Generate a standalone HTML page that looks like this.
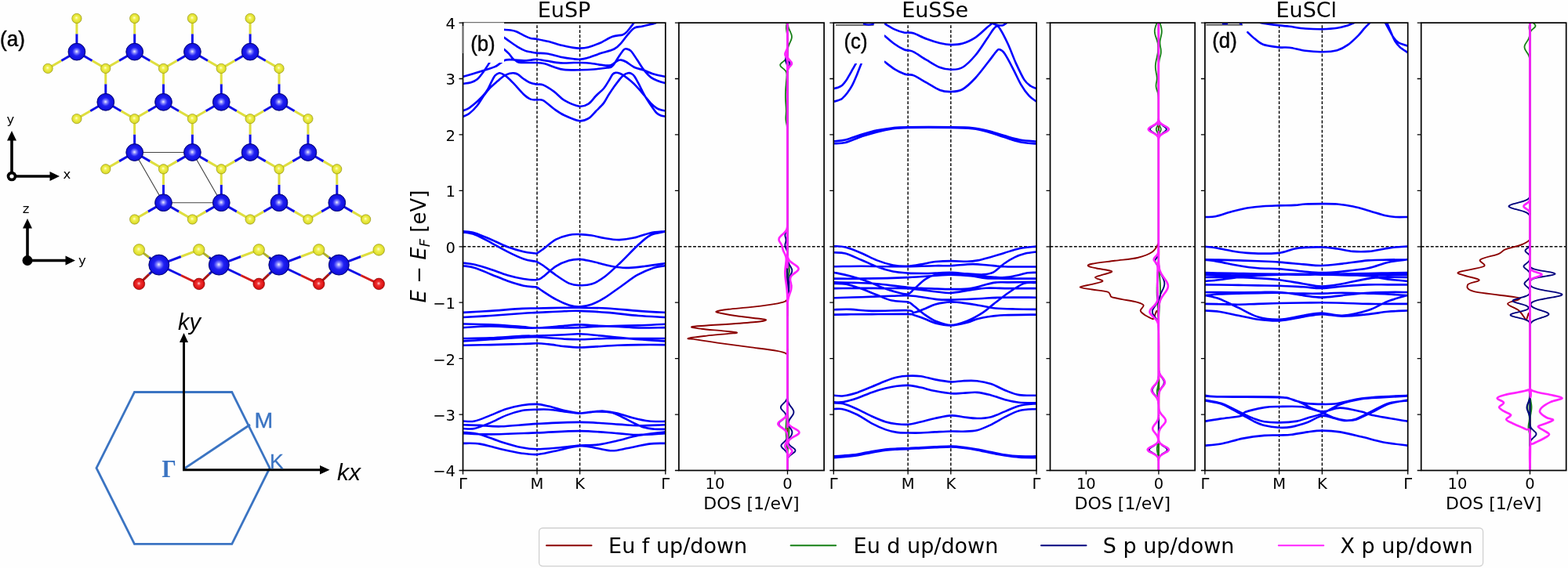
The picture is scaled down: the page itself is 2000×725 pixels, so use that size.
<!DOCTYPE html><html><head><meta charset="utf-8"><title>EuSX band structures</title>
<style>html,body{margin:0;padding:0;background:#fff;}svg{display:block;}text{font-family:'DejaVu Sans', 'Liberation Sans', sans-serif;}</style></head><body>
<svg width="2000" height="725" viewBox="0 0 2000 725">
<rect width="2000" height="725" fill="#fefefe"/>
<defs>
<radialGradient id="gEu" cx="0.5" cy="0.5" r="0.55" fx="0.49" fy="0.48"><stop offset="0" stop-color="#f0f0ff"/><stop offset="0.2" stop-color="#8080ff"/><stop offset="0.45" stop-color="#2020f2"/><stop offset="0.82" stop-color="#1010de"/><stop offset="1" stop-color="#000088"/></radialGradient>
<radialGradient id="gS" cx="0.5" cy="0.5" r="0.55" fx="0.46" fy="0.42"><stop offset="0" stop-color="#ffffe0"/><stop offset="0.3" stop-color="#f2f255"/><stop offset="0.8" stop-color="#dcdc2a"/><stop offset="1" stop-color="#8e8e08"/></radialGradient>
<radialGradient id="gO" cx="0.5" cy="0.5" r="0.55" fx="0.48" fy="0.45"><stop offset="0" stop-color="#ffd0d0"/><stop offset="0.3" stop-color="#f03030"/><stop offset="0.8" stop-color="#d81010"/><stop offset="1" stop-color="#8a0000"/></radialGradient>
<clipPath id="cb0"><rect x="590.5" y="29.1" width="258.3" height="571.4"/></clipPath>
<clipPath id="cd0"><rect x="865.9" y="29.1" width="185.2" height="571.4"/></clipPath>
<clipPath id="cb1"><rect x="1063.3" y="29.1" width="258.7" height="571.4"/></clipPath>
<clipPath id="cd1"><rect x="1339.5" y="29.1" width="184.7" height="571.4"/></clipPath>
<clipPath id="cb2"><rect x="1536.9" y="29.1" width="258.8" height="571.4"/></clipPath>
<clipPath id="cd2"><rect x="1812.7" y="29.1" width="185" height="571.4"/></clipPath>
</defs>
<text transform="translate(0 59.3) scale(0.93 1)" style="font-family:'Liberation Sans',sans-serif" font-size="28" fill="#000" stroke="#000" stroke-width="0.45">(a)</text>
<path d="M97.9 66.1L97.9 43.3M97.9 66.1L78.2 77.5M97.9 66.1L117.6 77.5M171.7 66.1L171.7 43.3M171.7 66.1L151.9 77.5M171.7 66.1L191.4 77.5M245.4 66.1L245.4 43.3M245.4 66.1L225.7 77.5M245.4 66.1L265.1 77.5M319.1 66.1L319.1 43.3M319.1 66.1L299.4 77.5M319.1 66.1L338.9 77.5M134.8 130.3L134.8 107.3M134.8 130.3L115.1 141.7M134.8 130.3L154.5 141.7M208.5 130.3L208.5 107.3M208.5 130.3L188.8 141.7M208.5 130.3L228.2 141.7M282.3 130.3L282.3 107.3M282.3 130.3L262.5 141.7M282.3 130.3L302 141.7M356 130.3L356 107.3M356 130.3L336.3 141.7M356 130.3L375.7 141.7M171.7 194.5L171.6 171.5M171.7 194.5L151.9 205.9M171.7 194.5L191.4 205.9M245.4 194.5L245.4 171.5M245.4 194.5L225.7 205.9M245.4 194.5L265.1 205.9M319.1 194.5L319.1 171.5M319.1 194.5L299.4 205.9M319.1 194.5L338.9 205.9M392.9 194.5L392.9 171.5M392.9 194.5L373.2 205.9M392.9 194.5L412.6 205.9M208.5 258.7L208.5 235.7M208.5 258.7L188.8 270.1M208.5 258.7L228.2 270.1M282.3 258.7L282.3 235.7M282.3 258.7L262.5 270.1M282.3 258.7L302 270.1M356 258.7L356 235.7M356 258.7L336.3 270.1M356 258.7L375.7 270.1M429.8 258.7L429.8 235.7M429.8 258.7L410 270.1M429.8 258.7L449.5 270.1" stroke="#1010e6" stroke-width="3" fill="none"/>
<path d="M97.9 43.3L97.9 23.5M78.2 77.5L61.1 87.4M117.6 77.5L134.7 87.4M171.7 43.3L171.7 23.5M151.9 77.5L134.7 87.4M191.4 77.5L208.5 87.4M245.4 43.3L245.4 23.5M225.7 77.5L208.5 87.4M265.1 77.5L282.2 87.4M319.1 43.3L319.1 23.5M299.4 77.5L282.2 87.4M338.9 77.5L356 87.4M134.8 107.3L134.7 87.4M115.1 141.7L97.9 151.6M154.5 141.7L171.6 151.6M208.5 107.3L208.5 87.4M188.8 141.7L171.6 151.6M228.2 141.7L245.4 151.6M282.3 107.3L282.2 87.4M262.5 141.7L245.4 151.6M302 141.7L319.1 151.6M356 107.3L356 87.4M336.3 141.7L319.1 151.6M375.7 141.7L392.9 151.6M171.6 171.5L171.6 151.6M151.9 205.9L134.8 215.8M191.4 205.9L208.5 215.8M245.4 171.5L245.4 151.6M225.7 205.9L208.5 215.8M265.1 205.9L282.2 215.8M319.1 171.5L319.1 151.6M299.4 205.9L282.2 215.8M338.9 205.9L356 215.8M392.9 171.5L392.9 151.6M373.2 205.9L356 215.8M412.6 205.9L429.7 215.8M208.5 235.7L208.5 215.8M188.8 270.1L171.7 280M228.2 270.1L245.4 280M282.3 235.7L282.2 215.8M262.5 270.1L245.4 280M302 270.1L319.1 280M356 235.7L356 215.8M336.3 270.1L319.1 280M375.7 270.1L392.9 280M429.8 235.7L429.7 215.8M410 270.1L392.9 280M449.5 270.1L466.6 280" stroke="#dede3e" stroke-width="3" fill="none"/>
<path d="M171.7 194.5L245.5 194.5L282.3 258.7L208.6 258.7Z" stroke="#444" stroke-width="1.1" fill="none"/>
<circle cx="97.9" cy="23.5" r="6.2" fill="url(#gS)" stroke="#9a9a18" stroke-width="0.6"/>
<circle cx="61.1" cy="87.4" r="6.2" fill="url(#gS)" stroke="#9a9a18" stroke-width="0.6"/>
<circle cx="134.7" cy="87.4" r="6.2" fill="url(#gS)" stroke="#9a9a18" stroke-width="0.6"/>
<circle cx="171.7" cy="23.5" r="6.2" fill="url(#gS)" stroke="#9a9a18" stroke-width="0.6"/>
<circle cx="208.5" cy="87.4" r="6.2" fill="url(#gS)" stroke="#9a9a18" stroke-width="0.6"/>
<circle cx="245.4" cy="23.5" r="6.2" fill="url(#gS)" stroke="#9a9a18" stroke-width="0.6"/>
<circle cx="282.2" cy="87.4" r="6.2" fill="url(#gS)" stroke="#9a9a18" stroke-width="0.6"/>
<circle cx="319.1" cy="23.5" r="6.2" fill="url(#gS)" stroke="#9a9a18" stroke-width="0.6"/>
<circle cx="356" cy="87.4" r="6.2" fill="url(#gS)" stroke="#9a9a18" stroke-width="0.6"/>
<circle cx="97.9" cy="151.6" r="6.2" fill="url(#gS)" stroke="#9a9a18" stroke-width="0.6"/>
<circle cx="171.6" cy="151.6" r="6.2" fill="url(#gS)" stroke="#9a9a18" stroke-width="0.6"/>
<circle cx="245.4" cy="151.6" r="6.2" fill="url(#gS)" stroke="#9a9a18" stroke-width="0.6"/>
<circle cx="319.1" cy="151.6" r="6.2" fill="url(#gS)" stroke="#9a9a18" stroke-width="0.6"/>
<circle cx="392.9" cy="151.6" r="6.2" fill="url(#gS)" stroke="#9a9a18" stroke-width="0.6"/>
<circle cx="134.8" cy="215.8" r="6.2" fill="url(#gS)" stroke="#9a9a18" stroke-width="0.6"/>
<circle cx="208.5" cy="215.8" r="6.2" fill="url(#gS)" stroke="#9a9a18" stroke-width="0.6"/>
<circle cx="282.2" cy="215.8" r="6.2" fill="url(#gS)" stroke="#9a9a18" stroke-width="0.6"/>
<circle cx="356" cy="215.8" r="6.2" fill="url(#gS)" stroke="#9a9a18" stroke-width="0.6"/>
<circle cx="429.7" cy="215.8" r="6.2" fill="url(#gS)" stroke="#9a9a18" stroke-width="0.6"/>
<circle cx="171.7" cy="280" r="6.2" fill="url(#gS)" stroke="#9a9a18" stroke-width="0.6"/>
<circle cx="245.4" cy="280" r="6.2" fill="url(#gS)" stroke="#9a9a18" stroke-width="0.6"/>
<circle cx="319.1" cy="280" r="6.2" fill="url(#gS)" stroke="#9a9a18" stroke-width="0.6"/>
<circle cx="392.9" cy="280" r="6.2" fill="url(#gS)" stroke="#9a9a18" stroke-width="0.6"/>
<circle cx="466.6" cy="280" r="6.2" fill="url(#gS)" stroke="#9a9a18" stroke-width="0.6"/>
<circle cx="97.9" cy="66.1" r="10.9" fill="url(#gEu)" stroke="#00006e" stroke-width="0.9"/>
<circle cx="171.7" cy="66.1" r="10.9" fill="url(#gEu)" stroke="#00006e" stroke-width="0.9"/>
<circle cx="245.4" cy="66.1" r="10.9" fill="url(#gEu)" stroke="#00006e" stroke-width="0.9"/>
<circle cx="319.1" cy="66.1" r="10.9" fill="url(#gEu)" stroke="#00006e" stroke-width="0.9"/>
<circle cx="134.8" cy="130.3" r="10.9" fill="url(#gEu)" stroke="#00006e" stroke-width="0.9"/>
<circle cx="208.5" cy="130.3" r="10.9" fill="url(#gEu)" stroke="#00006e" stroke-width="0.9"/>
<circle cx="282.3" cy="130.3" r="10.9" fill="url(#gEu)" stroke="#00006e" stroke-width="0.9"/>
<circle cx="356" cy="130.3" r="10.9" fill="url(#gEu)" stroke="#00006e" stroke-width="0.9"/>
<circle cx="171.7" cy="194.5" r="10.9" fill="url(#gEu)" stroke="#00006e" stroke-width="0.9"/>
<circle cx="245.4" cy="194.5" r="10.9" fill="url(#gEu)" stroke="#00006e" stroke-width="0.9"/>
<circle cx="319.1" cy="194.5" r="10.9" fill="url(#gEu)" stroke="#00006e" stroke-width="0.9"/>
<circle cx="392.9" cy="194.5" r="10.9" fill="url(#gEu)" stroke="#00006e" stroke-width="0.9"/>
<circle cx="208.5" cy="258.7" r="10.9" fill="url(#gEu)" stroke="#00006e" stroke-width="0.9"/>
<circle cx="282.3" cy="258.7" r="10.9" fill="url(#gEu)" stroke="#00006e" stroke-width="0.9"/>
<circle cx="356" cy="258.7" r="10.9" fill="url(#gEu)" stroke="#00006e" stroke-width="0.9"/>
<circle cx="429.8" cy="258.7" r="10.9" fill="url(#gEu)" stroke="#00006e" stroke-width="0.9"/>
<path d="M202.8 338.1L230.9 327.5M202.8 338.1L230.9 351.5M279.3 338.1L307.3 327.5M279.3 338.1L307.3 351.5M355.8 338.1L383.8 327.5M355.8 338.1L383.8 351.5M432.3 338.1L460.3 327.5M432.3 338.1L460.3 351.5" stroke="#1010e6" stroke-width="3" fill="none"/>
<path d="M230.9 327.5L253.8 318.9M307.3 327.5L330.2 318.9M383.8 327.5L406.7 318.9M460.3 327.5L483.2 318.9" stroke="#dede3e" stroke-width="3" fill="none"/>
<path d="M230.9 351.5L253.8 362.4M307.3 351.5L330.2 362.4M383.8 351.5L406.7 362.4M460.3 351.5L483.2 362.4" stroke="#d41c1c" stroke-width="3" fill="none"/>
<path d="M202.8 338.1L190.1 328.5M202.8 338.1L190.1 350.2M279.3 338.1L266.6 328.5M279.3 338.1L266.6 350.2M355.8 338.1L343 328.5M355.8 338.1L343 350.2M432.3 338.1L419.5 328.5M432.3 338.1L419.5 350.2" stroke="#1414b8" stroke-width="3" fill="none"/>
<path d="M190.1 328.5L177.4 318.9M266.6 328.5L253.8 318.9M343 328.5L330.2 318.9M419.5 328.5L406.7 318.9" stroke="#b0b02a" stroke-width="3" fill="none"/>
<path d="M190.1 350.2L177.4 362.4M266.6 350.2L253.8 362.4M343 350.2L330.2 362.4M419.5 350.2L406.7 362.4" stroke="#a81414" stroke-width="3" fill="none"/>
<circle cx="177.4" cy="318.9" r="7.3" fill="url(#gS)" stroke="#9a9a18" stroke-width="0.6"/>
<circle cx="177.4" cy="362.4" r="7.3" fill="url(#gO)" stroke="#800000" stroke-width="0.6"/>
<circle cx="253.8" cy="318.9" r="7.3" fill="url(#gS)" stroke="#9a9a18" stroke-width="0.6"/>
<circle cx="253.8" cy="362.4" r="7.3" fill="url(#gO)" stroke="#800000" stroke-width="0.6"/>
<circle cx="330.2" cy="318.9" r="7.3" fill="url(#gS)" stroke="#9a9a18" stroke-width="0.6"/>
<circle cx="330.2" cy="362.4" r="7.3" fill="url(#gO)" stroke="#800000" stroke-width="0.6"/>
<circle cx="406.7" cy="318.9" r="7.3" fill="url(#gS)" stroke="#9a9a18" stroke-width="0.6"/>
<circle cx="406.7" cy="362.4" r="7.3" fill="url(#gO)" stroke="#800000" stroke-width="0.6"/>
<circle cx="483.2" cy="318.9" r="7.3" fill="url(#gS)" stroke="#9a9a18" stroke-width="0.6"/>
<circle cx="483.2" cy="362.4" r="7.3" fill="url(#gO)" stroke="#800000" stroke-width="0.6"/>
<circle cx="202.8" cy="338.1" r="13" fill="url(#gEu)" stroke="#00006e" stroke-width="0.9"/>
<circle cx="279.3" cy="338.1" r="13" fill="url(#gEu)" stroke="#00006e" stroke-width="0.9"/>
<circle cx="355.8" cy="338.1" r="13" fill="url(#gEu)" stroke="#00006e" stroke-width="0.9"/>
<circle cx="432.3" cy="338.1" r="13" fill="url(#gEu)" stroke="#00006e" stroke-width="0.9"/>
<path d="M15 225L15 177" stroke="#000" stroke-width="3.6"/><path d="M15 225L66 225" stroke="#000" stroke-width="3.6"/><path d="M9 179.5L15 167L21 179.5Z" fill="#000"/><path d="M63.5 219L76 225L63.5 231Z" fill="#000"/><circle cx="15" cy="225" r="6.3" fill="#000"/><circle cx="15" cy="225" r="2.6" fill="#fff"/>
<text x="13.5" y="158" font-size="16.5" text-anchor="middle" fill="#000">y</text>
<text x="85.5" y="228" font-size="16.5" text-anchor="middle" fill="#000">x</text>
<path d="M35 332.5L35 289" stroke="#000" stroke-width="3.6"/><path d="M35 332.5L86 332.5" stroke="#000" stroke-width="3.6"/><path d="M29 291.5L35 279L41 291.5Z" fill="#000"/><path d="M83.5 326.5L96 332.5L83.5 338.5Z" fill="#000"/><circle cx="35" cy="332.5" r="6.5" fill="#000"/>
<text x="33" y="272" font-size="16.5" text-anchor="middle" fill="#000">z</text>
<text x="105" y="338" font-size="16.5" text-anchor="middle" fill="#000">y</text>
<path d="M123 597.4L171.5 500.5L295.8 500.5L344 597.4L295.8 694.3L171.5 694.3Z" stroke="#3b74c2" stroke-width="2.8" fill="none" stroke-linejoin="miter"/>
<path d="M234.5 598.5L319 542" stroke="#3b74c2" stroke-width="2.8"/>
<path d="M234.5 599.8L234.5 436" stroke="#000" stroke-width="3"/>
<path d="M229 437L234.5 425L240 437Z" fill="#000"/>
<path d="M233 599.8L409 599.8" stroke="#000" stroke-width="3"/>
<path d="M408 594L420.5 599.8L408 605.6Z" fill="#000"/>
<text x="324.5" y="546" font-size="28.5" fill="#3b74c2" stroke="#3b74c2" stroke-width="0.35" style="font-family:'Liberation Sans',sans-serif">M</text>
<text x="344" y="598" font-size="26.5" fill="#3b74c2" stroke="#3b74c2" stroke-width="0.35" style="font-family:'Liberation Sans',sans-serif">K</text>
<text transform="translate(206.5 609.4) scale(0.9 1)" font-size="32" font-weight="bold" fill="#3b74c2" style="font-family:'Liberation Serif',serif">&#915;</text>
<text x="227" y="420.5" font-size="29" font-style="italic" fill="#000" style="font-family:'Liberation Sans',sans-serif">ky</text>
<text x="430" y="613" font-size="30" font-style="italic" fill="#000" style="font-family:'Liberation Sans',sans-serif">kx</text>
<text x="719.6" y="21.5" font-size="27" text-anchor="middle" fill="#000">EuSP</text>
<path d="M685 600.5L685 29.1M739.6 600.5L739.6 29.1M590.5 314.8L848.8 314.8" stroke="#000" stroke-width="1.4" stroke-dasharray="3.85 2.22" fill="none"/>
<g clip-path="url(#cb0)"><path d="M643.1 37.9C644.5 38 648.8 38.1 651.3 38.5C653.8 38.9 655.3 38.9 658.4 40.2C661.5 41.5 667 44.6 670.1 46.1C673.2 47.6 674.7 48.4 677.1 49C679.5 49.6 681 49.2 684.8 49.9C688.6 50.6 694.6 51.7 700 53.1C705.4 54.5 712.4 56.9 717.4 58.1C722.4 59.4 726.2 60 729.8 60.6C733.4 61.2 735.6 61.7 739.1 61.6C742.6 61.5 746.2 61.3 750.5 60.2C754.8 59.1 759.9 57.2 765 55C770.1 52.8 776.3 48.5 781.1 46.7C785.9 44.9 791.1 45.3 794 44.4C796.9 43.5 796.9 43.1 798.7 41.4C800.5 39.7 802.7 36.8 804.6 34.4C806.5 32 809.1 28.2 810 27M643.1 47.9C644.5 48.9 648.4 51.7 651.3 53.7C654.2 55.8 657.6 58.3 660.7 60.2C663.8 62.1 667.4 63.9 670.1 64.9C672.8 65.9 674.7 65.8 677.1 66.3C679.5 66.8 681.3 67.2 684.8 67.6C688.3 68 693 67.7 698 68.5C703 69.3 709.3 71.6 715 72.7C720.7 73.8 727.9 74.8 732 75.3C736.1 75.8 736.8 75.9 739.6 75.7C742.4 75.5 744.6 75.3 749 74C753.4 72.7 760.2 70 766 68.1C771.8 66.2 779 64.8 783.5 62.5C788 60.2 789.9 57.4 792.8 54.3C795.7 51.2 798.2 46.9 801 43.8C803.8 40.7 806.4 37.3 809.3 35.6C812.2 33.9 815.9 34.4 818.6 33.8C821.3 33.2 823 32.7 825.7 32C828.4 31.3 832.5 30.5 835 29.7C837.5 28.9 840 27.4 841 27M640 60.5C640.6 61 642.1 62.1 643.6 63.4C645.1 64.7 647.3 66.6 649 68.4C650.7 70.2 652.1 72.7 653.7 74.3C655.3 75.9 657 76.9 658.4 77.8C659.8 78.7 660 79.2 662.3 79.6C664.6 80 668.2 79.9 672 80C675.8 80.1 681 79.8 684.8 80C688.6 80.2 691 80.3 694.6 81.2C698.2 82.1 702.4 84.2 706.5 85.5C710.6 86.8 713.7 88.3 719.2 88.9C724.7 89.5 733.2 89.4 739.6 89.3C746 89.2 751.7 89 757.5 88.5C763.3 88 770.8 86.9 774.5 86.4C778.2 85.9 778.2 86.2 779.6 85.5C781 84.8 781.4 84.2 783 82.1C784.6 80 786.9 75.8 789 72.7C791.1 69.6 794 65.1 795.7 63.4C797.4 61.7 797.8 62.2 799.3 62.5C800.8 62.8 802.4 62.6 804.6 64.9C806.9 67.2 810.1 72.6 812.8 76.6C815.5 80.6 818.1 85.2 821 88.9C823.9 92.6 827.2 96.5 830.4 98.9C833.6 101.3 837.1 102.3 840 103.5C842.9 104.7 846.7 105.5 848 105.9M590.9 97.8C593.1 97.2 599.6 95.4 603.9 94.1C608.2 92.8 612.1 91.5 616.6 90.1C621.1 88.6 627.4 86.9 630.8 85.4C634.2 84 635.1 82.8 637.2 81.4C639.3 80 641.4 77.9 643.6 77C645.8 76.1 648.1 76.2 650.4 76.1C652.7 76 654.2 76.4 657.2 76.6C660.2 76.8 664.8 77.4 668.2 77.4C671.6 77.4 674.8 76.9 677.6 76.6C680.4 76.3 681.4 75.5 684.8 75.7C688.2 75.9 693 77 698 77.8C703 78.6 709.3 80 715 80.4C720.7 80.8 727.9 80.1 732 80C736.1 79.9 736.1 79.9 739.6 80C743.1 80.1 748.1 80.2 753.2 80.8C758.3 81.4 765.8 83 770.2 83.4C774.6 83.8 776.8 83.9 779.6 83C782.4 82.1 785.1 78.9 787.2 77.8C789.3 76.7 790.4 76.4 792.3 76.6C794.2 76.8 795.9 77.4 798.7 79C801.5 80.6 805.6 84.2 809.3 86C813 87.8 817.1 88.1 821 89.5C824.9 90.9 828.2 92.8 832.7 94.2C837.2 95.6 845.5 97.1 848 97.7M590.9 106.8C592.5 106.5 597.8 106.1 600.7 105.2C603.7 104.3 606 103.5 608.6 101.3C611.2 99 614 95.3 616.6 91.7C619.2 88.1 621.9 83.8 624.5 79.8C627.1 75.8 630.8 70 632 68M590.6 141.4C591.9 140.8 595.4 139.8 598.4 137.8C601.4 135.8 605.6 132.3 608.7 129.5C611.8 126.7 614.8 123.8 617 121.2C619.2 118.6 620.5 116.9 622.2 114C623.9 111.1 625.8 106.5 627.3 103.6C628.8 100.7 629.9 98.1 631.5 96.4C633.1 94.7 635 93.6 636.7 93.3C638.4 93 640.1 93.9 641.8 94.8C643.5 95.7 644.8 96.5 647 98.5C649.2 100.5 651.8 103.1 655.3 106.7C658.8 110.3 664.1 116.9 667.7 120.2C671.3 123.5 673.9 125.4 676.8 126.6C679.6 127.8 682.1 127.1 684.8 127.4C687.4 127.7 689 126.2 692.7 128.2C696.4 130.2 702.5 136.1 707 139.3C711.5 142.5 714.6 144.8 720 147.3C725.4 149.8 734 153.7 739.1 154.3C744.2 155 747 153.2 750.5 151.2C754 149.1 756.8 145.3 760 142C763.2 138.7 767.3 135.1 770 131.6C772.7 128.1 774.1 124.5 776.2 121.2C778.3 117.9 780.3 114.8 782.4 111.9C784.5 109 786.5 106.2 788.6 103.6C790.7 101 792.7 98.1 794.8 96.4C796.9 94.7 799.4 93.7 801.1 93.3C802.8 92.9 803.8 93.1 805.2 93.8C806.6 94.5 807.8 95.2 809.3 97.4C810.8 99.6 812.8 103.4 814.5 106.7C816.2 110 818 113.8 819.7 117.1C821.4 120.4 823 123.3 824.9 126.4C826.8 129.5 829 132.8 831.1 135.7C833.2 138.6 835.3 142 837.3 144C839.3 146 841 146.7 843 147.5C845 148.3 848 148.5 849 148.7M590.6 148.7C591.9 148.1 595.4 147.3 598.4 145C601.4 142.7 605.6 138.5 608.7 134.7C611.8 130.9 614.4 125.9 617 122.3C619.6 118.7 621.3 116.1 624.2 113C627.1 109.9 631.5 106.3 634.6 103.6C637.7 100.9 640.3 98.5 642.9 96.9C645.5 95.3 648 94.4 650.1 93.8C652.2 93.2 653.6 93.1 655.3 93.3C657 93.5 658.4 93.6 660.5 94.8C662.6 96 665.1 98.7 667.7 100.5C670.3 102.3 673.1 104.3 676 105.5C678.9 106.7 682 107.1 684.8 107.6C687.6 108.1 689 106.8 692.7 108.4C696.4 110 702.5 113.8 707 117.1C711.5 120.4 714.6 125.1 720 128.2C725.4 131.3 734 135 739.1 135.7C744.2 136.4 747 134.8 750.5 132.6C754 130.4 756.8 125.8 760 122.5C763.2 119.2 767.3 116.2 770 113C772.7 109.8 774.3 106.6 776.2 103.6C778.1 100.6 779.9 96.6 781.4 94.8C782.9 93 784 93 785.5 92.8C787 92.6 788.8 93 790.7 93.8C792.6 94.6 794.6 95.9 796.9 97.4C799.1 99 801.8 101 804.2 103.1C806.6 105.2 809 107.3 811.4 109.8C813.8 112.3 816.6 115.7 818.7 118.1C820.8 120.5 821.9 122 823.8 124.3C825.7 126.5 827.8 129.3 830 131.6C832.2 133.8 835.1 136.4 837.3 137.8C839.5 139.2 841 139.7 843 140.3C845 140.9 848 141.2 849 141.4M590.8 295.3C593.3 295.7 599.8 295.7 605.7 297.4C611.6 299.1 619.5 302.8 626.4 305.7C633.3 308.6 640.2 312.4 647.1 315C654 317.6 661.9 319.8 667.8 321.2C673.6 322.6 679.4 322.9 682.2 323.3C685.1 323.6 683.2 324.1 684.9 323.3C686.7 322.4 688.6 321 692.6 318.1C696.6 315.2 703.6 308.7 709.1 305.7C714.7 302.7 720.7 301 725.7 299.9C730.7 298.8 734.3 299 739.1 299.1C744 299.2 749.3 299.7 754.7 300.5C760 301.3 765.4 303.1 771.2 304C777.1 305 783.6 306.2 789.8 306.1C796 306 801.9 305.1 808.5 303.6C815 302.2 822.6 298.8 829.2 297.4C835.7 296 844.7 295.7 847.8 295.3M590.8 296.4C593.3 296.9 599.8 297.2 605.7 299.5C611.6 301.7 619.5 306.2 626.4 309.8C633.3 313.5 640.2 317.8 647.1 321.2C654 324.7 661.9 328.5 667.8 330.5C673.6 332.6 679.4 333 682.2 333.6C685.1 334.2 683.2 333.4 684.9 334.2C686.7 335.1 688.6 336 692.6 338.8C696.6 341.6 703.6 347.4 709.1 351.2C714.7 355 720.7 359.4 725.7 361.6C730.7 363.7 734.3 364.1 739.1 364.2C744 364.4 749.3 364.4 754.7 362.6C760 360.8 765 357.9 771.2 353.3C777.4 348.6 785 341.2 791.9 334.7C798.8 328.1 806.4 319.7 812.6 314C818.8 308.3 823.3 303.6 829.2 300.5C835 297.5 844.7 296.6 847.8 295.8M590.8 335.7C593.3 336 599.8 336.4 605.7 337.8C611.6 339.1 619.5 341.7 626.4 344C633.3 346.2 640.2 349.2 647.1 351.2C654 353.2 661.5 355 667.8 356C674.1 356.9 680.8 357.5 684.9 357C689.1 356.6 688.6 356.1 692.6 353.3C696.6 350.4 703.6 343.3 709.1 339.8C714.7 336.4 720.7 334.1 725.7 332.6C730.7 331.1 734.3 330.8 739.1 330.9C744 331.1 749.3 332.5 754.7 333.6C760 334.8 766.4 336.6 771.2 337.8C776 338.9 778.5 339.8 783.6 340.5C788.8 341.1 795.7 342 802.3 341.9C808.8 341.8 815.4 340.8 822.9 339.8C830.5 338.9 843.6 336.9 847.8 336.3M590.8 339.2C593.3 339.7 599.8 340.1 605.7 341.9C611.6 343.7 619.5 347.4 626.4 350.2C633.3 352.9 640.2 356 647.1 358.5C654 360.9 661.9 363.4 667.8 364.7C673.6 366 679.4 366 682.2 366.3C685.1 366.7 683.2 365.8 684.9 366.7C686.7 367.7 688.6 369.3 692.6 371.9C696.6 374.5 703.6 379.3 709.1 382.2C714.7 385.2 720.7 387.9 725.7 389.5C730.7 391 734.3 391.7 739.1 391.6C744 391.4 749.3 390.4 754.7 388.5C760 386.6 765 384 771.2 380.2C777.4 376.4 785 370.5 791.9 365.7C798.8 360.9 805.7 355.2 812.6 351.2C819.5 347.2 827.4 343.9 833.3 341.9C839.2 339.9 845.4 339.7 847.8 339.2M590.7 398.9C596.5 398.6 612.9 397.7 625.5 396.9C638.1 396 656.1 394.5 666 393.9C675.9 393.3 675.9 393.7 684.9 393.5C693.9 393.3 710.9 392.9 720 392.8C729.1 392.7 730.6 392.7 739.6 392.8C748.6 392.9 761.5 392.8 774 393.5C786.5 394.2 802.1 396 814.5 396.9C826.9 397.8 842.6 398.6 848.3 398.9M590.7 405C596.5 404.6 612.9 403.8 625.5 403C638.1 402.1 656.1 400.7 666 400C675.9 399.3 675.9 399.4 684.9 398.9C693.9 398.5 710.9 397.6 720 397.3C729.1 396.9 730.6 396.6 739.6 396.9C748.6 397.1 761.5 397.9 774 398.9C786.5 399.9 802.1 401.9 814.5 403C826.9 404 842.6 404.6 848.3 405M590.7 413.5C596.5 413.6 612.9 413.8 625.5 414.4C638.1 415 656.1 416.5 666 417.1C675.9 417.8 675.9 418.7 684.9 418.5C693.9 418.3 710.9 416.5 720 415.8C729.1 415.1 730.6 414.4 739.6 414.4C748.6 414.5 761.5 416 774 416.2C786.5 416.3 802.1 415.8 814.5 415.4C826.9 415 842.6 414 848.3 413.8M590.7 418.1C596.5 417.8 612.9 416.4 625.5 416.5C638.1 416.5 656.1 418.1 666 418.5C675.9 418.8 675.9 418.5 684.9 418.5C693.9 418.5 710.9 418.5 720 418.5C729.1 418.4 730.6 418.4 739.6 418.1C748.6 417.7 761.5 416.4 774 416.5C786.5 416.5 802.1 418.2 814.5 418.5C826.9 418.7 842.6 418.1 848.3 418.1M590.7 432C596.5 431.9 612.9 431.8 625.5 431.3C638.1 430.8 656.1 429.3 666 428.9C675.9 428.4 675.9 428.9 684.9 428.6C693.9 428.3 710.9 427.6 720 427.3C729.1 426.9 730.6 426 739.6 426.3C748.6 426.6 761.5 428.1 774 429.3C786.5 430.4 802.1 432.3 814.5 433.3C826.9 434.3 842.6 435 848.3 435.4M590.7 435.4C596.5 435 612.9 434.1 625.5 433.3C638.1 432.5 656.1 431.1 666 430.6C675.9 430.1 675.9 429.9 684.9 430.2C693.9 430.6 710.9 432.1 720 432.7C729.1 433.2 730.6 433.4 739.6 433.3C748.6 433.2 761.5 432.2 774 432C786.5 431.8 802.1 432 814.5 432C826.9 432 842.6 432 848.3 432M590.7 440.8C596.5 440.6 612.9 440.4 625.5 440.1C638.1 439.8 656.1 439.3 666 439C675.9 438.7 679.3 438.3 684.9 438.3C690.5 438.4 693.9 438.8 699.8 439.4C705.6 440 713.4 441.4 720 442.1C726.6 442.8 732.8 443.4 739.6 443.5C746.3 443.5 752.5 442.8 760.5 442.4C768.5 441.9 778.5 441.1 787.5 440.8C796.5 440.4 804.4 440.2 814.5 440.1C824.6 440 842.6 440.1 848.3 440.1M590.7 537.5C593.1 537.5 599.4 538.8 605.3 537.5C611.1 536.3 618.8 532.7 625.5 530.1C632.3 527.5 639 524.1 645.8 522C652.5 519.9 659.5 518.3 666 517.3C672.5 516.3 679.3 515.7 684.9 515.9C690.5 516.2 693.9 517.3 699.8 518.6C705.6 520 713.4 522.6 720 524C726.6 525.5 734 527.1 739.6 527.4C745.2 527.7 748.7 526.2 753.8 525.8C758.8 525.3 764.3 524.4 770 524.7C775.6 525 781.2 525.9 787.5 527.4C793.8 528.9 801 531.8 807.8 533.5C814.5 535.2 821.3 536.8 828 537.5C834.8 538.3 844.9 537.9 848.3 537.9M590.7 547C593.1 547 599.4 548.2 605.3 547C611.1 545.7 618.8 542.4 625.5 539.6C632.3 536.7 639 532.7 645.8 530.1C652.5 527.5 659.5 525.3 666 524C672.5 522.8 679.3 522.9 684.9 522.7C690.5 522.5 693.9 522.2 699.8 522.7C705.6 523.1 713.4 524.5 720 525.4C726.6 526.2 732.8 527.7 739.6 527.7C746.3 527.7 753.6 525.5 760.5 525.4C767.4 525.2 775.1 525.5 780.8 526.7C786.4 528 789.8 530.7 794.3 532.8C798.8 534.9 803.3 537.4 807.8 539.6C812.3 541.7 816.8 544.3 821.3 545.6C825.8 547 830.3 547.3 834.8 547.7C839.3 548 846 547.9 848.3 547.9M590.7 542.3C594.2 542.4 603.9 542.6 612 542.9C620.1 543.3 626.9 544.6 639 544.3C651.2 543.9 668.1 541.8 684.9 540.9C701.7 540 722.5 538.8 739.6 538.9C756.7 539 775 540.8 787.5 541.6C800 542.3 804.4 543.2 814.5 543.3C824.6 543.4 842.6 542.4 848.3 542.3M590.7 553.1C596.5 553.3 609.8 554.5 625.5 554.4C641.2 554.3 665.9 553.1 684.9 552.4C703.9 551.7 722.5 550 739.6 550.1C756.7 550.2 775 552.2 787.5 553.1C800 553.9 804.4 555.1 814.5 555.1C824.6 555.1 842.6 553.4 848.3 553.1M590.7 551.7C594.2 552.2 603.9 552.4 612 554.4C620.1 556.4 630 561 639 563.9C648 566.7 658.4 569.7 666 571.3C673.7 572.9 678.2 573.2 684.9 573.3C691.7 573.4 697.4 572.7 706.5 572C715.6 571.2 730.6 569.3 739.6 568.6C748.6 567.9 752.5 568.9 760.5 567.9C768.5 566.9 778.5 564.5 787.5 562.5C796.5 560.5 804.4 557.6 814.5 555.8C824.6 553.9 842.6 552.2 848.3 551.4M590.7 565.9C594.2 566 603.9 565.3 612 566.6C620.1 567.8 630 571.3 639 573.3C648 575.3 658.4 577.6 666 578.7C673.7 579.8 678.2 580.5 684.9 580.1C691.7 579.6 697.4 577.8 706.5 576C715.6 574.2 730.6 569.9 739.6 569.3C748.6 568.6 753.6 570.9 760.5 572C767.4 573 774 575.3 780.8 575.3C787.5 575.3 793.1 573.4 801 572C808.9 570.5 820.1 567.6 828 566.6C835.9 565.5 844.9 566 848.3 565.9" stroke="#0000ff" stroke-width="2.6" fill="none" stroke-linecap="round" stroke-linejoin="round"/>
<rect x="590.5" y="28.4" width="52.5" height="51.6" fill="#fefefe"/>
</g>
<text transform="translate(600.2 65) scale(0.94 1)" font-size="27.4" fill="#000" stroke="#000" stroke-width="0.45" style="font-family:'Liberation Sans',sans-serif">(b)</text>
<rect x="590.5" y="29.1" width="258.3" height="571.4" fill="none" stroke="#000" stroke-width="1.7"/>
<rect x="591.6" y="27.9" width="51.4" height="2.3" fill="#fefefe"/>
<path d="M590.5 28.7L643 28.7" stroke="#505050" stroke-width="1"/>
<path d="M590.5 33L590.5 68" stroke="#fefefe" stroke-width="0.7" stroke-opacity="0.6"/>
<path d="M585.5 29.1L590.5 29.1M585.5 100.5L590.5 100.5M585.5 171.9L590.5 171.9M585.5 243.4L590.5 243.4M585.5 314.8L590.5 314.8M585.5 386.2L590.5 386.2M585.5 457.7L590.5 457.7M585.5 529.1L590.5 529.1M585.5 600.5L590.5 600.5M590.5 600.5L590.5 605.5M685 600.5L685 605.5M739.6 600.5L739.6 605.5M848.8 600.5L848.8 605.5" stroke="#000" stroke-width="1.3"/>
<text x="590.5" y="623.5" font-size="19.5" text-anchor="middle" fill="#000">&#915;</text>
<text x="685" y="623.5" font-size="19.5" text-anchor="middle" fill="#000">M</text>
<text x="739.6" y="623.5" font-size="19.5" text-anchor="middle" fill="#000">K</text>
<text x="848.8" y="623.5" font-size="19.5" text-anchor="middle" fill="#000">&#915;</text>
<text x="581" y="37" font-size="19.5" text-anchor="end" fill="#000">4</text>
<text x="581" y="108.4" font-size="19.5" text-anchor="end" fill="#000">3</text>
<text x="581" y="179.8" font-size="19.5" text-anchor="end" fill="#000">2</text>
<text x="581" y="251.3" font-size="19.5" text-anchor="end" fill="#000">1</text>
<text x="581" y="322.7" font-size="19.5" text-anchor="end" fill="#000">0</text>
<text x="581" y="394.1" font-size="19.5" text-anchor="end" fill="#000">&#8722;1</text>
<text x="581" y="465.6" font-size="19.5" text-anchor="end" fill="#000">&#8722;2</text>
<text x="581" y="537" font-size="19.5" text-anchor="end" fill="#000">&#8722;3</text>
<text x="581" y="608.4" font-size="19.5" text-anchor="end" fill="#000">&#8722;4</text>
<path d="M865.9 314.8L1051.1 314.8" stroke="#000" stroke-width="1.4" stroke-dasharray="3.85 2.22" fill="none"/>
<g clip-path="url(#cd0)" fill="none" stroke-linejoin="round"><path d="M1004.4 28.4C1004.4 86.2 1004.6 315.9 1004.4 375C1004.2 434.1 1004.5 381.3 1003.4 383.1C1002.3 384.9 1001.1 385 997.9 385.9C994.7 386.8 991 387.6 984.1 388.6C977.2 389.6 965.8 391.1 956.6 392.1C947.4 393.1 936.1 393.9 929 394.8C921.9 395.7 915.4 396.8 913.8 397.6C912.2 398.4 914.5 398.7 919.3 399.7C924.1 400.7 934.3 402.6 942.8 403.8C951.3 405 964.6 406.2 970.3 407C976 407.8 977.2 407.8 977.2 408.3C977.2 408.9 976 409.6 970.3 410.3C964.6 411.1 954.3 411.9 942.8 412.8C931.3 413.7 911.5 414.8 901.4 415.5C891.3 416.2 883.2 416.5 882.1 417.2C881 417.9 887.8 418.8 894.5 419.7C901.2 420.6 914.5 421.6 922.1 422.4C929.7 423.2 938.9 423.9 940 424.5C941.1 425.1 935.4 425.2 929 425.9C922.6 426.6 909.9 427.6 901.4 428.6C892.9 429.6 880.2 431 877.9 431.8C875.6 432.6 881.4 432.4 887.6 433.4C893.8 434.4 903.7 436 915.2 437.6C926.7 439.2 944 441.4 956.6 443.1C969.2 444.8 983.3 446.5 991 447.9C998.7 449.3 1000.6 449.7 1002.8 451.4C1005 453.1 1004.1 433.2 1004.4 458C1004.7 482.8 1004.4 576.3 1004.4 600" stroke="#8b0000" stroke-width="1.9"/><path d="M1003.6 28.4C1003.6 28.6 1003.5 29.4 1003.4 29.9C1003.3 30.4 1003.2 30.9 1003.2 31.4C1003.1 31.9 1003 32.4 1003 32.9C1003 33.4 1002.9 33.9 1002.9 34.4C1002.9 34.9 1002.9 35.4 1002.9 35.9C1002.9 36.4 1003 36.9 1003 37.4C1003.1 37.9 1003.1 38.4 1003.2 38.9C1003.3 39.4 1003.4 39.9 1003.4 40.4C1003.5 40.9 1003.6 41.4 1003.7 41.9C1003.8 42.4 1003.8 42.9 1003.9 43.4C1004 43.9 1004 44.4 1004.1 44.9C1004.1 45.4 1004.2 45.9 1004.2 46.4C1004.2 46.9 1004.3 47.4 1004.3 47.9C1004.3 48.4 1004.3 48.9 1004.3 49.4C1004.4 49.9 1004.4 47.9 1004.4 50.9C1004.4 53.9 1004.4 64.4 1004.4 67.4C1004.4 70.4 1004.4 68.4 1004.3 68.9C1004.3 69.4 1004.3 69.9 1004.3 70.4C1004.2 70.9 1004.2 71.4 1004.1 71.9C1004 72.4 1003.8 72.9 1003.6 73.4C1003.4 73.9 1003.2 74.4 1002.9 74.9C1002.5 75.4 1002.1 75.9 1001.6 76.4C1001.1 76.9 1000.5 77.4 999.9 77.9C999.3 78.4 998.6 78.9 998 79.4C997.4 79.9 996.7 80.4 996.3 80.9C995.8 81.4 995.4 81.9 995.3 82.4C995.1 82.9 995.2 83.4 995.4 83.9C995.5 84.4 996 84.9 996.4 85.4C996.9 85.9 997.6 86.4 998.2 86.9C998.7 87.4 999.4 87.9 1000 88.4C1000.5 88.9 1001.1 89.4 1001.5 89.9C1002 90.4 1002.3 90.9 1002.6 91.4C1002.8 91.9 1003 92.4 1003.2 92.9C1003.3 93.4 1003.4 93.9 1003.4 94.4C1003.5 94.9 1003.5 95.4 1003.5 95.9C1003.5 96.4 1003.4 96.9 1003.4 97.4C1003.4 97.9 1003.4 98.4 1003.3 98.9C1003.3 99.4 1003.3 99.9 1003.2 100.4C1003.2 100.9 1003.1 101.4 1003.1 101.9C1003 102.4 1003 102.9 1003 103.4C1002.9 103.9 1002.9 104.4 1002.8 104.9C1002.8 105.4 1002.7 105.9 1002.7 106.4C1002.7 106.9 1002.6 107.4 1002.6 107.9C1002.5 108.4 1002.5 108.9 1002.5 109.4C1002.4 109.9 1002.4 110.4 1002.3 110.9C1002.3 111.4 1002.3 111.9 1002.2 112.4C1002.2 112.9 1002.2 113.4 1002.1 113.9C1002.1 114.4 1002.1 114.9 1002.1 115.4C1002 115.9 1002 116.4 1002 116.9C1002 117.4 1002 117.9 1002 118.4C1001.9 118.9 1001.9 119.4 1001.9 119.9C1001.9 120.4 1001.9 120.9 1001.9 121.4C1001.9 121.9 1001.9 122.4 1001.9 122.9C1001.9 123.4 1001.9 123.9 1001.9 124.4C1001.9 124.9 1001.9 125.4 1002 125.9C1002 126.4 1002 126.9 1002 127.4C1002 127.9 1002.1 128.4 1002.1 128.9C1002.1 129.4 1002.1 129.9 1002.2 130.4C1002.2 130.9 1002.2 131.4 1002.3 131.9C1002.3 132.4 1002.3 132.9 1002.4 133.4C1002.4 133.9 1002.4 134.4 1002.5 134.9C1002.5 135.4 1002.5 135.9 1002.6 136.4C1002.6 136.9 1002.6 137.4 1002.7 137.9C1002.7 138.4 1002.7 138.9 1002.7 139.4C1002.8 139.9 1002.8 140.4 1002.8 140.9C1002.8 141.4 1002.8 141.9 1002.8 142.4C1002.7 142.9 1002.7 143.4 1002.7 143.9C1002.7 144.4 1002.6 144.9 1002.6 145.4C1002.6 145.9 1002.5 146.4 1002.5 146.9C1002.4 147.4 1002.4 147.9 1002.4 148.4C1002.3 148.9 1002.3 149.4 1002.3 149.9C1002.3 150.4 1002.3 150.9 1002.3 151.4C1002.3 151.9 1002.3 152.4 1002.4 152.9C1002.4 153.4 1002.5 153.9 1002.6 154.4C1002.6 154.9 1002.7 155.4 1002.8 155.9C1002.9 156.4 1003 156.9 1003.1 157.4C1003.2 157.9 1003.3 158.4 1003.4 158.9C1003.5 159.4 1003.6 159.9 1003.7 160.4C1003.7 160.9 1003.8 161.4 1003.9 161.9C1003.9 162.4 1004 162.9 1004 163.4C1004.1 163.9 1004.1 164.4 1004.2 164.9C1004.2 165.4 1004.2 165.9 1004.2 166.4C1004.3 166.9 1004.3 167.4 1004.3 167.9C1004.3 168.4 1004.3 168.9 1004.3 169.4C1004.3 169.9 1004.3 170.4 1004.3 170.9C1004.3 171.4 1004.3 147.7 1004.4 172.4C1004.4 197.2 1004.4 294.6 1004.4 319.4C1004.4 344.1 1004.4 320.4 1004.3 320.9C1004.3 321.4 1004.3 321.9 1004.3 322.4C1004.3 322.9 1004.3 323.4 1004.3 323.9C1004.2 324.4 1004.2 324.9 1004.2 325.4C1004.1 325.9 1004.1 326.4 1004 326.9C1004 327.4 1003.9 327.9 1003.9 328.4C1003.8 328.9 1003.8 329.4 1003.7 329.9C1003.6 330.4 1003.5 330.9 1003.4 331.4C1003.4 331.9 1003.3 332.4 1003.2 332.9C1003.1 333.4 1003 333.9 1002.9 334.4C1002.9 334.9 1002.8 335.4 1002.7 335.9C1002.6 336.4 1002.6 336.9 1002.5 337.4C1002.5 337.9 1002.4 338.4 1002.4 338.9C1002.4 339.4 1002.4 339.9 1002.4 340.4C1002.4 340.9 1002.4 341.4 1002.5 341.9C1002.5 342.4 1002.6 342.9 1002.6 343.4C1002.7 343.9 1002.8 344.4 1002.8 344.9C1002.9 345.4 1003 345.9 1003.1 346.4C1003.2 346.9 1003.2 347.4 1003.3 347.9C1003.4 348.4 1003.5 348.9 1003.6 349.4C1003.7 349.9 1003.7 350.4 1003.8 350.9C1003.9 351.4 1003.9 351.9 1004 352.4C1004 352.9 1004.1 353.4 1004.1 353.9C1004.2 354.4 1004.2 354.9 1004.2 355.4C1004.2 355.9 1004.3 356.4 1004.3 356.9C1004.3 357.4 1004.3 357.9 1004.3 358.4C1004.3 358.9 1004.4 334.1 1004.4 359.9C1004.4 385.6 1004.4 487.1 1004.4 512.9C1004.4 538.6 1004.3 513.9 1004.3 514.4C1004.3 514.9 1004.3 515.4 1004.3 515.9C1004.3 516.4 1004.3 516.9 1004.3 517.4C1004.3 517.9 1004.3 518.4 1004.3 518.9C1004.2 519.4 1004.2 519.9 1004.2 520.4C1004.2 520.9 1004.2 521.4 1004.2 521.9C1004.1 522.4 1004.1 522.9 1004.1 523.4C1004.1 523.9 1004 524.4 1004 524.9C1004 525.4 1004 525.9 1003.9 526.4C1003.9 526.9 1003.9 527.4 1003.8 527.9C1003.8 528.4 1003.8 528.9 1003.7 529.4C1003.7 529.9 1003.6 530.4 1003.6 530.9C1003.5 531.4 1003.5 531.9 1003.5 532.4C1003.4 532.9 1003.4 533.4 1003.3 533.9C1003.3 534.4 1003.2 534.9 1003.2 535.4C1003.1 535.9 1003.1 536.4 1003 536.9C1003 537.4 1002.9 537.9 1002.9 538.4C1002.9 538.9 1002.8 539.4 1002.8 539.9C1002.7 540.4 1002.7 540.9 1002.7 541.4C1002.6 541.9 1002.6 542.4 1002.6 542.9C1002.5 543.4 1002.5 543.9 1002.5 544.4C1002.5 544.9 1002.4 545.4 1002.4 545.9C1002.4 546.4 1002.4 546.9 1002.4 547.4C1002.4 547.9 1002.4 548.4 1002.4 548.9C1002.4 549.4 1002.4 549.9 1002.4 550.4C1002.4 550.9 1002.5 551.4 1002.5 551.9C1002.5 552.4 1002.5 552.9 1002.6 553.4C1002.6 553.9 1002.6 554.4 1002.7 554.9C1002.7 555.4 1002.7 555.9 1002.8 556.4C1002.8 556.9 1002.9 557.4 1002.9 557.9C1003 558.4 1003 558.9 1003.1 559.4C1003.1 559.9 1003.2 560.4 1003.2 560.9C1003.3 561.4 1003.3 561.9 1003.3 562.4C1003.4 562.9 1003.4 563.4 1003.5 563.9C1003.5 564.4 1003.6 564.9 1003.6 565.4C1003.7 565.9 1003.7 566.4 1003.7 566.9C1003.8 567.4 1003.8 567.9 1003.8 568.4C1003.9 568.9 1003.9 569.4 1003.9 569.9C1004 570.4 1004 570.9 1004 571.4C1004.1 571.9 1004.1 572.4 1004.1 572.9C1004.1 573.4 1004.1 573.9 1004.2 574.4C1004.2 574.9 1004.2 575.4 1004.2 575.9C1004.2 576.4 1004.2 576.9 1004.3 577.4C1004.3 577.9 1004.3 578.4 1004.3 578.9C1004.3 579.4 1004.3 579.9 1004.3 580.4C1004.3 580.9 1004.3 581.4 1004.3 581.9C1004.3 582.4 1004.3 580.4 1004.4 583.4C1004.4 586.4 1004.4 597.1 1004.4 599.9M1004.6 28.4C1004.6 28.6 1004.6 29.4 1004.7 29.9C1004.7 30.4 1004.8 30.9 1004.9 31.4C1005 31.9 1005 32.4 1005.2 32.9C1005.3 33.4 1005.4 33.9 1005.5 34.4C1005.7 34.9 1005.8 35.4 1006 35.9C1006.2 36.4 1006.4 36.9 1006.6 37.4C1006.8 37.9 1007 38.4 1007.3 38.9C1007.5 39.4 1007.7 39.9 1008 40.4C1008.2 40.9 1008.4 41.4 1008.6 41.9C1008.9 42.4 1009.1 42.9 1009.2 43.4C1009.4 43.9 1009.6 44.4 1009.7 44.9C1009.8 45.4 1009.8 45.9 1009.9 46.4C1009.9 46.9 1009.9 47.4 1009.9 47.9C1009.8 48.4 1009.7 48.9 1009.6 49.4C1009.5 49.9 1009.3 50.4 1009.1 50.9C1008.9 51.4 1008.7 51.9 1008.5 52.4C1008.3 52.9 1008 53.4 1007.8 53.9C1007.6 54.4 1007.3 54.9 1007.1 55.4C1006.9 55.9 1006.7 56.4 1006.5 56.9C1006.3 57.4 1006.1 57.9 1005.9 58.4C1005.7 58.9 1005.6 59.4 1005.4 59.9C1005.3 60.4 1005.2 60.9 1005.1 61.4C1005 61.9 1004.9 62.4 1004.8 62.9C1004.8 63.4 1004.7 63.9 1004.7 64.4C1004.6 64.9 1004.6 65.4 1004.6 65.9C1004.5 66.4 1004.5 66.9 1004.5 67.4C1004.5 67.9 1004.5 26.2 1004.4 68.9C1004.4 111.7 1004.4 281.1 1004.4 323.9C1004.4 366.6 1004.4 324.9 1004.5 325.4C1004.5 325.9 1004.5 326.4 1004.5 326.9C1004.5 327.4 1004.5 327.9 1004.6 328.4C1004.6 328.9 1004.6 329.4 1004.7 329.9C1004.7 330.4 1004.7 330.9 1004.8 331.4C1004.8 331.9 1004.9 332.4 1005 332.9C1005 333.4 1005.1 333.9 1005.2 334.4C1005.3 334.9 1005.4 335.4 1005.5 335.9C1005.6 336.4 1005.7 336.9 1005.8 337.4C1005.9 337.9 1006 338.4 1006.1 338.9C1006.2 339.4 1006.3 339.9 1006.4 340.4C1006.5 340.9 1006.6 341.4 1006.7 341.9C1006.7 342.4 1006.8 342.9 1006.8 343.4C1006.9 343.9 1006.9 344.4 1006.9 344.9C1006.9 345.4 1006.9 345.9 1006.9 346.4C1006.8 346.9 1006.8 347.4 1006.7 347.9C1006.6 348.4 1006.5 348.9 1006.5 349.4C1006.4 349.9 1006.3 350.4 1006.2 350.9C1006.1 351.4 1006 351.9 1005.8 352.4C1005.7 352.9 1005.6 353.4 1005.5 353.9C1005.4 354.4 1005.3 354.9 1005.2 355.4C1005.2 355.9 1005.1 356.4 1005 356.9C1004.9 357.4 1004.9 357.9 1004.8 358.4C1004.8 358.9 1004.7 359.4 1004.7 359.9C1004.6 360.4 1004.6 360.9 1004.6 361.4C1004.5 361.9 1004.5 362.4 1004.5 362.9C1004.5 363.4 1004.5 363.9 1004.5 364.4C1004.4 364.9 1004.4 341.1 1004.4 365.9C1004.4 390.6 1004.4 488.1 1004.4 512.9C1004.4 537.6 1004.5 513.9 1004.5 514.4C1004.5 514.9 1004.5 515.4 1004.5 515.9C1004.5 516.4 1004.5 516.9 1004.5 517.4C1004.5 517.9 1004.5 518.4 1004.5 518.9C1004.6 519.4 1004.6 519.9 1004.6 520.4C1004.6 520.9 1004.6 521.4 1004.6 521.9C1004.7 522.4 1004.7 522.9 1004.7 523.4C1004.7 523.9 1004.8 524.4 1004.8 524.9C1004.8 525.4 1004.8 525.9 1004.9 526.4C1004.9 526.9 1004.9 527.4 1005 527.9C1005 528.4 1005 528.9 1005.1 529.4C1005.1 529.9 1005.2 530.4 1005.2 530.9C1005.3 531.4 1005.3 531.9 1005.3 532.4C1005.4 532.9 1005.4 533.4 1005.5 533.9C1005.5 534.4 1005.6 534.9 1005.6 535.4C1005.7 535.9 1005.7 536.4 1005.8 536.9C1005.8 537.4 1005.9 537.9 1005.9 538.4C1005.9 538.9 1006 539.4 1006 539.9C1006.1 540.4 1006.1 540.9 1006.1 541.4C1006.2 541.9 1006.2 542.4 1006.2 542.9C1006.3 543.4 1006.3 543.9 1006.3 544.4C1006.3 544.9 1006.4 545.4 1006.4 545.9C1006.4 546.4 1006.4 546.9 1006.4 547.4C1006.4 547.9 1006.4 548.4 1006.4 548.9C1006.4 549.4 1006.4 549.9 1006.4 550.4C1006.4 550.9 1006.3 551.4 1006.3 551.9C1006.3 552.4 1006.3 552.9 1006.2 553.4C1006.2 553.9 1006.2 554.4 1006.1 554.9C1006.1 555.4 1006.1 555.9 1006 556.4C1006 556.9 1005.9 557.4 1005.9 557.9C1005.8 558.4 1005.8 558.9 1005.7 559.4C1005.7 559.9 1005.6 560.4 1005.6 560.9C1005.5 561.4 1005.5 561.9 1005.5 562.4C1005.4 562.9 1005.4 563.4 1005.3 563.9C1005.3 564.4 1005.2 564.9 1005.2 565.4C1005.1 565.9 1005.1 566.4 1005.1 566.9C1005 567.4 1005 567.9 1005 568.4C1004.9 568.9 1004.9 569.4 1004.9 569.9C1004.8 570.4 1004.8 570.9 1004.8 571.4C1004.7 571.9 1004.7 572.4 1004.7 572.9C1004.7 573.4 1004.7 573.9 1004.6 574.4C1004.6 574.9 1004.6 575.4 1004.6 575.9C1004.6 576.4 1004.6 576.9 1004.5 577.4C1004.5 577.9 1004.5 578.4 1004.5 578.9C1004.5 579.4 1004.5 579.9 1004.5 580.4C1004.5 580.9 1004.5 581.4 1004.5 581.9C1004.5 582.4 1004.5 580.4 1004.4 583.4C1004.4 586.4 1004.4 597.1 1004.4 599.9" stroke="#158015" stroke-width="1.8"/><path d="M1004.4 28.4C1004.4 34.1 1004.4 56.9 1004.4 62.9C1004.4 68.9 1004.4 63.9 1004.3 64.4C1004.3 64.9 1004.3 65.4 1004.3 65.9C1004.2 66.4 1004.2 66.9 1004.1 67.4C1004 67.9 1003.9 68.4 1003.8 68.9C1003.7 69.4 1003.5 69.9 1003.4 70.4C1003.2 70.9 1003 71.4 1002.8 71.9C1002.7 72.4 1002.5 72.9 1002.3 73.4C1002.2 73.9 1002.1 74.4 1002 74.9C1001.9 75.4 1001.9 75.9 1001.9 76.4C1001.9 76.9 1002 77.4 1002.1 77.9C1002.3 78.4 1002.4 78.9 1002.6 79.4C1002.7 79.9 1002.9 80.4 1003.1 80.9C1003.3 81.4 1003.5 81.9 1003.6 82.4C1003.7 82.9 1003.9 83.4 1004 83.9C1004.1 84.4 1004.1 84.9 1004.2 85.4C1004.2 85.9 1004.3 86.4 1004.3 86.9C1004.3 87.4 1004.4 55.2 1004.4 88.4C1004.4 121.7 1004.4 253.1 1004.4 286.4C1004.4 319.6 1004.4 287.4 1004.3 287.9C1004.3 288.4 1004.3 288.9 1004.3 289.4C1004.2 289.9 1004.2 290.4 1004.1 290.9C1004 291.4 1003.9 291.9 1003.8 292.4C1003.7 292.9 1003.5 293.4 1003.3 293.9C1003.2 294.4 1002.9 294.9 1002.7 295.4C1002.5 295.9 1002.3 296.4 1002.1 296.9C1001.9 297.4 1001.7 297.9 1001.6 298.4C1001.5 298.9 1001.4 299.4 1001.4 299.9C1001.4 300.4 1001.4 300.9 1001.5 301.4C1001.6 301.9 1001.7 302.4 1001.8 302.9C1002 303.4 1002.2 303.9 1002.3 304.4C1002.4 304.9 1002.5 305.4 1002.5 305.9C1002.6 306.4 1002.5 306.9 1002.5 307.4C1002.4 307.9 1002.3 308.4 1002.2 308.9C1002.1 309.4 1001.9 309.9 1001.8 310.4C1001.6 310.9 1001.5 311.4 1001.4 311.9C1001.4 312.4 1001.4 312.9 1001.4 313.4C1001.4 313.9 1001.5 314.4 1001.7 314.9C1001.8 315.4 1002 315.9 1002.2 316.4C1002.4 316.9 1002.7 317.4 1002.9 317.9C1003.1 318.4 1003.3 318.9 1003.4 319.4C1003.6 319.9 1003.8 320.4 1003.9 320.9C1004 321.4 1004.1 321.9 1004.1 322.4C1004.2 322.9 1004.3 323.4 1004.3 323.9C1004.3 324.4 1004.3 295.4 1004.4 325.4C1004.4 355.4 1004.4 473.9 1004.4 503.9C1004.3 533.9 1004.3 504.9 1004.3 505.4C1004.3 505.9 1004.2 506.4 1004.1 506.9C1004.1 507.4 1004 507.9 1003.9 508.4C1003.7 508.9 1003.6 509.4 1003.3 509.9C1003.1 510.4 1002.9 510.9 1002.5 511.4C1002.2 511.9 1001.8 512.4 1001.4 512.9C1000.9 513.4 1000.4 513.9 999.9 514.4C999.4 514.9 998.9 515.4 998.4 515.9C997.9 516.4 997.4 516.9 997 517.4C996.6 517.9 996.3 518.4 996.1 518.9C995.9 519.4 995.9 519.9 995.9 520.4C996 520.9 996.2 521.4 996.5 521.9C996.8 522.4 997.2 522.9 997.7 523.4C998.1 523.9 998.7 524.4 999.1 524.9C999.6 525.4 1000.1 525.9 1000.6 526.4C1001 526.9 1001.4 527.4 1001.7 527.9C1002 528.4 1002.2 528.9 1002.3 529.4C1002.4 529.9 1002.4 530.4 1002.3 530.9C1002.2 531.4 1001.9 531.9 1001.6 532.4C1001.3 532.9 1000.8 533.4 1000.3 533.9C999.8 534.4 999.2 534.9 998.5 535.4C997.9 535.9 997.2 536.4 996.6 536.9C995.9 537.4 995.3 537.9 994.8 538.4C994.3 538.9 993.9 539.4 993.7 539.9C993.4 540.4 993.3 540.9 993.4 541.4C993.5 541.9 993.8 542.4 994.2 542.9C994.6 543.4 995.1 543.9 995.7 544.4C996.3 544.9 997 545.4 997.7 545.9C998.3 546.4 999 546.9 999.6 547.4C1000.2 547.9 1000.8 548.4 1001.3 548.9C1001.8 549.4 1002.2 549.9 1002.6 550.4C1002.9 550.9 1003.2 551.4 1003.4 551.9C1003.6 552.4 1003.8 552.9 1003.9 553.4C1004 553.9 1004.1 554.4 1004.2 554.9C1004.2 555.4 1004.2 555.9 1004.2 556.4C1004.2 556.9 1004.2 557.4 1004.1 557.9C1004 558.4 1003.9 558.9 1003.8 559.4C1003.6 559.9 1003.4 560.4 1003.1 560.9C1002.8 561.4 1002.4 561.9 1002 562.4C1001.6 562.9 1001 563.4 1000.5 563.9C1000 564.4 999.4 564.9 998.8 565.4C998.3 565.9 997.7 566.4 997.3 566.9C996.9 567.4 996.6 567.9 996.5 568.4C996.4 568.9 996.4 569.4 996.6 569.9C996.8 570.4 997.2 570.9 997.6 571.4C998 571.9 998.6 572.4 999.2 572.9C999.7 573.4 1000.3 573.9 1000.8 574.4C1001.4 574.9 1001.9 575.4 1002.3 575.9C1002.7 576.4 1003 576.9 1003.3 577.4C1003.5 577.9 1003.7 578.4 1003.9 578.9C1004 579.4 1004.1 579.9 1004.2 580.4C1004.3 580.9 1004.3 581.4 1004.3 581.9C1004.4 582.4 1004.4 580.4 1004.4 583.4C1004.4 586.4 1004.4 597.1 1004.4 599.9M1004.4 28.4C1004.4 35.1 1004.4 61.9 1004.4 68.9C1004.4 75.9 1004.4 69.9 1004.5 70.4C1004.5 70.9 1004.5 71.4 1004.6 71.9C1004.6 72.4 1004.7 72.9 1004.8 73.4C1004.9 73.9 1005 74.4 1005.1 74.9C1005.3 75.4 1005.5 75.9 1005.7 76.4C1005.8 76.9 1006.1 77.4 1006.3 77.9C1006.5 78.4 1006.7 78.9 1006.9 79.4C1007.1 79.9 1007.2 80.4 1007.3 80.9C1007.4 81.4 1007.4 81.9 1007.4 82.4C1007.4 82.9 1007.2 83.4 1007.1 83.9C1007 84.4 1006.8 84.9 1006.6 85.4C1006.4 85.9 1006.1 86.4 1005.9 86.9C1005.7 87.4 1005.5 87.9 1005.4 88.4C1005.2 88.9 1005 89.4 1004.9 89.9C1004.8 90.4 1004.7 90.9 1004.7 91.4C1004.6 91.9 1004.5 92.4 1004.5 92.9C1004.5 93.4 1004.5 55.4 1004.4 94.4C1004.4 133.4 1004.4 287.9 1004.4 326.9C1004.4 365.9 1004.5 327.9 1004.5 328.4C1004.5 328.9 1004.5 329.4 1004.6 329.9C1004.6 330.4 1004.6 330.9 1004.7 331.4C1004.8 331.9 1004.9 332.4 1005 332.9C1005.1 333.4 1005.2 333.9 1005.4 334.4C1005.5 334.9 1005.7 335.4 1006 335.9C1006.2 336.4 1006.4 336.9 1006.7 337.4C1007 337.9 1007.3 338.4 1007.6 338.9C1007.9 339.4 1008.2 339.9 1008.5 340.4C1008.8 340.9 1009.1 341.4 1009.3 341.9C1009.6 342.4 1009.8 342.9 1009.9 343.4C1010.1 343.9 1010.2 344.4 1010.2 344.9C1010.3 345.4 1010.2 345.9 1010.2 346.4C1010.1 346.9 1009.9 347.4 1009.8 347.9C1009.6 348.4 1009.4 348.9 1009.1 349.4C1008.9 349.9 1008.7 350.4 1008.4 350.9C1008.2 351.4 1007.9 351.9 1007.7 352.4C1007.5 352.9 1007.3 353.4 1007.2 353.9C1007 354.4 1006.9 354.9 1006.7 355.4C1006.6 355.9 1006.6 356.4 1006.5 356.9C1006.4 357.4 1006.4 357.9 1006.4 358.4C1006.4 358.9 1006.4 359.4 1006.4 359.9C1006.4 360.4 1006.4 360.9 1006.4 361.4C1006.4 361.9 1006.4 362.4 1006.4 362.9C1006.4 363.4 1006.4 363.9 1006.4 364.4C1006.4 364.9 1006.4 365.4 1006.4 365.9C1006.4 366.4 1006.4 366.9 1006.4 367.4C1006.3 367.9 1006.3 368.4 1006.3 368.9C1006.2 369.4 1006.2 369.9 1006.2 370.4C1006.1 370.9 1006.1 371.4 1006 371.9C1006 372.4 1005.9 372.9 1005.9 373.4C1005.8 373.9 1005.8 374.4 1005.7 374.9C1005.6 375.4 1005.6 375.9 1005.5 376.4C1005.5 376.9 1005.4 377.4 1005.4 377.9C1005.3 378.4 1005.2 378.9 1005.2 379.4C1005.1 379.9 1005.1 380.4 1005.1 380.9C1005 381.4 1005 381.9 1004.9 382.4C1004.9 382.9 1004.8 383.4 1004.8 383.9C1004.8 384.4 1004.7 384.9 1004.7 385.4C1004.7 385.9 1004.7 386.4 1004.6 386.9C1004.6 387.4 1004.6 387.9 1004.6 388.4C1004.6 388.9 1004.5 389.4 1004.5 389.9C1004.5 390.4 1004.5 390.9 1004.5 391.4C1004.5 391.9 1004.5 392.4 1004.5 392.9C1004.5 393.4 1004.4 375.6 1004.4 394.4C1004.4 413.1 1004.4 486.6 1004.4 505.4C1004.5 524.1 1004.5 506.4 1004.5 506.9C1004.5 507.4 1004.5 507.9 1004.6 508.4C1004.6 508.9 1004.7 509.4 1004.7 509.9C1004.8 510.4 1004.9 510.9 1005 511.4C1005.1 511.9 1005.2 512.4 1005.4 512.9C1005.5 513.4 1005.7 513.9 1005.9 514.4C1006.1 514.9 1006.4 515.4 1006.7 515.9C1007 516.4 1007.3 516.9 1007.6 517.4C1007.9 517.9 1008.3 518.4 1008.7 518.9C1009.1 519.4 1009.5 519.9 1009.8 520.4C1010.2 520.9 1010.6 521.4 1010.9 521.9C1011.2 522.4 1011.5 522.9 1011.8 523.4C1012 523.9 1012.2 524.4 1012.3 524.9C1012.4 525.4 1012.4 525.9 1012.4 526.4C1012.3 526.9 1012.2 527.4 1012.1 527.9C1011.9 528.4 1011.6 528.9 1011.3 529.4C1011.1 529.9 1010.7 530.4 1010.4 530.9C1010 531.4 1009.6 531.9 1009.2 532.4C1008.9 532.9 1008.5 533.4 1008.1 533.9C1007.8 534.4 1007.5 534.9 1007.2 535.4C1006.9 535.9 1006.6 536.4 1006.4 536.9C1006.2 537.4 1006 537.9 1005.9 538.4C1005.8 538.9 1005.8 539.4 1005.7 539.9C1005.7 540.4 1005.8 540.9 1005.9 541.4C1006 541.9 1006.1 542.4 1006.3 542.9C1006.5 543.4 1006.7 543.9 1007 544.4C1007.2 544.9 1007.5 545.4 1007.8 545.9C1008.1 546.4 1008.4 546.9 1008.7 547.4C1009 547.9 1009.3 548.4 1009.6 548.9C1009.8 549.4 1010 549.9 1010.2 550.4C1010.3 550.9 1010.4 551.4 1010.4 551.9C1010.4 552.4 1010.3 552.9 1010.2 553.4C1010.1 553.9 1009.9 554.4 1009.7 554.9C1009.4 555.4 1009.1 555.9 1008.8 556.4C1008.5 556.9 1008.2 557.4 1007.9 557.9C1007.6 558.4 1007.2 558.9 1007 559.4C1006.7 559.9 1006.4 560.4 1006.2 560.9C1006 561.4 1005.8 561.9 1005.6 562.4C1005.5 562.9 1005.4 563.4 1005.4 563.9C1005.4 564.4 1005.4 564.9 1005.5 565.4C1005.7 565.9 1005.9 566.4 1006.2 566.9C1006.5 567.4 1007 567.9 1007.5 568.4C1008 568.9 1008.6 569.4 1009.3 569.9C1009.9 570.4 1010.7 570.9 1011.4 571.4C1012.1 571.9 1012.8 572.4 1013.3 572.9C1013.7 573.4 1014.1 573.9 1014.3 574.4C1014.5 574.9 1014.4 575.4 1014.2 575.9C1013.9 576.4 1013.5 576.9 1012.9 577.4C1012.4 577.9 1011.6 578.4 1011 578.9C1010.3 579.4 1009.5 579.9 1008.8 580.4C1008.2 580.9 1007.6 581.4 1007.1 581.9C1006.6 582.4 1006.1 582.9 1005.8 583.4C1005.5 583.9 1005.2 584.4 1005.1 584.9C1004.9 585.4 1004.8 585.9 1004.7 586.4C1004.6 586.9 1004.5 587.4 1004.5 587.9C1004.5 588.4 1004.4 587.4 1004.4 589.4C1004.4 591.4 1004.4 598.1 1004.4 599.9" stroke="#00007e" stroke-width="1.9"/><path d="M1004.4 28.4C1004.4 33.4 1004.4 53.1 1004.4 58.4C1004.3 63.6 1004.3 59.4 1004.3 59.9C1004.2 60.4 1004.2 60.9 1004.1 61.4C1004 61.9 1003.9 62.4 1003.7 62.9C1003.6 63.4 1003.3 63.9 1003.1 64.4C1002.9 64.9 1002.6 65.4 1002.4 65.9C1002.1 66.4 1001.9 66.9 1001.7 67.4C1001.5 67.9 1001.4 68.4 1001.4 68.9C1001.4 69.4 1001.5 69.9 1001.6 70.4C1001.8 70.9 1002 71.4 1002.3 71.9C1002.5 72.4 1002.8 72.9 1003 73.4C1003.2 73.9 1003.5 74.4 1003.7 74.9C1003.8 75.4 1004 75.9 1004.1 76.4C1004.2 76.9 1004.2 77.4 1004.3 77.9C1004.3 78.4 1004.3 44.7 1004.4 79.4C1004.4 114.2 1004.4 251.6 1004.4 286.4C1004.3 321.1 1004.3 287.4 1004.3 287.9C1004.3 288.4 1004.2 288.9 1004.2 289.4C1004.1 289.9 1004 290.4 1003.9 290.9C1003.8 291.4 1003.7 291.9 1003.5 292.4C1003.3 292.9 1003.1 293.4 1002.9 293.9C1002.6 294.4 1002.3 294.9 1001.9 295.4C1001.5 295.9 1001.1 296.4 1000.6 296.9C1000.2 297.4 999.6 297.9 999.1 298.4C998.5 298.9 997.9 299.4 997.4 299.9C996.8 300.4 996.2 300.9 995.8 301.4C995.3 301.9 994.8 302.4 994.5 302.9C994.1 303.4 993.8 303.9 993.7 304.4C993.5 304.9 993.5 305.4 993.5 305.9C993.6 306.4 993.7 306.9 993.9 307.4C994.1 307.9 994.4 308.4 994.7 308.9C995 309.4 995.4 309.9 995.7 310.4C996 310.9 996.3 311.4 996.6 311.9C996.8 312.4 997.1 312.9 997.2 313.4C997.4 313.9 997.6 314.4 997.7 314.9C997.9 315.4 998 315.9 998.1 316.4C998.2 316.9 998.3 317.4 998.4 317.9C998.6 318.4 998.7 318.9 998.9 319.4C999.1 319.9 999.3 320.4 999.5 320.9C999.7 321.4 1000 321.9 1000.2 322.4C1000.5 322.9 1000.7 323.4 1001 323.9C1001.2 324.4 1001.4 324.9 1001.6 325.4C1001.8 325.9 1002 326.4 1002.2 326.9C1002.3 327.4 1002.5 327.9 1002.6 328.4C1002.7 328.9 1002.7 329.4 1002.8 329.9C1002.8 330.4 1002.8 330.9 1002.8 331.4C1002.8 331.9 1002.8 332.4 1002.8 332.9C1002.7 333.4 1002.7 333.9 1002.6 334.4C1002.6 334.9 1002.5 335.4 1002.5 335.9C1002.4 336.4 1002.3 336.9 1002.3 337.4C1002.2 337.9 1002.1 338.4 1002.1 338.9C1002 339.4 1001.9 339.9 1001.9 340.4C1001.8 340.9 1001.8 341.4 1001.7 341.9C1001.7 342.4 1001.6 342.9 1001.6 343.4C1001.5 343.9 1001.5 344.4 1001.5 344.9C1001.5 345.4 1001.4 345.9 1001.4 346.4C1001.4 346.9 1001.4 347.4 1001.4 347.9C1001.4 348.4 1001.4 348.9 1001.4 349.4C1001.4 349.9 1001.5 350.4 1001.5 350.9C1001.5 351.4 1001.5 351.9 1001.6 352.4C1001.6 352.9 1001.7 353.4 1001.7 353.9C1001.8 354.4 1001.8 354.9 1001.9 355.4C1001.9 355.9 1002 356.4 1002.1 356.9C1002.1 357.4 1002.2 357.9 1002.3 358.4C1002.3 358.9 1002.4 359.4 1002.5 359.9C1002.5 360.4 1002.6 360.9 1002.7 361.4C1002.7 361.9 1002.8 362.4 1002.9 362.9C1003 363.4 1003 363.9 1003.1 364.4C1003.2 364.9 1003.2 365.4 1003.3 365.9C1003.3 366.4 1003.4 366.9 1003.5 367.4C1003.5 367.9 1003.6 368.4 1003.6 368.9C1003.7 369.4 1003.7 369.9 1003.8 370.4C1003.8 370.9 1003.8 371.4 1003.9 371.9C1003.9 372.4 1004 372.9 1004 373.4C1004 373.9 1004.1 374.4 1004.1 374.9C1004.1 375.4 1004.1 375.9 1004.2 376.4C1004.2 376.9 1004.2 377.4 1004.2 377.9C1004.2 378.4 1004.2 378.9 1004.3 379.4C1004.3 379.9 1004.3 380.4 1004.3 380.9C1004.3 381.4 1004.3 381.9 1004.3 382.4C1004.3 382.9 1004.3 383.4 1004.3 383.9C1004.4 384.4 1004.4 362.1 1004.4 385.4C1004.4 408.6 1004.4 500.1 1004.4 523.4C1004.4 546.6 1004.4 524.4 1004.3 524.9C1004.3 525.4 1004.3 525.9 1004.2 526.4C1004.2 526.9 1004.1 527.4 1004 527.9C1003.9 528.4 1003.8 528.9 1003.6 529.4C1003.4 529.9 1003.2 530.4 1002.9 530.9C1002.6 531.4 1002.2 531.9 1001.7 532.4C1001.3 532.9 1000.7 533.4 1000.1 533.9C999.5 534.4 998.8 534.9 998.1 535.4C997.4 535.9 996.6 536.4 995.9 536.9C995.2 537.4 994.5 537.9 993.9 538.4C993.4 538.9 992.9 539.4 992.7 539.9C992.4 540.4 992.3 540.9 992.4 541.4C992.5 541.9 992.8 542.4 993.3 542.9C993.7 543.4 994.3 543.9 994.9 544.4C995.6 544.9 996.3 545.4 997 545.9C997.8 546.4 998.5 546.9 999.2 547.4C999.9 547.9 1000.5 548.4 1001 548.9C1001.6 549.4 1002 549.9 1002.4 550.4C1002.8 550.9 1003.1 551.4 1003.3 551.9C1003.6 552.4 1003.7 552.9 1003.9 553.4C1004 553.9 1004.1 554.4 1004.2 554.9C1004.2 555.4 1004.3 555.9 1004.3 556.4C1004.3 556.9 1004.3 557.4 1004.3 557.9C1004.3 558.4 1004.3 558.9 1004.3 559.4C1004.3 559.9 1004.3 560.4 1004.2 560.9C1004.1 561.4 1004 561.9 1003.9 562.4C1003.7 562.9 1003.5 563.4 1003.3 563.9C1003.1 564.4 1002.9 564.9 1002.6 565.4C1002.4 565.9 1002.1 566.4 1001.9 566.9C1001.7 567.4 1001.5 567.9 1001.4 568.4C1001.4 568.9 1001.4 569.4 1001.5 569.9C1001.6 570.4 1001.8 570.9 1002 571.4C1002.2 571.9 1002.5 572.4 1002.8 572.9C1003 573.4 1003.3 573.9 1003.5 574.4C1003.7 574.9 1003.8 575.4 1004 575.9C1004.1 576.4 1004.2 576.9 1004.2 577.4C1004.3 577.9 1004.3 578.4 1004.3 578.9C1004.4 579.4 1004.4 576.9 1004.4 580.4C1004.4 583.9 1004.4 596.6 1004.4 599.9M1004.4 28.4C1004.4 35.1 1004.4 61.9 1004.4 68.9C1004.4 75.9 1004.4 69.9 1004.5 70.4C1004.5 70.9 1004.5 71.4 1004.6 71.9C1004.7 72.4 1004.8 72.9 1004.9 73.4C1005.1 73.9 1005.3 74.4 1005.6 74.9C1005.9 75.4 1006.3 75.9 1006.8 76.4C1007.2 76.9 1007.7 77.4 1008.1 77.9C1008.6 78.4 1009.1 78.9 1009.4 79.4C1009.7 79.9 1009.9 80.4 1009.9 80.9C1009.9 81.4 1009.7 81.9 1009.5 82.4C1009.2 82.9 1008.8 83.4 1008.3 83.9C1007.9 84.4 1007.4 84.9 1006.9 85.4C1006.5 85.9 1006.1 86.4 1005.8 86.9C1005.4 87.4 1005.2 87.9 1005 88.4C1004.8 88.9 1004.7 89.4 1004.6 89.9C1004.5 90.4 1004.5 90.9 1004.5 91.4C1004.4 91.9 1004.4 54.2 1004.4 92.9C1004.4 131.7 1004.4 285.1 1004.4 323.9C1004.5 362.6 1004.5 324.9 1004.5 325.4C1004.5 325.9 1004.6 326.4 1004.6 326.9C1004.7 327.4 1004.8 327.9 1004.9 328.4C1005 328.9 1005.2 329.4 1005.4 329.9C1005.6 330.4 1005.8 330.9 1006.1 331.4C1006.4 331.9 1006.8 332.4 1007.2 332.9C1007.7 333.4 1008.2 333.9 1008.8 334.4C1009.4 334.9 1010.1 335.4 1010.8 335.9C1011.5 336.4 1012.3 336.9 1013 337.4C1013.7 337.9 1014.5 338.4 1015.2 338.9C1015.9 339.4 1016.5 339.9 1017 340.4C1017.6 340.9 1018 341.4 1018.2 341.9C1018.5 342.4 1018.6 342.9 1018.5 343.4C1018.4 343.9 1018.2 344.4 1017.9 344.9C1017.5 345.4 1017 345.9 1016.4 346.4C1015.9 346.9 1015.2 347.4 1014.5 347.9C1013.9 348.4 1013.2 348.9 1012.5 349.4C1011.9 349.9 1011.2 350.4 1010.7 350.9C1010.2 351.4 1009.7 351.9 1009.3 352.4C1008.9 352.9 1008.6 353.4 1008.4 353.9C1008.2 354.4 1008 354.9 1008 355.4C1007.9 355.9 1007.9 356.4 1007.9 356.9C1007.9 357.4 1008 357.9 1008.1 358.4C1008.2 358.9 1008.3 359.4 1008.4 359.9C1008.5 360.4 1008.7 360.9 1008.8 361.4C1008.9 361.9 1009 362.4 1009.1 362.9C1009.2 363.4 1009.3 363.9 1009.3 364.4C1009.4 364.9 1009.4 365.4 1009.4 365.9C1009.4 366.4 1009.4 366.9 1009.3 367.4C1009.3 367.9 1009.2 368.4 1009.1 368.9C1009 369.4 1008.9 369.9 1008.8 370.4C1008.6 370.9 1008.5 371.4 1008.3 371.9C1008.2 372.4 1008 372.9 1007.8 373.4C1007.6 373.9 1007.5 374.4 1007.3 374.9C1007.1 375.4 1006.9 375.9 1006.8 376.4C1006.6 376.9 1006.4 377.4 1006.3 377.9C1006.1 378.4 1006 378.9 1005.8 379.4C1005.7 379.9 1005.6 380.4 1005.5 380.9C1005.4 381.4 1005.3 381.9 1005.2 382.4C1005.1 382.9 1005 383.4 1004.9 383.9C1004.9 384.4 1004.8 384.9 1004.8 385.4C1004.7 385.9 1004.7 386.4 1004.6 386.9C1004.6 387.4 1004.6 387.9 1004.6 388.4C1004.5 388.9 1004.5 389.4 1004.5 389.9C1004.5 390.4 1004.5 390.9 1004.5 391.4C1004.4 391.9 1004.4 369.1 1004.4 392.9C1004.4 416.6 1004.4 510.1 1004.4 533.9C1004.4 557.6 1004.4 534.9 1004.5 535.4C1004.5 535.9 1004.5 536.4 1004.5 536.9C1004.6 537.4 1004.6 537.9 1004.7 538.4C1004.8 538.9 1005 539.4 1005.2 539.9C1005.4 540.4 1005.6 540.9 1005.9 541.4C1006.2 541.9 1006.7 542.4 1007.2 542.9C1007.7 543.4 1008.3 543.9 1009 544.4C1009.7 544.9 1010.6 545.4 1011.4 545.9C1012.3 546.4 1013.3 546.9 1014.1 547.4C1015 547.9 1016 548.4 1016.7 548.9C1017.5 549.4 1018.2 549.9 1018.6 550.4C1019.1 550.9 1019.4 551.4 1019.4 551.9C1019.4 552.4 1019.2 552.9 1018.8 553.4C1018.4 553.9 1017.8 554.4 1017 554.9C1016.3 555.4 1015.4 555.9 1014.5 556.4C1013.6 556.9 1012.6 557.4 1011.8 557.9C1010.9 558.4 1010 558.9 1009.3 559.4C1008.6 559.9 1007.9 560.4 1007.4 560.9C1006.8 561.4 1006.4 561.9 1006.1 562.4C1005.7 562.9 1005.5 563.4 1005.3 563.9C1005.1 564.4 1004.9 564.9 1004.9 565.4C1004.8 565.9 1004.7 566.4 1004.8 566.9C1004.8 567.4 1004.9 567.9 1005.1 568.4C1005.2 568.9 1005.5 569.4 1005.8 569.9C1006.1 570.4 1006.5 570.9 1007 571.4C1007.4 571.9 1008 572.4 1008.5 572.9C1009 573.4 1009.5 573.9 1009.8 574.4C1010.1 574.9 1010.4 575.4 1010.4 575.9C1010.4 576.4 1010.2 576.9 1009.9 577.4C1009.7 577.9 1009.1 578.4 1008.7 578.9C1008.2 579.4 1007.6 579.9 1007.2 580.4C1006.7 580.9 1006.2 581.4 1005.9 581.9C1005.5 582.4 1005.3 582.9 1005.1 583.4C1004.9 583.9 1004.8 584.4 1004.7 584.9C1004.6 585.4 1004.5 585.9 1004.5 586.4C1004.4 586.9 1004.4 585.6 1004.4 587.9C1004.4 590.1 1004.4 597.9 1004.4 599.9" stroke="#ff22ff" stroke-width="2.7"/></g>
<rect x="865.9" y="29.1" width="185.2" height="571.4" fill="none" stroke="#000" stroke-width="1.7"/>
<path d="M860.9 29.1L865.9 29.1M860.9 100.5L865.9 100.5M860.9 171.9L865.9 171.9M860.9 243.4L865.9 243.4M860.9 314.8L865.9 314.8M860.9 386.2L865.9 386.2M860.9 457.7L865.9 457.7M860.9 529.1L865.9 529.1M860.9 600.5L865.9 600.5M911.9 600.5L911.9 605.5M1004.5 600.5L1004.5 605.5" stroke="#000" stroke-width="1.3"/>
<text x="911.9" y="623.5" font-size="19.5" text-anchor="middle" fill="#000">10</text>
<text x="1004.5" y="623.5" font-size="19.5" text-anchor="middle" fill="#000">0</text>
<text x="958.5" y="649.5" font-size="22" text-anchor="middle" fill="#000">DOS [1/eV]</text>
<text x="1192.7" y="21.5" font-size="27" text-anchor="middle" fill="#000">EuSSe</text>
<path d="M1158.1 600.5L1158.1 29.1M1212.8 600.5L1212.8 29.1M1063.3 314.8L1322 314.8" stroke="#000" stroke-width="1.4" stroke-dasharray="3.85 2.22" fill="none"/>
<g clip-path="url(#cb1)"><path d="M1126.3 28.7C1126.6 29 1125.9 28.7 1128.3 30.2C1130.8 31.6 1136.6 35.5 1140.8 37.4C1144.9 39.3 1150.2 40.9 1153.2 41.6C1156.1 42.2 1156.3 41.4 1158.4 41.6C1160.4 41.7 1161.6 41.2 1165.6 42.6C1169.6 44 1176.6 47.8 1182.1 49.8C1187.7 51.9 1193.6 53.8 1198.7 55C1203.8 56.2 1207.9 57 1212.8 57.1C1217.6 57.2 1222.4 57.2 1227.7 55.6C1232.9 54.1 1239 51.1 1244.2 47.8C1249.4 44.4 1255.3 38.3 1258.7 35.3C1262.2 32.4 1263.5 31.4 1264.9 30.2C1266.3 29 1266.6 28.4 1267 28.1M1128.3 45.7C1130.4 47.4 1136.6 53.1 1140.8 56C1144.9 59 1150.2 61.9 1153.2 63.3C1156.1 64.7 1156.3 63.8 1158.4 64.3C1160.4 64.8 1161.6 64.3 1165.6 66.4C1169.6 68.5 1176.6 73.5 1182.1 76.7C1187.7 80 1193.6 84 1198.7 86C1203.8 88 1207.9 88.7 1212.8 88.7C1217.6 88.7 1222.4 89.1 1227.7 86C1232.9 83 1239 76.6 1244.2 70.5C1249.4 64.5 1254.9 55.3 1258.7 49.8C1262.5 44.3 1264.9 40.1 1267 37.4C1269 34.7 1269.7 33.9 1271.1 33.7C1272.5 33.5 1272.8 32.7 1275.3 36.4C1277.7 40.1 1282.2 48.6 1285.6 56C1289.1 63.5 1292.5 73.3 1295.9 80.9C1299.4 88.5 1303.2 96.7 1306.3 101.6C1309.4 106.4 1312 107.9 1314.6 109.8C1317.2 111.7 1320.6 112.4 1321.8 112.9M1128.3 78.8C1130.4 80.3 1136.6 85.5 1140.8 88.1C1144.9 90.7 1150.2 93.1 1153.2 94.3C1156.1 95.5 1156.3 95 1158.4 95.3C1160.4 95.7 1161.6 94.7 1165.6 96.4C1169.6 98.1 1176.6 102.6 1182.1 105.7C1187.7 108.8 1193.6 113.1 1198.7 115C1203.8 116.9 1207.9 117.2 1212.8 117.1C1217.6 116.9 1222.4 116.9 1227.7 114C1232.9 111 1238.7 105.4 1244.2 99.5C1249.7 93.6 1256.3 84.5 1260.8 78.8C1265.3 73.1 1268.7 67.9 1271.1 65.3C1273.5 62.8 1273.5 62.8 1275.3 63.3C1277 63.8 1278.7 64.5 1281.5 68.5C1284.2 72.4 1288.4 80.5 1291.8 87.1C1295.3 93.6 1298.7 101.9 1302.2 107.8C1305.6 113.6 1309.2 118.6 1312.5 122.2C1315.8 125.9 1320.3 128.3 1321.8 129.5M1064.2 112.9C1065.1 112.7 1067.7 112.2 1069.4 111.5C1071.1 110.7 1073 109.7 1074.6 108.4C1076.1 107.1 1077.3 105.6 1078.7 103.6C1080.1 101.7 1081.4 99.3 1082.8 96.8C1084.3 94.3 1085.7 91.7 1087.4 88.7C1089 85.8 1091.9 80.8 1092.8 79.2M1064.2 129.5C1065.1 129.2 1067.7 128.7 1069.4 128C1071.1 127.4 1072.7 126.9 1074.6 125.4C1076.4 123.8 1078.7 121.3 1080.8 118.5C1082.8 115.8 1084.9 112.7 1087 108.8C1089 104.9 1091.1 99.9 1093.2 94.9C1095.2 90 1098.3 81.8 1099.4 79.2M1262.8 27.1C1263.5 27.6 1265.3 29.3 1267 30.2C1268.7 31 1271.1 31.9 1273.2 32.2C1275.3 32.6 1277.7 32.7 1279.4 32.2C1281.1 31.8 1282.5 30.4 1283.5 29.6C1284.6 28.7 1285.3 27.5 1285.6 27.1M1064.1 180.2C1066.4 179.9 1072.5 179.9 1078.3 178.5C1084 177.1 1091.8 173.8 1098.5 171.7C1105.3 169.7 1112 167.7 1118.8 166.3C1125.5 164.9 1132.5 163.9 1139 163.2C1145.5 162.5 1145.6 162.4 1157.9 162.3C1170.2 162.1 1198.9 162.1 1212.6 162.3C1226.3 162.4 1232.3 162.4 1240.3 163.2C1248.2 164 1253.8 165.4 1260.5 167C1267.3 168.6 1274 171.2 1280.8 173.1C1287.5 175 1294.3 177.2 1301 178.5C1307.8 179.7 1317.9 180.2 1321.3 180.5M1064.1 183.2C1066.4 183 1072.5 183.3 1078.3 181.9C1084 180.4 1091.8 176.7 1098.5 174.4C1105.3 172.2 1112 170 1118.8 168.4C1125.5 166.7 1132.5 165.2 1139 164.3C1145.5 163.4 1145.6 163.2 1157.9 163C1170.2 162.7 1198.9 162.7 1212.6 163C1226.3 163.2 1232.3 163.4 1240.3 164.3C1248.2 165.2 1253.8 166.6 1260.5 168.4C1267.3 170.2 1274 173 1280.8 175.1C1287.5 177.2 1294.3 179.8 1301 181.2C1307.8 182.6 1317.9 183.1 1321.3 183.5M1064.1 314.2C1066.4 314.4 1072.5 314.1 1078.3 315.5C1084 317 1091.8 320.1 1098.5 323C1105.3 325.8 1112 329.8 1118.8 332.4C1125.5 335 1132.5 337.2 1139 338.5C1145.5 339.7 1151.2 340.2 1157.9 339.8C1164.7 339.5 1173.7 337.4 1179.5 336.5C1185.4 335.5 1187.5 334.6 1193 334C1198.5 333.5 1205.8 333.1 1212.6 333.1C1219.3 333 1227.8 333.9 1233.5 333.8C1239.2 333.6 1242.5 333.2 1247 332.4C1251.5 331.6 1254.9 330.6 1260.5 329C1266.1 327.5 1274 325 1280.8 323C1287.5 320.9 1294.3 318.3 1301 316.9C1307.8 315.5 1317.9 315 1321.3 314.6M1064.1 322.3C1066.4 322.5 1072.5 322.1 1078.3 323.6C1084 325.2 1091.8 328.9 1098.5 331.7C1105.3 334.5 1112 338 1118.8 340.5C1125.5 343 1132.5 345.2 1139 346.6C1145.5 347.9 1151.2 348.2 1157.9 348.6C1164.7 349 1173.7 349 1179.5 349C1185.4 349 1187.5 348.8 1193 348.6C1198.5 348.4 1205.8 347.8 1212.6 347.9C1219.3 348 1226.6 348.9 1233.5 349.3C1240.4 349.7 1248.1 350.7 1253.8 350.4C1259.4 350 1262.8 349.6 1267.3 347.3C1271.8 344.9 1276.3 339.6 1280.8 336.5C1285.3 333.3 1289.8 330.5 1294.3 328.4C1298.8 326.2 1303.3 324.8 1307.8 323.6C1312.3 322.5 1319 321.9 1321.3 321.6M1064.1 340.2C1069.8 340.2 1086 339.8 1098.5 339.8C1111 339.8 1129.1 340.2 1139 340.2C1148.9 340.3 1148.9 340.4 1157.9 340.2C1166.9 340.1 1183.9 339.3 1193 339.2C1202.1 339 1204.7 339.5 1212.6 339.2C1220.5 338.8 1232.3 337.2 1240.3 337.1C1248.2 337 1253.8 338 1260.5 338.5C1267.3 339 1270.6 339.9 1280.8 340.2C1290.9 340.6 1314.5 340.5 1321.3 340.5M1064.3 347.9C1067.6 348.6 1078.3 350.8 1084 352.2C1089.7 353.6 1093.8 355 1098.6 356.6C1103.4 358.2 1108.2 360 1113 361.9C1117.8 363.8 1122.5 365.9 1127.3 367.7C1132.1 369.5 1136.9 371.2 1142 372.5C1147.1 373.8 1154 376 1158 375.4C1162 374.8 1162.4 371.8 1166.2 368.6C1170 365.4 1175.9 359.2 1180.7 356.1C1185.5 353.1 1189.6 351.5 1195 350.3C1200.4 349.1 1207.1 348.9 1212.9 348.8C1218.7 348.8 1223.8 349.5 1230 350C1236.2 350.5 1243.3 351.4 1250 352C1256.7 352.6 1264.7 353.4 1270 353.8C1275.3 354.2 1277.3 354.5 1281.7 354.1C1286.1 353.8 1291.4 352.7 1296.2 351.7C1301 350.7 1306.5 348.9 1310.7 348.3C1314.9 347.7 1319.5 348 1321.3 347.9M1064.3 355.6C1070 355.6 1083 355.9 1098.6 355.6C1114.2 355.4 1141.9 354.8 1158 354.1C1174.1 353.5 1185.8 352.2 1195 351.7C1204.2 351.1 1205.7 350.7 1212.9 350.8C1220.1 350.9 1230.8 351.5 1238.3 352.2C1245.8 352.9 1250.4 354.5 1257.6 355.1C1264.8 355.7 1271.1 355.5 1281.7 355.6C1292.3 355.7 1314.7 355.6 1321.3 355.6M1064.3 360.4C1068.4 360.5 1080 360.6 1089 360.9C1098 361.2 1106.5 361.3 1118 362.3C1129.5 363.3 1145.2 365.6 1158 366.7C1170.8 367.8 1185.8 368.2 1195 368.6C1204.2 369 1205.7 369.2 1212.9 369.1C1220.1 369 1229.2 369.5 1238.3 368.1C1247.4 366.7 1259.2 362.2 1267.3 360.9C1275.3 359.6 1277.6 360.6 1286.6 360.4C1295.6 360.2 1315.5 360 1321.3 359.9M1064.3 368.1C1070 368 1088 367.7 1098.6 367.7C1109.1 367.7 1117.7 368 1127.6 368.1C1137.5 368.2 1146.8 367.4 1158 368.1C1169.2 368.8 1185.8 371.5 1195 372.5C1204.2 373.5 1205.7 374.3 1212.9 373.9C1220.1 373.5 1230.8 371.1 1238.3 370.1C1245.8 369.1 1249.5 368 1257.6 367.7C1265.6 367.4 1276 368 1286.6 368.1C1297.2 368.2 1315.5 368.1 1321.3 368.1M1064.3 380.2C1070 380 1086.4 379.6 1098.6 379.2C1110.8 378.8 1127.4 378.1 1137.3 377.8C1147.2 377.5 1151.5 377.1 1158 377.3C1164.5 377.5 1169.8 378.4 1176 379.2C1182.2 380 1188.8 381.5 1195 382.1C1201.2 382.7 1204.1 382.8 1212.9 382.6C1221.7 382.5 1237.3 381.7 1248 381.2C1258.7 380.7 1264.7 379.9 1276.9 379.7C1289.1 379.4 1313.9 379.7 1321.3 379.7M1064.3 395.2C1067.8 395.1 1077 394.6 1085 394.9C1093 395.2 1099.8 396.7 1112 396.9C1124.2 397.1 1149 395.9 1158 396.2C1167 396.5 1162.3 399.3 1166 398.9C1169.7 398.5 1175.5 395.7 1180 394C1184.5 392.3 1187.6 389.9 1193 388.5C1198.4 387.1 1205.8 385.6 1212.6 385.4C1219.3 385.2 1227.3 386.6 1233.5 387.4C1239.7 388.2 1243.9 389 1250 390C1256.1 391 1262.5 392.8 1270 393.5C1277.5 394.2 1286.5 394.3 1295 394.5C1303.5 394.7 1316.9 394.8 1321.3 394.9M1064.3 361.9C1066.8 362 1073.6 361.7 1079.3 362.8C1085 363.9 1092.1 366.4 1098.6 368.6C1105 370.9 1111.5 373.8 1118 376.3C1124.5 378.8 1130.6 382.1 1137.3 383.6C1144 385.1 1153.2 384.3 1158 385.5C1162.8 386.7 1162.4 388.1 1166 390.8C1169.6 393.5 1175 398.5 1179.5 401.6C1184 404.8 1187.5 407.4 1193 409.7C1198.5 411.9 1205.8 415.1 1212.6 415.1C1219.3 415.1 1226.6 412.4 1233.5 409.7C1240.4 407 1248.2 402.5 1253.8 398.9C1259.4 395.3 1261.8 392.3 1267.3 388.1C1272.8 383.9 1280.2 377.9 1286.6 373.5C1293 369.1 1300.1 364 1305.9 361.9C1311.7 359.8 1318.7 361.1 1321.3 360.9M1064.1 401.6C1067.6 401.6 1077 401.4 1085 401.3C1093 401.2 1099.9 401.1 1112 401.1C1124.2 401 1148.9 400.7 1157.9 400.9C1166.9 401.1 1162.4 401.3 1166 402.3C1169.6 403.3 1175 405.3 1179.5 407C1184 408.7 1187.5 411 1193 412.4C1198.5 413.8 1205.8 415.5 1212.6 415.4C1219.3 415.3 1227.8 413.1 1233.5 411.7C1239.2 410.3 1242.5 408.2 1247 407C1251.5 405.8 1254.9 405.1 1260.5 404.3C1266.1 403.5 1270.6 402.7 1280.8 402.3C1290.9 401.8 1314.5 401.7 1321.3 401.6M1064.3 504.8C1066.2 504.9 1071 506 1075.9 505.3C1080.9 504.7 1087.9 502.8 1093.9 500.9C1099.8 498.9 1105.8 496.1 1111.8 493.7C1117.8 491.2 1124.3 488.2 1129.7 486.2C1135.1 484.1 1139.3 482.6 1144.1 481.5C1148.8 480.4 1153.3 479.9 1158.4 479.7C1163.5 479.5 1168.9 479.5 1174.5 480.2C1180.2 481 1186 483.2 1192.5 484.4C1198.9 485.6 1207.1 487.1 1213.1 487.4C1219 487.7 1222.8 486.4 1228.3 486.2C1233.8 485.9 1240.3 485.5 1246.2 486.2C1252.2 486.8 1258.2 488.1 1264.2 490.1C1270.1 492.1 1276.1 495.8 1282.1 498.2C1288.1 500.5 1293.4 503 1300 504.1C1306.6 505.2 1317.9 504.7 1321.5 504.8M1064.3 513.4C1066.2 513.3 1071 513.9 1075.9 513C1080.9 512.1 1087.9 510.1 1093.9 508C1099.8 506 1105.8 502.9 1111.8 500.9C1117.8 498.8 1124.3 496.8 1129.7 495.5C1135.1 494.1 1139.3 493.4 1144.1 492.8C1148.8 492.2 1153.3 491.6 1158.4 491.9C1163.5 492.2 1168.9 493.4 1174.5 494.6C1180.2 495.8 1186 497.8 1192.5 499.1C1198.9 500.3 1207.1 501.8 1213.1 502.3C1219 502.7 1222.8 502 1228.3 501.8C1233.8 501.5 1240.3 500.4 1246.2 500.9C1252.2 501.3 1258.2 502.9 1264.2 504.4C1270.1 506 1276.1 508.6 1282.1 510.2C1288.1 511.7 1293.4 513.1 1300 513.8C1306.6 514.5 1317.9 514.2 1321.5 514.3M1064.3 514.3C1066.2 514.5 1071 513.9 1075.9 515.2C1080.9 516.5 1087.9 519.7 1093.9 522.4C1099.8 525.1 1105.8 528.6 1111.8 531.3C1117.8 534 1124.3 536.9 1129.7 538.5C1135.1 540.1 1139.3 540.7 1144.1 541.2C1148.8 541.7 1153.3 542.2 1158.4 541.7C1163.5 541.3 1168.9 539.8 1174.5 538.5C1180.2 537.2 1186 535.4 1192.5 534C1198.9 532.7 1207.1 530.7 1213.1 530.4C1219 530.1 1222.8 531.6 1228.3 532.2C1233.8 532.8 1240.3 534 1246.2 534C1252.2 534 1258.2 533.7 1264.2 532.2C1270.1 530.7 1276.1 527.4 1282.1 525.1C1288.1 522.7 1293.4 519.5 1300 517.9C1306.6 516.2 1317.9 515.6 1321.5 515.2M1064.3 522C1066.2 522.1 1071 521.1 1075.9 522.4C1080.9 523.6 1087.9 526.6 1093.9 529.5C1099.8 532.5 1105.8 537.2 1111.8 540.3C1117.8 543.4 1124.3 546.4 1129.7 548.4C1135.1 550.3 1139.3 551.3 1144.1 551.9C1148.8 552.6 1153.3 552.4 1158.4 552.5C1163.5 552.6 1168.9 552.7 1174.5 552.5C1180.2 552.3 1186 551.7 1192.5 551.4C1198.9 551.1 1207.1 550.6 1213.1 550.5C1219 550.4 1222.8 550.9 1228.3 550.7C1233.8 550.5 1240.3 550.7 1246.2 549.3C1252.2 547.8 1258.2 544.9 1264.2 542.1C1270.1 539.3 1276.1 535.2 1282.1 532.2C1288.1 529.2 1293.4 525.9 1300 524.2C1306.6 522.5 1317.9 522.4 1321.5 522M1064.3 582.4C1066.2 582.3 1071 582 1075.9 581.5C1080.9 581.1 1087.9 580.6 1093.9 579.7C1099.8 578.8 1105.8 577.2 1111.8 576.2C1117.8 575.1 1124.3 574.1 1129.7 573.5C1135.1 572.9 1139.3 572.8 1144.1 572.6C1148.8 572.4 1153.3 572.4 1158.4 572.2C1163.5 572 1168.9 571.6 1174.5 571.3C1180.2 571 1186 570.7 1192.5 570.4C1198.9 570.1 1207.1 569.5 1213.1 569.5C1219 569.6 1222.8 570.1 1228.3 570.8C1233.8 571.4 1240.3 572.4 1246.2 573.5C1252.2 574.5 1258.2 575.9 1264.2 577C1270.1 578.2 1276.1 579.7 1282.1 580.6C1288.1 581.5 1293.4 582.1 1300 582.4C1306.6 582.7 1317.9 582.4 1321.5 582.4M1064.3 584.2C1066.2 584.1 1071 583.8 1075.9 583.3C1080.9 582.8 1087.9 582.1 1093.9 581.2C1099.8 580.2 1105.8 578.7 1111.8 577.6C1117.8 576.5 1124.3 575.4 1129.7 574.7C1135.1 574.1 1139.3 573.9 1144.1 573.6C1148.8 573.4 1153.3 573.3 1158.4 573.1C1163.5 572.9 1168.9 572.5 1174.5 572.2C1180.2 571.9 1186 571.6 1192.5 571.3C1198.9 571 1207.1 570.4 1213.1 570.4C1219 570.5 1222.8 571 1228.3 571.7C1233.8 572.3 1240.3 573.3 1246.2 574.4C1252.2 575.5 1258.2 577.1 1264.2 578.3C1270.1 579.5 1276.1 580.6 1282.1 581.5C1288.1 582.4 1293.4 583.2 1300 583.7C1306.6 584.1 1317.9 584.1 1321.5 584.2" stroke="#0000ff" stroke-width="2.6" fill="none" stroke-linecap="round" stroke-linejoin="round"/>
<rect x="1063.3" y="28.4" width="64.7" height="52.6" fill="#fefefe"/>
<path d="M1066 32L1114.5 32" stroke="#3c3c3c" stroke-width="1.4"/>
<path d="M1101 30.3Q1108 32.8 1115 30.3" stroke="#0000ff" stroke-width="2.2" fill="none"/>
</g>
<text transform="translate(1076.5 62.2) scale(0.94 1)" font-size="27.4" fill="#000" stroke="#000" stroke-width="0.45" style="font-family:'Liberation Sans',sans-serif">(c)</text>
<rect x="1063.3" y="29.1" width="258.7" height="571.4" fill="none" stroke="#000" stroke-width="1.7"/>
<path d="M1058.3 29.1L1063.3 29.1M1058.3 100.5L1063.3 100.5M1058.3 171.9L1063.3 171.9M1058.3 243.4L1063.3 243.4M1058.3 314.8L1063.3 314.8M1058.3 386.2L1063.3 386.2M1058.3 457.7L1063.3 457.7M1058.3 529.1L1063.3 529.1M1058.3 600.5L1063.3 600.5M1063.3 600.5L1063.3 605.5M1158.1 600.5L1158.1 605.5M1212.8 600.5L1212.8 605.5M1322 600.5L1322 605.5" stroke="#000" stroke-width="1.3"/>
<text x="1063.3" y="623.5" font-size="19.5" text-anchor="middle" fill="#000">&#915;</text>
<text x="1158.1" y="623.5" font-size="19.5" text-anchor="middle" fill="#000">M</text>
<text x="1212.8" y="623.5" font-size="19.5" text-anchor="middle" fill="#000">K</text>
<text x="1322" y="623.5" font-size="19.5" text-anchor="middle" fill="#000">&#915;</text>
<path d="M1339.5 314.8L1524.2 314.8" stroke="#000" stroke-width="1.4" stroke-dasharray="3.85 2.22" fill="none"/>
<g clip-path="url(#cd1)" fill="none" stroke-linejoin="round"><path d="M1477.8 28.4C1477.8 74.5 1477.8 258 1477.8 305C1477.8 352 1478.8 307.9 1477.5 310.6C1476.2 313.3 1474.6 318.1 1470.2 321.2C1465.8 324.3 1459 327.1 1450.9 329C1442.9 330.9 1431.6 331.5 1421.9 332.8C1412.2 334.1 1398.5 335.6 1392.9 336.7C1387.3 337.8 1387.1 338.6 1388.1 339.6C1389.1 340.6 1393.7 341.4 1398.7 342.5C1403.7 343.6 1416.4 345 1418 346.3C1419.6 347.6 1411.9 348.9 1408.4 350.2C1404.9 351.5 1397.1 352.7 1396.8 354.1C1396.5 355.6 1407.1 357.4 1406.4 358.9C1405.8 360.3 1397.7 361.5 1392.9 362.8C1388.1 364.1 1377.5 365.5 1377.5 366.6C1377.5 367.7 1387.1 368.5 1392.9 369.5C1398.7 370.5 1408.3 371.3 1412.2 372.4C1416.1 373.5 1415.1 375.2 1416.1 376.3C1417.1 377.4 1415.4 378.2 1418 379.2C1420.6 380.2 1426 381 1431.5 382.1C1437 383.2 1446.4 384.6 1450.9 385.9C1455.4 387.2 1458 388 1458.6 389.8C1459.2 391.6 1454.4 394.4 1454.7 396.5C1455 398.6 1457.9 400.5 1460.5 402.3C1463.1 404.1 1467.3 405.6 1470.2 407.2C1473.1 408.8 1476.5 379.9 1477.8 412C1479.1 444.1 1477.8 568.7 1477.8 600" stroke="#8b0000" stroke-width="1.9"/><path d="M1475.8 28.4C1475.8 28.6 1475.5 29.4 1475.3 29.9C1475.2 30.4 1475 30.9 1474.8 31.4C1474.6 31.9 1474.4 32.4 1474.3 32.9C1474.1 33.4 1473.9 33.9 1473.8 34.4C1473.6 34.9 1473.5 35.4 1473.4 35.9C1473.2 36.4 1473.1 36.9 1473 37.4C1472.9 37.9 1472.9 38.4 1472.8 38.9C1472.8 39.4 1472.8 39.9 1472.8 40.4C1472.8 40.9 1472.9 41.4 1472.9 41.9C1473 42.4 1473.1 42.9 1473.2 43.4C1473.3 43.9 1473.4 44.4 1473.6 44.9C1473.7 45.4 1473.9 45.9 1474 46.4C1474.2 46.9 1474.4 47.4 1474.5 47.9C1474.7 48.4 1474.9 48.9 1475.1 49.4C1475.3 49.9 1475.4 50.4 1475.6 50.9C1475.7 51.4 1475.9 51.9 1476 52.4C1476.2 52.9 1476.3 53.4 1476.4 53.9C1476.6 54.4 1476.7 54.9 1476.8 55.4C1476.8 55.9 1476.9 56.4 1477 56.9C1477.1 57.4 1477.1 57.9 1477.2 58.4C1477.2 58.9 1477.2 59.4 1477.2 59.9C1477.3 60.4 1477.3 60.9 1477.3 61.4C1477.3 61.9 1477.2 62.4 1477.2 62.9C1477.2 63.4 1477.2 63.9 1477.1 64.4C1477.1 64.9 1477 65.4 1477 65.9C1476.9 66.4 1476.8 66.9 1476.8 67.4C1476.7 67.9 1476.6 68.4 1476.5 68.9C1476.4 69.4 1476.3 69.9 1476.2 70.4C1476.1 70.9 1476 71.4 1475.9 71.9C1475.8 72.4 1475.7 72.9 1475.6 73.4C1475.5 73.9 1475.4 74.4 1475.3 74.9C1475.1 75.4 1475 75.9 1474.9 76.4C1474.8 76.9 1474.7 77.4 1474.6 77.9C1474.5 78.4 1474.4 78.9 1474.3 79.4C1474.2 79.9 1474.2 80.4 1474.1 80.9C1474 81.4 1474 81.9 1473.9 82.4C1473.9 82.9 1473.8 83.4 1473.8 83.9C1473.8 84.4 1473.8 84.9 1473.8 85.4C1473.8 85.9 1473.8 86.4 1473.9 86.9C1473.9 87.4 1473.9 87.9 1474 88.4C1474.1 88.9 1474.1 89.4 1474.2 89.9C1474.3 90.4 1474.4 90.9 1474.5 91.4C1474.5 91.9 1474.6 92.4 1474.7 92.9C1474.8 93.4 1474.9 93.9 1475 94.4C1475.1 94.9 1475.2 95.4 1475.3 95.9C1475.4 96.4 1475.5 96.9 1475.5 97.4C1475.6 97.9 1475.6 98.4 1475.7 98.9C1475.7 99.4 1475.7 99.9 1475.7 100.4C1475.7 100.9 1475.7 101.4 1475.6 101.9C1475.5 102.4 1475.5 102.9 1475.4 103.4C1475.3 103.9 1475.2 104.4 1475.1 104.9C1475 105.4 1474.9 105.9 1474.8 106.4C1474.7 106.9 1474.7 107.4 1474.6 107.9C1474.6 108.4 1474.5 108.9 1474.5 109.4C1474.5 109.9 1474.6 110.4 1474.6 110.9C1474.7 111.4 1474.8 111.9 1474.9 112.4C1475 112.9 1475.2 113.4 1475.3 113.9C1475.5 114.4 1475.7 114.9 1475.8 115.4C1476 115.9 1476.2 116.4 1476.3 116.9C1476.5 117.4 1476.6 117.9 1476.8 118.4C1476.9 118.9 1477 119.4 1477.1 119.9C1477.2 120.4 1477.3 120.9 1477.4 121.4C1477.5 121.9 1477.5 122.4 1477.6 122.9C1477.6 123.4 1477.7 123.9 1477.7 124.4C1477.7 124.9 1477.7 125.4 1477.7 125.9C1477.8 126.4 1477.8 122.7 1477.8 127.4C1477.8 132.2 1477.8 149.7 1477.8 154.4C1477.8 159.2 1477.7 155.4 1477.7 155.9C1477.6 156.4 1477.6 156.9 1477.5 157.4C1477.4 157.9 1477.3 158.4 1477.1 158.9C1477 159.4 1476.7 159.9 1476.5 160.4C1476.3 160.9 1476 161.4 1475.8 161.9C1475.5 162.4 1475.3 162.9 1475.1 163.4C1474.9 163.9 1474.8 164.4 1474.8 164.9C1474.8 165.4 1474.9 165.9 1475 166.4C1475.2 166.9 1475.4 167.4 1475.7 167.9C1475.9 168.4 1476.2 168.9 1476.4 169.4C1476.6 169.9 1476.9 170.4 1477.1 170.9C1477.2 171.4 1477.4 171.9 1477.5 172.4C1477.6 172.9 1477.6 173.4 1477.7 173.9C1477.7 174.4 1477.7 150.9 1477.8 175.4C1477.8 199.9 1477.8 296.4 1477.8 320.9C1477.8 345.4 1477.7 321.9 1477.7 322.4C1477.7 322.9 1477.7 323.4 1477.7 323.9C1477.7 324.4 1477.7 324.9 1477.7 325.4C1477.7 325.9 1477.7 326.4 1477.7 326.9C1477.7 327.4 1477.7 327.9 1477.7 328.4C1477.7 328.9 1477.6 329.4 1477.6 329.9C1477.6 330.4 1477.6 330.9 1477.6 331.4C1477.6 331.9 1477.6 332.4 1477.6 332.9C1477.5 333.4 1477.5 333.9 1477.5 334.4C1477.5 334.9 1477.5 335.4 1477.5 335.9C1477.4 336.4 1477.4 336.9 1477.4 337.4C1477.4 337.9 1477.4 338.4 1477.3 338.9C1477.3 339.4 1477.3 339.9 1477.3 340.4C1477.2 340.9 1477.2 341.4 1477.2 341.9C1477.2 342.4 1477.1 342.9 1477.1 343.4C1477.1 343.9 1477 344.4 1477 344.9C1477 345.4 1476.9 345.9 1476.9 346.4C1476.9 346.9 1476.8 347.4 1476.8 347.9C1476.8 348.4 1476.7 348.9 1476.7 349.4C1476.6 349.9 1476.6 350.4 1476.6 350.9C1476.5 351.4 1476.5 351.9 1476.5 352.4C1476.4 352.9 1476.4 353.4 1476.3 353.9C1476.3 354.4 1476.3 354.9 1476.2 355.4C1476.2 355.9 1476.2 356.4 1476.1 356.9C1476.1 357.4 1476.1 357.9 1476 358.4C1476 358.9 1476 359.4 1475.9 359.9C1475.9 360.4 1475.9 360.9 1475.8 361.4C1475.8 361.9 1475.8 362.4 1475.8 362.9C1475.7 363.4 1475.7 363.9 1475.7 364.4C1475.7 364.9 1475.7 365.4 1475.7 365.9C1475.6 366.4 1475.6 366.9 1475.6 367.4C1475.6 367.9 1475.6 368.4 1475.6 368.9C1475.6 369.4 1475.6 369.9 1475.6 370.4C1475.6 370.9 1475.6 371.4 1475.6 371.9C1475.6 372.4 1475.6 372.9 1475.6 373.4C1475.7 373.9 1475.7 374.4 1475.7 374.9C1475.7 375.4 1475.7 375.9 1475.7 376.4C1475.8 376.9 1475.8 377.4 1475.8 377.9C1475.8 378.4 1475.9 378.9 1475.9 379.4C1475.9 379.9 1475.9 380.4 1476 380.9C1476 381.4 1476 381.9 1476.1 382.4C1476.1 382.9 1476.1 383.4 1476.2 383.9C1476.2 384.4 1476.3 384.9 1476.3 385.4C1476.3 385.9 1476.4 386.4 1476.4 386.9C1476.4 387.4 1476.5 387.9 1476.5 388.4C1476.6 388.9 1476.6 389.4 1476.6 389.9C1476.7 390.4 1476.7 390.9 1476.7 391.4C1476.8 391.9 1476.8 392.4 1476.8 392.9C1476.9 393.4 1476.9 393.9 1477 394.4C1477 394.9 1477 395.4 1477 395.9C1477.1 396.4 1477.1 396.9 1477.1 397.4C1477.2 397.9 1477.2 398.4 1477.2 398.9C1477.2 399.4 1477.3 399.9 1477.3 400.4C1477.3 400.9 1477.3 401.4 1477.4 401.9C1477.4 402.4 1477.4 402.9 1477.4 403.4C1477.5 403.9 1477.5 404.4 1477.5 404.9C1477.5 405.4 1477.5 405.9 1477.5 406.4C1477.6 406.9 1477.6 407.4 1477.6 407.9C1477.6 408.4 1477.6 408.9 1477.6 409.4C1477.6 409.9 1477.6 410.4 1477.6 410.9C1477.7 411.4 1477.7 411.9 1477.7 412.4C1477.7 412.9 1477.7 413.4 1477.7 413.9C1477.7 414.4 1477.7 414.9 1477.7 415.4C1477.7 415.9 1477.7 416.4 1477.7 416.9C1477.7 417.4 1477.7 417.9 1477.7 418.4C1477.8 418.9 1477.8 408.9 1477.8 419.9C1477.8 430.9 1477.8 473.4 1477.8 484.4C1477.7 495.4 1477.7 485.4 1477.7 485.9C1477.7 486.4 1477.7 486.9 1477.6 487.4C1477.6 487.9 1477.6 488.4 1477.5 488.9C1477.5 489.4 1477.4 489.9 1477.3 490.4C1477.3 490.9 1477.2 491.4 1477.1 491.9C1477 492.4 1476.9 492.9 1476.8 493.4C1476.7 493.9 1476.6 494.4 1476.5 494.9C1476.4 495.4 1476.3 495.9 1476.2 496.4C1476.1 496.9 1476 497.4 1475.9 497.9C1475.9 498.4 1475.8 498.9 1475.8 499.4C1475.8 499.9 1475.8 500.4 1475.8 500.9C1475.9 501.4 1475.9 501.9 1476 502.4C1476 502.9 1476.1 503.4 1476.2 503.9C1476.3 504.4 1476.4 504.9 1476.5 505.4C1476.6 505.9 1476.7 506.4 1476.8 506.9C1477 507.4 1477 507.9 1477.1 508.4C1477.2 508.9 1477.3 509.4 1477.4 509.9C1477.4 510.4 1477.5 510.9 1477.5 511.4C1477.6 511.9 1477.6 512.4 1477.7 512.9C1477.7 513.4 1477.7 513.9 1477.7 514.4C1477.7 514.9 1477.8 508.9 1477.8 515.9C1477.8 522.9 1477.8 549.4 1477.8 556.4C1477.8 563.4 1477.8 557.4 1477.7 557.9C1477.7 558.4 1477.7 558.9 1477.7 559.4C1477.7 559.9 1477.6 560.4 1477.6 560.9C1477.6 561.4 1477.5 561.9 1477.5 562.4C1477.4 562.9 1477.3 563.4 1477.3 563.9C1477.2 564.4 1477.1 564.9 1477 565.4C1476.9 565.9 1476.8 566.4 1476.7 566.9C1476.6 567.4 1476.5 567.9 1476.4 568.4C1476.3 568.9 1476.2 569.4 1476.1 569.9C1476 570.4 1475.9 570.9 1475.9 571.4C1475.8 571.9 1475.8 572.4 1475.8 572.9C1475.8 573.4 1475.8 573.9 1475.9 574.4C1475.9 574.9 1476 575.4 1476 575.9C1476.1 576.4 1476.2 576.9 1476.3 577.4C1476.4 577.9 1476.5 578.4 1476.6 578.9C1476.7 579.4 1476.9 579.9 1476.9 580.4C1477 580.9 1477.1 581.4 1477.2 581.9C1477.3 582.4 1477.4 582.9 1477.4 583.4C1477.5 583.9 1477.5 584.4 1477.6 584.9C1477.6 585.4 1477.7 585.9 1477.7 586.4C1477.7 586.9 1477.7 587.4 1477.7 587.9C1477.8 588.4 1477.8 587.4 1477.8 589.4C1477.8 591.4 1477.8 598.1 1477.8 599.9M1479.4 28.4C1479.4 28.6 1479.6 29.4 1479.8 29.9C1479.9 30.4 1480.1 30.9 1480.2 31.4C1480.3 31.9 1480.5 32.4 1480.6 32.9C1480.8 33.4 1480.9 33.9 1481 34.4C1481.1 34.9 1481.3 35.4 1481.4 35.9C1481.5 36.4 1481.5 36.9 1481.6 37.4C1481.7 37.9 1481.7 38.4 1481.8 38.9C1481.8 39.4 1481.8 39.9 1481.8 40.4C1481.8 40.9 1481.8 41.4 1481.7 41.9C1481.7 42.4 1481.6 42.9 1481.5 43.4C1481.4 43.9 1481.3 44.4 1481.2 44.9C1481.1 45.4 1481 45.9 1480.9 46.4C1480.8 46.9 1480.6 47.4 1480.5 47.9C1480.4 48.4 1480.3 48.9 1480.2 49.4C1480 49.9 1479.9 50.4 1479.9 50.9C1479.8 51.4 1479.7 51.9 1479.6 52.4C1479.6 52.9 1479.6 53.4 1479.5 53.9C1479.5 54.4 1479.5 54.9 1479.5 55.4C1479.6 55.9 1479.6 56.4 1479.7 56.9C1479.7 57.4 1479.8 57.9 1479.9 58.4C1479.9 58.9 1480 59.4 1480.1 59.9C1480.2 60.4 1480.3 60.9 1480.4 61.4C1480.5 61.9 1480.6 62.4 1480.6 62.9C1480.7 63.4 1480.8 63.9 1480.8 64.4C1480.8 64.9 1480.8 65.4 1480.8 65.9C1480.8 66.4 1480.8 66.9 1480.8 67.4C1480.7 67.9 1480.7 68.4 1480.6 68.9C1480.5 69.4 1480.4 69.9 1480.3 70.4C1480.2 70.9 1480 71.4 1479.9 71.9C1479.8 72.4 1479.7 72.9 1479.5 73.4C1479.4 73.9 1479.3 74.4 1479.2 74.9C1479 75.4 1478.9 75.9 1478.8 76.4C1478.7 76.9 1478.6 77.4 1478.5 77.9C1478.4 78.4 1478.4 78.9 1478.3 79.4C1478.2 79.9 1478.2 80.4 1478.1 80.9C1478.1 81.4 1478 81.9 1478 82.4C1478 82.9 1477.9 83.4 1477.9 83.9C1477.9 84.4 1477.9 84.9 1477.9 85.4C1477.9 85.9 1477.8 75.4 1477.8 86.9C1477.8 98.4 1477.8 142.9 1477.8 154.4C1477.8 165.9 1477.9 155.4 1477.9 155.9C1478 156.4 1478 156.9 1478.1 157.4C1478.2 157.9 1478.3 158.4 1478.5 158.9C1478.6 159.4 1478.9 159.9 1479.1 160.4C1479.3 160.9 1479.6 161.4 1479.8 161.9C1480.1 162.4 1480.3 162.9 1480.5 163.4C1480.7 163.9 1480.8 164.4 1480.8 164.9C1480.8 165.4 1480.7 165.9 1480.6 166.4C1480.4 166.9 1480.2 167.4 1479.9 167.9C1479.7 168.4 1479.4 168.9 1479.2 169.4C1479 169.9 1478.7 170.4 1478.5 170.9C1478.4 171.4 1478.2 171.9 1478.1 172.4C1478 172.9 1478 173.4 1477.9 173.9C1477.9 174.4 1477.9 150.9 1477.8 175.4C1477.8 199.9 1477.8 296.4 1477.8 320.9C1477.8 345.4 1477.9 321.9 1477.9 322.4C1477.9 322.9 1477.9 323.4 1477.9 323.9C1477.9 324.4 1477.9 324.9 1477.9 325.4C1477.9 325.9 1477.9 326.4 1477.9 326.9C1477.9 327.4 1477.9 327.9 1477.9 328.4C1477.9 328.9 1478 329.4 1478 329.9C1478 330.4 1478 330.9 1478 331.4C1478 331.9 1478 332.4 1478 332.9C1478.1 333.4 1478.1 333.9 1478.1 334.4C1478.1 334.9 1478.1 335.4 1478.1 335.9C1478.2 336.4 1478.2 336.9 1478.2 337.4C1478.2 337.9 1478.2 338.4 1478.3 338.9C1478.3 339.4 1478.3 339.9 1478.3 340.4C1478.4 340.9 1478.4 341.4 1478.4 341.9C1478.4 342.4 1478.5 342.9 1478.5 343.4C1478.5 343.9 1478.6 344.4 1478.6 344.9C1478.6 345.4 1478.7 345.9 1478.7 346.4C1478.7 346.9 1478.8 347.4 1478.8 347.9C1478.8 348.4 1478.9 348.9 1478.9 349.4C1479 349.9 1479 350.4 1479 350.9C1479.1 351.4 1479.1 351.9 1479.1 352.4C1479.2 352.9 1479.2 353.4 1479.3 353.9C1479.3 354.4 1479.3 354.9 1479.4 355.4C1479.4 355.9 1479.4 356.4 1479.5 356.9C1479.5 357.4 1479.5 357.9 1479.6 358.4C1479.6 358.9 1479.6 359.4 1479.7 359.9C1479.7 360.4 1479.7 360.9 1479.8 361.4C1479.8 361.9 1479.8 362.4 1479.8 362.9C1479.9 363.4 1479.9 363.9 1479.9 364.4C1479.9 364.9 1479.9 365.4 1479.9 365.9C1480 366.4 1480 366.9 1480 367.4C1480 367.9 1480 368.4 1480 368.9C1480 369.4 1480 369.9 1480 370.4C1480 370.9 1480 371.4 1480 371.9C1480 372.4 1480 372.9 1480 373.4C1479.9 373.9 1479.9 374.4 1479.9 374.9C1479.9 375.4 1479.9 375.9 1479.9 376.4C1479.8 376.9 1479.8 377.4 1479.8 377.9C1479.8 378.4 1479.7 378.9 1479.7 379.4C1479.7 379.9 1479.7 380.4 1479.6 380.9C1479.6 381.4 1479.6 381.9 1479.5 382.4C1479.5 382.9 1479.5 383.4 1479.4 383.9C1479.4 384.4 1479.3 384.9 1479.3 385.4C1479.3 385.9 1479.2 386.4 1479.2 386.9C1479.2 387.4 1479.1 387.9 1479.1 388.4C1479 388.9 1479 389.4 1479 389.9C1478.9 390.4 1478.9 390.9 1478.9 391.4C1478.8 391.9 1478.8 392.4 1478.8 392.9C1478.7 393.4 1478.7 393.9 1478.6 394.4C1478.6 394.9 1478.6 395.4 1478.6 395.9C1478.5 396.4 1478.5 396.9 1478.5 397.4C1478.4 397.9 1478.4 398.4 1478.4 398.9C1478.4 399.4 1478.3 399.9 1478.3 400.4C1478.3 400.9 1478.3 401.4 1478.2 401.9C1478.2 402.4 1478.2 402.9 1478.2 403.4C1478.1 403.9 1478.1 404.4 1478.1 404.9C1478.1 405.4 1478.1 405.9 1478.1 406.4C1478 406.9 1478 407.4 1478 407.9C1478 408.4 1478 408.9 1478 409.4C1478 409.9 1478 410.4 1478 410.9C1477.9 411.4 1477.9 411.9 1477.9 412.4C1477.9 412.9 1477.9 413.4 1477.9 413.9C1477.9 414.4 1477.9 414.9 1477.9 415.4C1477.9 415.9 1477.9 416.4 1477.9 416.9C1477.9 417.4 1477.9 417.9 1477.9 418.4C1477.8 418.9 1477.8 389.6 1477.8 419.9C1477.8 450.1 1477.8 569.9 1477.8 599.9" stroke="#158015" stroke-width="1.8"/><path d="M1477.8 28.4C1477.8 48.6 1477.8 129.4 1477.8 149.9C1477.8 170.4 1477.8 150.9 1477.7 151.4C1477.7 151.9 1477.7 152.4 1477.6 152.9C1477.5 153.4 1477.5 153.9 1477.3 154.4C1477.2 154.9 1477 155.4 1476.7 155.9C1476.4 156.4 1476.1 156.9 1475.6 157.4C1475.1 157.9 1474.5 158.4 1473.9 158.9C1473.2 159.4 1472.4 159.9 1471.7 160.4C1470.9 160.9 1470.1 161.4 1469.4 161.9C1468.7 162.4 1468 162.9 1467.6 163.4C1467.1 163.9 1466.8 164.4 1466.8 164.9C1466.8 165.4 1467 165.9 1467.4 166.4C1467.8 166.9 1468.4 167.4 1469.1 167.9C1469.8 168.4 1470.6 168.9 1471.4 169.4C1472.1 169.9 1472.9 170.4 1473.6 170.9C1474.3 171.4 1474.9 171.9 1475.4 172.4C1475.9 172.9 1476.3 173.4 1476.6 173.9C1476.9 174.4 1477.1 174.9 1477.3 175.4C1477.4 175.9 1477.5 176.4 1477.6 176.9C1477.7 177.4 1477.7 177.9 1477.7 178.4C1477.8 178.9 1477.8 158.2 1477.8 179.9C1477.8 201.7 1477.8 287.1 1477.8 308.9C1477.7 330.6 1477.7 309.9 1477.7 310.4C1477.7 310.9 1477.7 311.4 1477.7 311.9C1477.7 312.4 1477.7 312.9 1477.7 313.4C1477.7 313.9 1477.7 314.4 1477.7 314.9C1477.7 315.4 1477.7 315.9 1477.7 316.4C1477.7 316.9 1477.7 317.4 1477.7 317.9C1477.7 318.4 1477.7 318.9 1477.6 319.4C1477.6 319.9 1477.6 320.4 1477.6 320.9C1477.6 321.4 1477.6 321.9 1477.6 322.4C1477.5 322.9 1477.5 323.4 1477.4 323.9C1477.4 324.4 1477.3 324.9 1477.1 325.4C1477 325.9 1476.8 326.4 1476.6 326.9C1476.4 327.4 1476.1 327.9 1475.7 328.4C1475.4 328.9 1475 329.4 1474.7 329.9C1474.4 330.4 1474 330.9 1473.8 331.4C1473.5 331.9 1473.4 332.4 1473.3 332.9C1473.3 333.4 1473.4 333.9 1473.6 334.4C1473.7 334.9 1474.1 335.4 1474.4 335.9C1474.6 336.4 1475 336.9 1475.3 337.4C1475.6 337.9 1475.9 338.4 1476.1 338.9C1476.3 339.4 1476.5 339.9 1476.6 340.4C1476.7 340.9 1476.8 341.4 1476.8 341.9C1476.8 342.4 1476.8 342.9 1476.9 343.4C1476.9 343.9 1476.8 344.4 1476.8 344.9C1476.8 345.4 1476.8 345.9 1476.8 346.4C1476.8 346.9 1476.7 347.4 1476.7 347.9C1476.7 348.4 1476.7 348.9 1476.7 349.4C1476.6 349.9 1476.6 350.4 1476.6 350.9C1476.6 351.4 1476.6 351.9 1476.5 352.4C1476.5 352.9 1476.5 353.4 1476.5 353.9C1476.5 354.4 1476.5 354.9 1476.4 355.4C1476.4 355.9 1476.4 356.4 1476.4 356.9C1476.4 357.4 1476.4 357.9 1476.4 358.4C1476.4 358.9 1476.4 359.4 1476.3 359.9C1476.3 360.4 1476.3 360.9 1476.3 361.4C1476.3 361.9 1476.3 362.4 1476.3 362.9C1476.3 363.4 1476.3 363.9 1476.3 364.4C1476.3 364.9 1476.3 365.4 1476.3 365.9C1476.3 366.4 1476.3 366.9 1476.3 367.4C1476.3 367.9 1476.3 368.4 1476.3 368.9C1476.3 369.4 1476.3 369.9 1476.3 370.4C1476.4 370.9 1476.4 371.4 1476.4 371.9C1476.4 372.4 1476.4 372.9 1476.4 373.4C1476.4 373.9 1476.4 374.4 1476.4 374.9C1476.5 375.4 1476.5 375.9 1476.5 376.4C1476.5 376.9 1476.5 377.4 1476.5 377.9C1476.5 378.4 1476.5 378.9 1476.5 379.4C1476.5 379.9 1476.5 380.4 1476.5 380.9C1476.4 381.4 1476.4 381.9 1476.4 382.4C1476.3 382.9 1476.2 383.4 1476.1 383.9C1476.1 384.4 1475.9 384.9 1475.8 385.4C1475.7 385.9 1475.5 386.4 1475.3 386.9C1475.1 387.4 1474.8 387.9 1474.6 388.4C1474.3 388.9 1474 389.4 1473.7 389.9C1473.4 390.4 1473.1 390.9 1472.7 391.4C1472.4 391.9 1472 392.4 1471.7 392.9C1471.4 393.4 1471.1 393.9 1470.8 394.4C1470.6 394.9 1470.3 395.4 1470.2 395.9C1470 396.4 1469.9 396.9 1469.9 397.4C1469.8 397.9 1469.9 398.4 1470 398.9C1470.1 399.4 1470.2 399.9 1470.4 400.4C1470.7 400.9 1470.9 401.4 1471.3 401.9C1471.6 402.4 1471.9 402.9 1472.3 403.4C1472.6 403.9 1473 404.4 1473.4 404.9C1473.7 405.4 1474.1 405.9 1474.4 406.4C1474.8 406.9 1475.1 407.4 1475.4 407.9C1475.7 408.4 1475.9 408.9 1476.1 409.4C1476.3 409.9 1476.5 410.4 1476.7 410.9C1476.9 411.4 1477 411.9 1477.1 412.4C1477.2 412.9 1477.3 413.4 1477.4 413.9C1477.4 414.4 1477.5 414.9 1477.5 415.4C1477.6 415.9 1477.6 416.4 1477.6 416.9C1477.7 417.4 1477.7 417.9 1477.7 418.4C1477.7 418.9 1477.7 419.4 1477.7 419.9C1477.7 420.4 1477.7 420.9 1477.7 421.4C1477.8 421.9 1477.8 413.4 1477.8 422.9C1477.8 432.4 1477.8 468.9 1477.8 478.4C1477.8 487.9 1477.7 479.4 1477.7 479.9C1477.7 480.4 1477.7 480.9 1477.6 481.4C1477.6 481.9 1477.5 482.4 1477.5 482.9C1477.4 483.4 1477.3 483.9 1477.2 484.4C1477.1 484.9 1476.9 485.4 1476.7 485.9C1476.6 486.4 1476.4 486.9 1476.1 487.4C1475.9 487.9 1475.6 488.4 1475.3 488.9C1474.9 489.4 1474.6 489.9 1474.2 490.4C1473.8 490.9 1473.4 491.4 1473 491.9C1472.6 492.4 1472.2 492.9 1471.8 493.4C1471.5 493.9 1471.1 494.4 1470.8 494.9C1470.5 495.4 1470.2 495.9 1470.1 496.4C1469.9 496.9 1469.8 497.4 1469.8 497.9C1469.8 498.4 1469.9 498.9 1470 499.4C1470.2 499.9 1470.4 500.4 1470.7 500.9C1471 501.4 1471.3 501.9 1471.7 502.4C1472 502.9 1472.5 503.4 1472.9 503.9C1473.3 504.4 1473.7 504.9 1474.1 505.4C1474.4 505.9 1474.8 506.4 1475.1 506.9C1475.5 507.4 1475.8 507.9 1476 508.4C1476.3 508.9 1476.5 509.4 1476.7 509.9C1476.9 510.4 1477 510.9 1477.1 511.4C1477.3 511.9 1477.4 512.4 1477.4 512.9C1477.5 513.4 1477.6 513.9 1477.6 514.4C1477.7 514.9 1477.7 515.4 1477.7 515.9C1477.7 516.4 1477.7 510.1 1477.8 517.4C1477.8 524.6 1477.8 552.1 1477.8 559.4C1477.8 566.6 1477.7 560.4 1477.7 560.9C1477.7 561.4 1477.6 561.9 1477.5 562.4C1477.4 562.9 1477.3 563.4 1477.1 563.9C1476.9 564.4 1476.6 564.9 1476.3 565.4C1475.9 565.9 1475.4 566.4 1474.8 566.9C1474.3 567.4 1473.5 567.9 1472.8 568.4C1472 568.9 1471.1 569.4 1470.3 569.9C1469.5 570.4 1468.5 570.9 1467.9 571.4C1467.2 571.9 1466.5 572.4 1466.2 572.9C1465.9 573.4 1465.7 573.9 1465.9 574.4C1466 574.9 1466.4 575.4 1466.9 575.9C1467.5 576.4 1468.3 576.9 1469.1 577.4C1469.9 577.9 1470.8 578.4 1471.6 578.9C1472.5 579.4 1473.3 579.9 1474 580.4C1474.6 580.9 1475.2 581.4 1475.7 581.9C1476.1 582.4 1476.5 582.9 1476.8 583.4C1477 583.9 1477.2 584.4 1477.4 584.9C1477.5 585.4 1477.6 585.9 1477.6 586.4C1477.7 586.9 1477.7 587.4 1477.7 587.9C1477.8 588.4 1477.8 587.4 1477.8 589.4C1477.8 591.4 1477.8 598.1 1477.8 599.9M1477.8 28.4C1477.8 48.6 1477.8 129.4 1477.8 149.9C1477.8 170.4 1477.8 150.9 1477.9 151.4C1477.9 151.9 1477.9 152.4 1478 152.9C1478 153.4 1478.1 153.9 1478.2 154.4C1478.4 154.9 1478.5 155.4 1478.8 155.9C1479.1 156.4 1479.4 156.9 1479.8 157.4C1480.2 157.9 1480.8 158.4 1481.4 158.9C1481.9 159.4 1482.7 159.9 1483.4 160.4C1484 160.9 1484.8 161.4 1485.5 161.9C1486.1 162.4 1486.7 162.9 1487.1 163.4C1487.5 163.9 1487.8 164.4 1487.8 164.9C1487.8 165.4 1487.6 165.9 1487.3 166.4C1486.9 166.9 1486.3 167.4 1485.7 167.9C1485.1 168.4 1484.3 168.9 1483.6 169.4C1483 169.9 1482.2 170.4 1481.6 170.9C1481 171.4 1480.4 171.9 1480 172.4C1479.5 172.9 1479.2 173.4 1478.9 173.9C1478.6 174.4 1478.4 174.9 1478.3 175.4C1478.1 175.9 1478.1 176.4 1478 176.9C1477.9 177.4 1477.9 177.9 1477.9 178.4C1477.8 178.9 1477.8 154.2 1477.8 179.9C1477.8 205.7 1477.8 307.1 1477.8 332.9C1477.9 358.6 1477.9 333.9 1477.9 334.4C1477.9 334.9 1477.9 335.4 1477.9 335.9C1478 336.4 1478 336.9 1478 337.4C1478 337.9 1478.1 338.4 1478.1 338.9C1478.2 339.4 1478.2 339.9 1478.3 340.4C1478.3 340.9 1478.4 341.4 1478.5 341.9C1478.6 342.4 1478.7 342.9 1478.8 343.4C1478.9 343.9 1479 344.4 1479.1 344.9C1479.3 345.4 1479.4 345.9 1479.6 346.4C1479.7 346.9 1479.9 347.4 1480.1 347.9C1480.3 348.4 1480.5 348.9 1480.7 349.4C1480.9 349.9 1481.2 350.4 1481.4 350.9C1481.7 351.4 1481.9 351.9 1482.1 352.4C1482.4 352.9 1482.6 353.4 1482.9 353.9C1483.1 354.4 1483.4 354.9 1483.6 355.4C1483.8 355.9 1484 356.4 1484.2 356.9C1484.4 357.4 1484.6 357.9 1484.7 358.4C1484.9 358.9 1485 359.4 1485.1 359.9C1485.2 360.4 1485.3 360.9 1485.3 361.4C1485.3 361.9 1485.3 362.4 1485.3 362.9C1485.2 363.4 1485.2 363.9 1485 364.4C1484.9 364.9 1484.8 365.4 1484.7 365.9C1484.5 366.4 1484.3 366.9 1484.1 367.4C1483.9 367.9 1483.7 368.4 1483.5 368.9C1483.2 369.4 1483 369.9 1482.7 370.4C1482.5 370.9 1482.2 371.4 1482 371.9C1481.8 372.4 1481.5 372.9 1481.3 373.4C1481 373.9 1480.8 374.4 1480.6 374.9C1480.4 375.4 1480.2 375.9 1480 376.4C1479.8 376.9 1479.6 377.4 1479.5 377.9C1479.3 378.4 1479.2 378.9 1479.1 379.4C1478.9 379.9 1478.8 380.4 1478.7 380.9C1478.6 381.4 1478.5 381.9 1478.4 382.4C1478.4 382.9 1478.3 383.4 1478.2 383.9C1478.2 384.4 1478.1 384.9 1478.1 385.4C1478.1 385.9 1478 386.4 1478 386.9C1478 387.4 1477.9 387.9 1477.9 388.4C1477.9 388.9 1477.9 389.4 1477.9 389.9C1477.9 390.4 1477.9 378.4 1477.8 391.4C1477.8 404.4 1477.8 454.9 1477.8 467.9C1477.8 480.9 1477.8 468.9 1477.9 469.4C1477.9 469.9 1477.9 470.4 1477.9 470.9C1478 471.4 1478 471.9 1478 472.4C1478.1 472.9 1478.2 473.4 1478.2 473.9C1478.3 474.4 1478.4 474.9 1478.6 475.4C1478.7 475.9 1478.9 476.4 1479.1 476.9C1479.3 477.4 1479.5 477.9 1479.8 478.4C1480 478.9 1480.3 479.4 1480.6 479.9C1480.9 480.4 1481.3 480.9 1481.6 481.4C1482 481.9 1482.3 482.4 1482.7 482.9C1483 483.4 1483.4 483.9 1483.7 484.4C1483.9 484.9 1484.2 485.4 1484.4 485.9C1484.6 486.4 1484.7 486.9 1484.8 487.4C1484.8 487.9 1484.8 488.4 1484.7 488.9C1484.6 489.4 1484.5 489.9 1484.3 490.4C1484.1 490.9 1483.8 491.4 1483.5 491.9C1483.2 492.4 1482.8 492.9 1482.5 493.4C1482.1 493.9 1481.8 494.4 1481.4 494.9C1481.1 495.4 1480.7 495.9 1480.4 496.4C1480.1 496.9 1479.8 497.4 1479.6 497.9C1479.4 498.4 1479.1 498.9 1479 499.4C1478.8 499.9 1478.6 500.4 1478.5 500.9C1478.4 501.4 1478.3 501.9 1478.2 502.4C1478.1 502.9 1478.1 503.4 1478 503.9C1478 504.4 1477.9 504.9 1477.9 505.4C1477.9 505.9 1477.9 497.9 1477.8 506.9C1477.8 515.9 1477.8 550.4 1477.8 559.4C1477.8 568.4 1477.9 560.4 1477.9 560.9C1477.9 561.4 1478 561.9 1478.1 562.4C1478.2 562.9 1478.3 563.4 1478.4 563.9C1478.6 564.4 1478.9 564.9 1479.2 565.4C1479.6 565.9 1480 566.4 1480.5 566.9C1481 567.4 1481.7 567.9 1482.4 568.4C1483.1 568.9 1483.9 569.4 1484.7 569.9C1485.4 570.4 1486.3 570.9 1486.9 571.4C1487.5 571.9 1488.1 572.4 1488.4 572.9C1488.7 573.4 1488.9 573.9 1488.8 574.4C1488.6 574.9 1488.2 575.4 1487.8 575.9C1487.3 576.4 1486.5 576.9 1485.8 577.4C1485.1 577.9 1484.2 578.4 1483.4 578.9C1482.7 579.4 1481.9 579.9 1481.3 580.4C1480.7 580.9 1480.2 581.4 1479.7 581.9C1479.3 582.4 1479 582.9 1478.7 583.4C1478.5 583.9 1478.3 584.4 1478.2 584.9C1478.1 585.4 1478 585.9 1478 586.4C1477.9 586.9 1477.9 587.4 1477.9 587.9C1477.8 588.4 1477.8 587.4 1477.8 589.4C1477.8 591.4 1477.8 598.1 1477.8 599.9" stroke="#00007e" stroke-width="1.9"/><path d="M1477.8 28.4C1477.8 48.6 1477.8 129.4 1477.8 149.9C1477.8 170.4 1477.8 150.9 1477.7 151.4C1477.7 151.9 1477.7 152.4 1477.6 152.9C1477.5 153.4 1477.4 153.9 1477.2 154.4C1477 154.9 1476.8 155.4 1476.5 155.9C1476.2 156.4 1475.7 156.9 1475.2 157.4C1474.6 157.9 1473.9 158.4 1473.2 158.9C1472.4 159.4 1471.5 159.9 1470.6 160.4C1469.7 160.9 1468.7 161.4 1467.8 161.9C1467 162.4 1466.2 162.9 1465.7 163.4C1465.2 163.9 1464.8 164.4 1464.8 164.9C1464.8 165.4 1465 165.9 1465.5 166.4C1465.9 166.9 1466.7 167.4 1467.5 167.9C1468.3 168.4 1469.3 168.9 1470.2 169.4C1471.1 169.9 1472.1 170.4 1472.9 170.9C1473.6 171.4 1474.4 171.9 1475 172.4C1475.5 172.9 1476 173.4 1476.4 173.9C1476.7 174.4 1477 174.9 1477.2 175.4C1477.4 175.9 1477.5 176.4 1477.5 176.9C1477.6 177.4 1477.7 177.9 1477.7 178.4C1477.7 178.9 1477.8 158.9 1477.8 179.9C1477.8 200.9 1477.8 283.4 1477.8 304.4C1477.7 325.4 1477.7 305.4 1477.7 305.9C1477.7 306.4 1477.7 306.9 1477.7 307.4C1477.7 307.9 1477.7 308.4 1477.7 308.9C1477.7 309.4 1477.7 309.9 1477.7 310.4C1477.7 310.9 1477.7 311.4 1477.7 311.9C1477.7 312.4 1477.7 312.9 1477.7 313.4C1477.7 313.9 1477.7 314.4 1477.6 314.9C1477.6 315.4 1477.6 315.9 1477.6 316.4C1477.6 316.9 1477.6 317.4 1477.6 317.9C1477.6 318.4 1477.6 318.9 1477.5 319.4C1477.5 319.9 1477.5 320.4 1477.4 320.9C1477.4 321.4 1477.3 321.9 1477.2 322.4C1477.1 322.9 1476.9 323.4 1476.7 323.9C1476.5 324.4 1476.2 324.9 1475.8 325.4C1475.5 325.9 1475 326.4 1474.5 326.9C1474.1 327.4 1473.5 327.9 1473.1 328.4C1472.7 328.9 1472.2 329.4 1472 329.9C1471.8 330.4 1471.7 330.9 1471.7 331.4C1471.8 331.9 1472.1 332.4 1472.4 332.9C1472.7 333.4 1473.2 333.9 1473.6 334.4C1474 334.9 1474.5 335.4 1474.9 335.9C1475.3 336.4 1475.6 336.9 1475.9 337.4C1476.1 337.9 1476.3 338.4 1476.4 338.9C1476.6 339.4 1476.6 339.9 1476.7 340.4C1476.7 340.9 1476.7 341.4 1476.7 341.9C1476.7 342.4 1476.7 342.9 1476.7 343.4C1476.7 343.9 1476.7 344.4 1476.6 344.9C1476.6 345.4 1476.6 345.9 1476.6 346.4C1476.6 346.9 1476.5 347.4 1476.5 347.9C1476.5 348.4 1476.5 348.9 1476.5 349.4C1476.5 349.9 1476.4 350.4 1476.4 350.9C1476.4 351.4 1476.4 351.9 1476.4 352.4C1476.4 352.9 1476.4 353.4 1476.4 353.9C1476.4 354.4 1476.3 354.9 1476.3 355.4C1476.3 355.9 1476.3 356.4 1476.3 356.9C1476.3 357.4 1476.3 357.9 1476.3 358.4C1476.3 358.9 1476.3 359.4 1476.3 359.9C1476.3 360.4 1476.3 360.9 1476.3 361.4C1476.3 361.9 1476.3 362.4 1476.3 362.9C1476.3 363.4 1476.3 363.9 1476.3 364.4C1476.3 364.9 1476.3 365.4 1476.4 365.9C1476.4 366.4 1476.4 366.9 1476.4 367.4C1476.4 367.9 1476.4 368.4 1476.4 368.9C1476.4 369.4 1476.5 369.9 1476.5 370.4C1476.5 370.9 1476.5 371.4 1476.5 371.9C1476.5 372.4 1476.5 372.9 1476.6 373.4C1476.6 373.9 1476.6 374.4 1476.6 374.9C1476.6 375.4 1476.6 375.9 1476.7 376.4C1476.7 376.9 1476.7 377.4 1476.7 377.9C1476.7 378.4 1476.7 378.9 1476.7 379.4C1476.6 379.9 1476.6 380.4 1476.6 380.9C1476.5 381.4 1476.5 381.9 1476.4 382.4C1476.3 382.9 1476.2 383.4 1476.1 383.9C1475.9 384.4 1475.7 384.9 1475.5 385.4C1475.3 385.9 1475 386.4 1474.7 386.9C1474.4 387.4 1474.1 387.9 1473.7 388.4C1473.3 388.9 1472.8 389.4 1472.4 389.9C1471.9 390.4 1471.4 390.9 1470.9 391.4C1470.4 391.9 1469.8 392.4 1469.4 392.9C1468.9 393.4 1468.4 393.9 1468 394.4C1467.6 394.9 1467.3 395.4 1467 395.9C1466.8 396.4 1466.6 396.9 1466.5 397.4C1466.5 397.9 1466.5 398.4 1466.6 398.9C1466.8 399.4 1467 399.9 1467.3 400.4C1467.6 400.9 1468 401.4 1468.5 401.9C1468.9 402.4 1469.4 402.9 1469.9 403.4C1470.5 403.9 1471 404.4 1471.5 404.9C1472 405.4 1472.6 405.9 1473.1 406.4C1473.5 406.9 1474 407.4 1474.4 407.9C1474.8 408.4 1475.2 408.9 1475.5 409.4C1475.8 409.9 1476.1 410.4 1476.3 410.9C1476.5 411.4 1476.7 411.9 1476.9 412.4C1477 412.9 1477.2 413.4 1477.3 413.9C1477.4 414.4 1477.4 414.9 1477.5 415.4C1477.6 415.9 1477.6 416.4 1477.6 416.9C1477.7 417.4 1477.7 417.9 1477.7 418.4C1477.7 418.9 1477.7 419.4 1477.7 419.9C1477.8 420.4 1477.8 411.6 1477.8 421.4C1477.8 431.1 1477.8 468.6 1477.8 478.4C1477.7 488.1 1477.7 479.4 1477.7 479.9C1477.7 480.4 1477.6 480.9 1477.6 481.4C1477.6 481.9 1477.5 482.4 1477.4 482.9C1477.3 483.4 1477.2 483.9 1477.1 484.4C1477 484.9 1476.8 485.4 1476.6 485.9C1476.4 486.4 1476.2 486.9 1475.9 487.4C1475.6 487.9 1475.3 488.4 1474.9 488.9C1474.6 489.4 1474.2 489.9 1473.8 490.4C1473.3 490.9 1472.9 491.4 1472.4 491.9C1472 492.4 1471.5 492.9 1471.1 493.4C1470.7 493.9 1470.2 494.4 1469.9 494.9C1469.6 495.4 1469.3 495.9 1469.1 496.4C1468.9 496.9 1468.8 497.4 1468.8 497.9C1468.8 498.4 1468.9 498.9 1469 499.4C1469.2 499.9 1469.5 500.4 1469.8 500.9C1470.1 501.4 1470.5 501.9 1470.9 502.4C1471.3 502.9 1471.8 503.4 1472.2 503.9C1472.7 504.4 1473.2 504.9 1473.6 505.4C1474 505.9 1474.4 506.4 1474.8 506.9C1475.2 507.4 1475.5 507.9 1475.8 508.4C1476.1 508.9 1476.3 509.4 1476.5 509.9C1476.7 510.4 1476.9 510.9 1477.1 511.4C1477.2 511.9 1477.3 512.4 1477.4 512.9C1477.5 513.4 1477.5 513.9 1477.6 514.4C1477.6 514.9 1477.7 515.4 1477.7 515.9C1477.7 516.4 1477.7 515.4 1477.8 517.4C1477.8 519.4 1477.8 525.9 1477.8 527.9C1477.8 529.9 1477.8 528.9 1477.7 529.4C1477.7 529.9 1477.7 530.4 1477.7 530.9C1477.6 531.4 1477.6 531.9 1477.5 532.4C1477.5 532.9 1477.4 533.4 1477.3 533.9C1477.2 534.4 1477.1 534.9 1476.9 535.4C1476.7 535.9 1476.5 536.4 1476.3 536.9C1476 537.4 1475.8 537.9 1475.4 538.4C1475.1 538.9 1474.8 539.4 1474.4 539.9C1474 540.4 1473.6 540.9 1473.2 541.4C1472.8 541.9 1472.4 542.4 1472 542.9C1471.7 543.4 1471.3 543.9 1471.1 544.4C1470.8 544.9 1470.6 545.4 1470.4 545.9C1470.3 546.4 1470.3 546.9 1470.3 547.4C1470.4 547.9 1470.5 548.4 1470.7 548.9C1470.9 549.4 1471.2 549.9 1471.5 550.4C1471.9 550.9 1472.3 551.4 1472.6 551.9C1473 552.4 1473.5 552.9 1473.8 553.4C1474.2 553.9 1474.6 554.4 1475 554.9C1475.3 555.4 1475.6 555.9 1475.9 556.4C1476.2 556.9 1476.4 557.4 1476.6 557.9C1476.8 558.4 1477 558.9 1477.1 559.4C1477.2 559.9 1477.3 560.4 1477.3 560.9C1477.3 561.4 1477.4 561.9 1477.3 562.4C1477.2 562.9 1477.1 563.4 1476.9 563.9C1476.7 564.4 1476.4 564.9 1476 565.4C1475.5 565.9 1475 566.4 1474.3 566.9C1473.7 567.4 1472.8 567.9 1471.9 568.4C1471 568.9 1470 569.4 1469 569.9C1468.1 570.4 1467 570.9 1466.2 571.4C1465.4 571.9 1464.7 572.4 1464.3 572.9C1463.9 573.4 1463.7 573.9 1463.9 574.4C1464 574.9 1464.5 575.4 1465.1 575.9C1465.8 576.4 1466.7 576.9 1467.6 577.4C1468.6 577.9 1469.7 578.4 1470.6 578.9C1471.6 579.4 1472.5 579.9 1473.3 580.4C1474.1 580.9 1474.8 581.4 1475.3 581.9C1475.9 582.4 1476.3 582.9 1476.6 583.4C1476.9 583.9 1477.1 584.4 1477.3 584.9C1477.5 585.4 1477.5 585.9 1477.6 586.4C1477.7 586.9 1477.7 587.4 1477.7 587.9C1477.8 588.4 1477.8 587.4 1477.8 589.4C1477.8 591.4 1477.8 598.1 1477.8 599.9M1477.8 28.4C1477.8 48.6 1477.8 129.4 1477.8 149.9C1477.8 170.4 1477.8 150.9 1477.9 151.4C1477.9 151.9 1477.9 152.4 1478 152.9C1478.1 153.4 1478.2 153.9 1478.4 154.4C1478.6 154.9 1478.8 155.4 1479.1 155.9C1479.4 156.4 1479.9 156.9 1480.4 157.4C1481 157.9 1481.7 158.4 1482.4 158.9C1483.2 159.4 1484.1 159.9 1485 160.4C1485.9 160.9 1486.9 161.4 1487.8 161.9C1488.6 162.4 1489.4 162.9 1489.9 163.4C1490.4 163.9 1490.8 164.4 1490.8 164.9C1490.8 165.4 1490.6 165.9 1490.1 166.4C1489.7 166.9 1488.9 167.4 1488.1 167.9C1487.3 168.4 1486.3 168.9 1485.4 169.4C1484.5 169.9 1483.5 170.4 1482.7 170.9C1482 171.4 1481.2 171.9 1480.6 172.4C1480.1 172.9 1479.6 173.4 1479.2 173.9C1478.9 174.4 1478.6 174.9 1478.4 175.4C1478.2 175.9 1478.1 176.4 1478.1 176.9C1478 177.4 1477.9 177.9 1477.9 178.4C1477.9 178.9 1477.8 154.4 1477.8 179.9C1477.8 205.4 1477.8 305.9 1477.8 331.4C1477.8 356.9 1477.9 332.4 1477.9 332.9C1477.9 333.4 1477.9 333.9 1477.9 334.4C1477.9 334.9 1477.9 335.4 1478 335.9C1478 336.4 1478 336.9 1478 337.4C1478.1 337.9 1478.1 338.4 1478.2 338.9C1478.2 339.4 1478.3 339.9 1478.3 340.4C1478.4 340.9 1478.5 341.4 1478.6 341.9C1478.7 342.4 1478.8 342.9 1478.9 343.4C1479 343.9 1479.2 344.4 1479.3 344.9C1479.5 345.4 1479.7 345.9 1479.9 346.4C1480 346.9 1480.3 347.4 1480.5 347.9C1480.7 348.4 1481 348.9 1481.3 349.4C1481.5 349.9 1481.8 350.4 1482.2 350.9C1482.5 351.4 1482.8 351.9 1483.1 352.4C1483.5 352.9 1483.8 353.4 1484.2 353.9C1484.6 354.4 1484.9 354.9 1485.3 355.4C1485.7 355.9 1486 356.4 1486.4 356.9C1486.7 357.4 1487.1 357.9 1487.4 358.4C1487.7 358.9 1488 359.4 1488.3 359.9C1488.6 360.4 1488.8 360.9 1489 361.4C1489.2 361.9 1489.4 362.4 1489.5 362.9C1489.7 363.4 1489.7 363.9 1489.8 364.4C1489.8 364.9 1489.8 365.4 1489.8 365.9C1489.7 366.4 1489.6 366.9 1489.5 367.4C1489.3 367.9 1489.1 368.4 1488.9 368.9C1488.7 369.4 1488.4 369.9 1488.1 370.4C1487.9 370.9 1487.5 371.4 1487.2 371.9C1486.9 372.4 1486.5 372.9 1486.2 373.4C1485.8 373.9 1485.4 374.4 1485.1 374.9C1484.7 375.4 1484.3 375.9 1484 376.4C1483.6 376.9 1483.3 377.4 1482.9 377.9C1482.6 378.4 1482.3 378.9 1482 379.4C1481.7 379.9 1481.4 380.4 1481.1 380.9C1480.8 381.4 1480.6 381.9 1480.4 382.4C1480.1 382.9 1479.9 383.4 1479.7 383.9C1479.6 384.4 1479.4 384.9 1479.2 385.4C1479.1 385.9 1479 386.4 1478.8 386.9C1478.7 387.4 1478.6 387.9 1478.5 388.4C1478.4 388.9 1478.4 389.4 1478.3 389.9C1478.2 390.4 1478.2 390.9 1478.1 391.4C1478.1 391.9 1478.1 392.4 1478 392.9C1478 393.4 1478 393.9 1477.9 394.4C1477.9 394.9 1477.9 395.4 1477.9 395.9C1477.9 396.4 1477.9 396.9 1477.9 397.4C1477.8 397.9 1477.8 387.1 1477.8 398.9C1477.8 410.6 1477.8 456.1 1477.8 467.9C1477.8 479.6 1477.8 468.9 1477.9 469.4C1477.9 469.9 1477.9 470.4 1477.9 470.9C1478 471.4 1478 471.9 1478.1 472.4C1478.1 472.9 1478.2 473.4 1478.3 473.9C1478.4 474.4 1478.5 474.9 1478.7 475.4C1478.8 475.9 1479 476.4 1479.3 476.9C1479.5 477.4 1479.7 477.9 1480 478.4C1480.3 478.9 1480.7 479.4 1481 479.9C1481.4 480.4 1481.8 480.9 1482.2 481.4C1482.6 481.9 1483 482.4 1483.4 482.9C1483.8 483.4 1484.2 483.9 1484.5 484.4C1484.8 484.9 1485.1 485.4 1485.3 485.9C1485.5 486.4 1485.7 486.9 1485.8 487.4C1485.8 487.9 1485.8 488.4 1485.7 488.9C1485.6 489.4 1485.4 489.9 1485.2 490.4C1484.9 490.9 1484.6 491.4 1484.3 491.9C1483.9 492.4 1483.5 492.9 1483.1 493.4C1482.8 493.9 1482.3 494.4 1481.9 494.9C1481.6 495.4 1481.2 495.9 1480.8 496.4C1480.5 496.9 1480.1 497.4 1479.9 497.9C1479.6 498.4 1479.3 498.9 1479.1 499.4C1478.9 499.9 1478.7 500.4 1478.6 500.9C1478.5 501.4 1478.3 501.9 1478.3 502.4C1478.2 502.9 1478.1 503.4 1478 503.9C1478 504.4 1478 504.9 1477.9 505.4C1477.9 505.9 1477.9 506.4 1477.9 506.9C1477.8 507.4 1477.8 506.6 1477.8 508.4C1477.8 510.1 1477.8 515.6 1477.8 517.4C1477.9 519.1 1477.9 518.4 1477.9 518.9C1477.9 519.4 1478 519.9 1478 520.4C1478 520.9 1478.1 521.4 1478.2 521.9C1478.3 522.4 1478.4 522.9 1478.5 523.4C1478.6 523.9 1478.8 524.4 1479 524.9C1479.2 525.4 1479.4 525.9 1479.7 526.4C1480 526.9 1480.3 527.4 1480.7 527.9C1481 528.4 1481.4 528.9 1481.8 529.4C1482.3 529.9 1482.7 530.4 1483.2 530.9C1483.6 531.4 1484.1 531.9 1484.5 532.4C1484.9 532.9 1485.4 533.4 1485.7 533.9C1486 534.4 1486.3 534.9 1486.5 535.4C1486.7 535.9 1486.8 536.4 1486.8 536.9C1486.8 537.4 1486.7 537.9 1486.6 538.4C1486.4 538.9 1486.1 539.4 1485.8 539.9C1485.5 540.4 1485.1 540.9 1484.7 541.4C1484.3 541.9 1483.8 542.4 1483.4 542.9C1482.9 543.4 1482.4 543.9 1482 544.4C1481.6 544.9 1481.2 545.4 1480.8 545.9C1480.4 546.4 1480.1 546.9 1479.8 547.4C1479.5 547.9 1479.3 548.4 1479.1 548.9C1478.9 549.4 1478.7 549.9 1478.5 550.4C1478.4 550.9 1478.3 551.4 1478.2 551.9C1478.1 552.4 1478.1 552.9 1478 553.4C1478 553.9 1477.9 554.4 1477.9 554.9C1477.9 555.4 1477.9 555.9 1477.9 556.4C1477.8 556.9 1477.8 557.4 1477.8 557.9C1477.8 558.4 1477.8 558.9 1477.8 559.4C1477.9 559.9 1477.9 560.4 1477.9 560.9C1478 561.4 1478 561.9 1478.1 562.4C1478.2 562.9 1478.3 563.4 1478.6 563.9C1478.8 564.4 1479.1 564.9 1479.5 565.4C1479.9 565.9 1480.4 566.4 1481 566.9C1481.6 567.4 1482.4 567.9 1483.2 568.4C1484.1 568.9 1485.1 569.4 1485.9 569.9C1486.8 570.4 1487.8 570.9 1488.6 571.4C1489.3 571.9 1490 572.4 1490.4 572.9C1490.7 573.4 1490.9 573.9 1490.7 574.4C1490.6 574.9 1490.1 575.4 1489.6 575.9C1489 576.4 1488.1 576.9 1487.2 577.4C1486.4 577.9 1485.3 578.4 1484.5 578.9C1483.6 579.4 1482.7 579.9 1482 580.4C1481.2 580.9 1480.6 581.4 1480.1 581.9C1479.6 582.4 1479.2 582.9 1478.9 583.4C1478.6 583.9 1478.4 584.4 1478.3 584.9C1478.1 585.4 1478.1 585.9 1478 586.4C1477.9 586.9 1477.9 587.4 1477.9 587.9C1477.8 588.4 1477.8 587.4 1477.8 589.4C1477.8 591.4 1477.8 598.1 1477.8 599.9" stroke="#ff22ff" stroke-width="2.7"/></g>
<rect x="1339.5" y="29.1" width="184.7" height="571.4" fill="none" stroke="#000" stroke-width="1.7"/>
<path d="M1334.5 29.1L1339.5 29.1M1334.5 100.5L1339.5 100.5M1334.5 171.9L1339.5 171.9M1334.5 243.4L1339.5 243.4M1334.5 314.8L1339.5 314.8M1334.5 386.2L1339.5 386.2M1334.5 457.7L1339.5 457.7M1334.5 529.1L1339.5 529.1M1334.5 600.5L1339.5 600.5M1385.3 600.5L1385.3 605.5M1477.9 600.5L1477.9 605.5" stroke="#000" stroke-width="1.3"/>
<text x="1385.3" y="623.5" font-size="19.5" text-anchor="middle" fill="#000">10</text>
<text x="1477.9" y="623.5" font-size="19.5" text-anchor="middle" fill="#000">0</text>
<text x="1431.8" y="649.5" font-size="22" text-anchor="middle" fill="#000">DOS [1/eV]</text>
<text x="1666.3" y="21.5" font-size="27" text-anchor="middle" fill="#000">EuSCl</text>
<path d="M1631.6 600.5L1631.6 29.1M1686.4 600.5L1686.4 29.1M1536.9 314.8L1795.7 314.8" stroke="#000" stroke-width="1.4" stroke-dasharray="3.85 2.22" fill="none"/>
<g clip-path="url(#cb2)"><path d="M1602.9 27C1604.3 27.5 1606.2 28.8 1611 29.7C1615.8 30.6 1625.9 31.8 1631.5 32.4C1637.2 33.1 1639.2 33.1 1644.8 33.8C1650.3 34.5 1658 35.9 1665 36.5C1672 37 1679.9 37.3 1686.6 37.2C1693.4 37 1700.1 36.6 1705.5 35.8C1710.9 35 1715.6 33.4 1719 32.4C1722.4 31.4 1723.7 30.6 1725.8 29.7C1727.8 28.8 1730.3 27.5 1731.2 27M1591.4 41.2C1592.9 42.6 1596.9 46.7 1600.2 49.3C1603.5 51.9 1605.8 54.9 1611 56.7C1616.2 58.6 1625.9 59.7 1631.5 60.4C1637.2 61 1639.2 60 1644.8 60.8C1650.3 61.5 1658 63.9 1665 64.8C1672 65.7 1679.9 66.3 1686.6 66.2C1693.4 66.1 1700.1 65.6 1705.5 64.2C1710.9 62.7 1714.5 60.6 1719 57.4C1723.5 54.3 1728.9 48.9 1732.5 45.3C1736.1 41.7 1737.9 38.7 1740.6 35.8C1743.3 32.9 1747.1 29.4 1748.7 27.7C1750.3 26 1749.8 26 1750.1 25.7M1765.6 25.7C1765.8 26.2 1765.9 27 1766.9 29.1C1768 31.1 1770 34.8 1771.7 37.8C1773.4 40.9 1775 44.5 1777.1 47.3C1779.1 50 1780.8 52.6 1783.8 54.4C1786.9 56.3 1793.4 57.8 1795.3 58.5M1767.9 25.7C1768.1 26.2 1768.3 26.6 1769.2 29.1C1770.2 31.5 1772 36.3 1773.7 40.1C1775.3 43.9 1777.1 48.6 1779.1 52C1781.1 55.4 1783.1 57.9 1785.8 60.4C1788.5 62.8 1793.7 65.8 1795.3 66.9M1537.4 277C1539.6 276.9 1544.7 277.5 1550.3 276.3C1555.8 275.2 1563.8 272.1 1570.5 270.3C1577.3 268.5 1584 266.7 1590.8 265.5C1597.5 264.4 1604.2 263.7 1611 263.2C1617.8 262.7 1624.8 262.6 1631.5 262.4C1638.3 262.2 1645.9 262.2 1651.5 261.9C1657.1 261.6 1659.2 260.8 1665 260.5C1670.9 260.2 1679.9 260.1 1686.6 260.1C1693.4 260.1 1699 260 1705.5 260.5C1712 261.1 1719 262.1 1725.8 263.5C1732.5 264.9 1739.3 267 1746 268.9C1752.8 270.8 1760.6 273.6 1766.3 275C1771.9 276.3 1774.9 276.7 1779.8 277C1784.6 277.3 1792.7 277 1795.3 277M1537.4 314.8C1539.6 315 1544.7 315.3 1550.3 316.2C1555.8 317.1 1563.8 319.1 1570.5 320.2C1577.3 321.3 1584 322.3 1590.8 322.9C1597.5 323.5 1604.2 323.6 1611 323.6C1617.8 323.6 1624.8 323.9 1631.5 322.9C1638.3 321.9 1645.9 318.7 1651.5 317.5C1657.1 316.3 1659.2 316.2 1665 315.9C1670.9 315.5 1679.9 315.2 1686.6 315.5C1693.4 315.7 1699 316.6 1705.5 317.5C1712 318.4 1719 320.3 1725.8 320.9C1732.5 321.4 1739.3 321.4 1746 320.9C1752.8 320.3 1760.6 318.4 1766.3 317.5C1771.9 316.6 1774.9 316 1779.8 315.5C1784.6 315 1792.7 314.7 1795.3 314.5M1537.4 331.3C1540.3 331.3 1547.8 331.4 1554.8 331.6C1561.9 331.8 1571.4 332.1 1579.7 332.4C1587.9 332.7 1595.8 332.9 1604.5 333.2C1613.2 333.6 1622.1 333.9 1631.8 334.6C1641.5 335.3 1653.5 336.6 1662.4 337.4C1671.4 338.1 1677.3 339.2 1685.6 339C1693.9 338.9 1702.2 337.7 1712.1 336.6C1722 335.4 1735.5 333.2 1745.2 332.4C1754.9 331.6 1761.7 331.8 1770 331.6C1778.3 331.4 1790.7 331.3 1794.9 331.3M1537.4 331.6C1540.3 332 1547.8 332.8 1554.8 334.1C1561.9 335.3 1571.4 337.7 1579.7 339C1587.9 340.4 1595.8 341.7 1604.5 342.3C1613.2 343 1622.1 342.5 1631.8 343.2C1641.5 343.9 1653.5 345.7 1662.4 346.5C1671.4 347.3 1677.3 348.1 1685.6 348.1C1693.9 348.1 1702.2 347.5 1712.1 346.5C1722 345.5 1735.5 344.3 1745.2 342.3C1754.9 340.4 1761.7 336.7 1770 334.9C1778.3 333 1790.7 331.9 1794.9 331.3M1537.4 348.1C1540.3 348.2 1547.8 348.3 1554.8 348.5C1561.9 348.6 1571.4 348.8 1579.7 349C1587.9 349.1 1595.8 349.3 1604.5 349.5C1613.2 349.6 1622.1 349.7 1631.8 349.8C1641.5 349.9 1653.5 349.8 1662.4 349.8C1671.4 349.8 1677.3 349.9 1685.6 349.8C1693.9 349.7 1702.2 349.6 1712.1 349.5C1722 349.3 1735.5 349.1 1745.2 349C1754.9 348.8 1761.7 348.6 1770 348.5C1778.3 348.3 1790.7 348.2 1794.9 348.1M1537.4 350.6C1540.3 350.7 1547.8 351 1554.8 351.1C1561.9 351.3 1571.4 351.5 1579.7 351.5C1587.9 351.5 1595.8 351.3 1604.5 351.1C1613.2 351 1622.1 350.7 1631.8 350.6C1641.5 350.5 1653.5 350.6 1662.4 350.6C1671.4 350.6 1677.3 350.5 1685.6 350.6C1693.9 350.7 1702.2 351 1712.1 351.1C1722 351.3 1735.5 351.5 1745.2 351.5C1754.9 351.5 1761.7 351.3 1770 351.1C1778.3 351 1790.7 350.7 1794.9 350.6M1537.4 353.9C1540.3 353.9 1547.8 353.9 1554.8 353.9C1561.9 353.9 1571.4 353.7 1579.7 353.9C1587.9 354.1 1595.8 354.5 1604.5 355.1C1613.2 355.6 1622.1 356.1 1631.8 357.2C1641.5 358.4 1653.5 360.8 1662.4 362.2C1671.4 363.6 1677.3 365.5 1685.6 365.5C1693.9 365.5 1702.2 363.9 1712.1 362.2C1722 360.6 1735.5 357 1745.2 355.6C1754.9 354.2 1761.7 354.2 1770 353.9C1778.3 353.7 1790.7 353.9 1794.9 353.9M1537.4 358.9C1540.3 358.6 1547.8 358.1 1554.8 357.2C1561.9 356.4 1571.4 354.8 1579.7 353.9C1587.9 353 1595.8 352.3 1604.5 351.8C1613.2 351.2 1622.1 350.9 1631.8 350.6C1641.5 350.3 1653.5 350.3 1662.4 350.1C1671.4 350 1677.3 349.7 1685.6 349.8C1693.9 349.9 1702.2 350.2 1712.1 350.6C1722 351 1735.5 351.3 1745.2 352.3C1754.9 353.2 1761.7 355.3 1770 356.4C1778.3 357.5 1790.7 358.5 1794.9 358.9M1537.4 363.4C1540.3 363.4 1547.8 363.5 1554.8 363.5C1561.9 363.6 1571.4 363.7 1579.7 363.9C1587.9 364 1595.8 364.2 1604.5 364.4C1613.2 364.5 1622.1 364.4 1631.8 364.7C1641.5 365 1653.5 365.8 1662.4 366.3C1671.4 366.9 1677.3 368.1 1685.6 368C1693.9 367.9 1702.2 366.3 1712.1 365.5C1722 364.7 1735.5 363.7 1745.2 363.4C1754.9 363 1761.7 363.4 1770 363.4C1778.3 363.4 1790.7 363.4 1794.9 363.4M1537.4 373C1540.3 373 1547.8 373.1 1554.8 373.1C1561.9 373.2 1571.4 373.3 1579.7 373.3C1587.9 373.3 1595.8 373.2 1604.5 373.1C1613.2 373.1 1622.1 372.3 1631.8 373C1641.5 373.6 1653.5 376 1662.4 377.1C1671.4 378.2 1677.3 379.6 1685.6 379.6C1693.9 379.6 1702.2 378.1 1712.1 377.1C1722 376.1 1735.5 374.5 1745.2 373.8C1754.9 373.1 1761.7 373.1 1770 373C1778.3 372.8 1790.7 373 1794.9 373M1537.4 377.1C1540.3 376.8 1547.8 375.9 1554.8 375.5C1561.9 375 1571.4 374.8 1579.7 374.6C1587.9 374.4 1595.8 374.3 1604.5 374.1C1613.2 374 1622.1 373.7 1631.8 373.8C1641.5 373.9 1653.5 374.5 1662.4 374.6C1671.4 374.8 1677.3 374.8 1685.6 374.6C1693.9 374.5 1702.2 373.8 1712.1 373.8C1722 373.8 1735.5 374.4 1745.2 374.6C1754.9 374.9 1761.7 375 1770 375.5C1778.3 375.9 1790.7 376.8 1794.9 377.1M1537.4 377.1C1540.3 377.8 1547.8 378.6 1554.8 381.2C1561.9 383.9 1571.4 389 1579.7 392.8C1587.9 396.7 1595.8 401.9 1604.5 404.4C1613.2 406.9 1622.1 408 1631.8 407.7C1641.5 407.5 1653.5 404.1 1662.4 402.8C1671.4 401.4 1677.3 399.5 1685.6 399.5C1693.9 399.5 1702.2 403.3 1712.1 402.8C1722 402.2 1735.5 399.2 1745.2 396.1C1754.9 393.1 1761.7 387.7 1770 384.6C1778.3 381.4 1790.7 378.4 1794.9 377.1M1537.4 387.9C1540.3 387.9 1547.8 388.1 1554.8 388.2C1561.9 388.3 1571.4 388.8 1579.7 388.7C1587.9 388.6 1595.8 388.1 1604.5 387.9C1613.2 387.6 1622.1 387.3 1631.8 387C1641.5 386.8 1653.5 386.7 1662.4 386.5C1671.4 386.4 1677.3 386.2 1685.6 386.2C1693.9 386.2 1702.2 386.4 1712.1 386.7C1722 387 1735.5 387.7 1745.2 387.9C1754.9 388.1 1761.7 387.9 1770 387.9C1778.3 387.9 1790.7 387.9 1794.9 387.9M1537.4 396.5C1540.3 396.7 1547.8 396.8 1554.8 397.8C1561.9 398.9 1571.4 401.1 1579.7 402.8C1587.9 404.4 1595.8 406.6 1604.5 407.7C1613.2 408.8 1622.1 409.9 1631.8 409.4C1641.5 408.8 1653.5 405.8 1662.4 404.4C1671.4 403 1677.3 401.3 1685.6 401.1C1693.9 401 1702.2 403.6 1712.1 403.6C1722 403.6 1735.5 402.1 1745.2 401.1C1754.9 400.1 1761.7 398.6 1770 397.8C1778.3 397 1790.7 396.7 1794.9 396.5M1537.6 504.9C1540.9 505.1 1541.9 505.9 1557.6 506.3C1573.3 506.6 1615.7 505.9 1631.8 506.8C1647.9 507.8 1648.1 510.7 1654.1 512.1C1660.1 513.4 1662.5 514.5 1667.9 515.1C1673.3 515.7 1680.8 515.9 1686.5 515.9C1692.3 516 1697.4 516 1702.4 515.5C1707.3 515 1710.4 513.9 1716.2 512.8C1721.9 511.6 1728.8 509.7 1736.8 508.6C1744.9 507.5 1754.8 506.9 1764.4 506.3C1774.1 505.7 1789.7 505.1 1794.8 504.9M1537.6 505.4C1540.9 505.6 1541.9 506.3 1557.6 506.5C1573.3 506.8 1616.8 506.6 1631.8 507.1C1646.7 507.6 1642.3 508.3 1647.2 509.6C1652.1 510.9 1656.4 512.8 1661 514.8C1665.6 516.9 1670.5 520 1674.8 522C1679 523.9 1681.9 524.6 1686.5 526.5C1691.1 528.4 1697.4 531.8 1702.4 533.4C1707.3 535.1 1711.6 536.3 1716.2 536.6C1720.8 537 1724.2 537.3 1729.9 535.5C1735.7 533.7 1743.7 529.2 1750.6 525.9C1757.5 522.5 1764 518 1771.3 515.5C1778.7 513 1790.8 511.5 1794.8 510.7M1537.6 510.7C1540.9 511.4 1551.9 513.1 1557.6 514.8C1563.2 516.5 1566.8 518.8 1571.4 521C1576 523.2 1580.6 525.7 1585.2 527.9C1589.8 530.1 1594.4 532.4 1598.9 534.1C1603.5 535.8 1607.3 537.4 1612.7 538.3C1618.2 539.1 1624.9 539.5 1631.8 539.4C1638.7 539.3 1648.1 538.6 1654.1 537.6C1660.1 536.6 1662.5 535 1667.9 533.4C1673.3 531.8 1679.6 530.8 1686.5 527.9C1693.4 525 1700.9 519.3 1709.3 516.2C1717.6 513.1 1727.6 510.8 1736.8 509.3C1746 507.8 1754.8 507.9 1764.4 507.2C1774.1 506.6 1789.7 505.7 1794.8 505.4M1537.6 511.4C1540.9 512.1 1551.9 513.7 1557.6 515.5C1563.2 517.3 1566.8 520 1571.4 522.4C1576 524.8 1580.6 527.5 1585.2 530C1589.8 532.5 1594.4 535.4 1598.9 537.6C1603.5 539.8 1607.3 541.7 1612.7 543.1C1618.2 544.5 1626 545.5 1631.8 545.8C1637.5 546.1 1641.2 546 1647.2 544.9C1653.2 543.7 1661.3 541.3 1667.9 539C1674.4 536.6 1680.8 531.5 1686.5 530.7C1692.3 529.9 1697.4 533.1 1702.4 534.1C1707.3 535.2 1711.6 536.8 1716.2 536.9C1720.8 537 1724.2 536.9 1729.9 534.8C1735.7 532.7 1743.7 527.8 1750.6 524.5C1757.5 521.1 1764 517 1771.3 514.8C1778.7 512.6 1790.8 511.9 1794.8 511.4M1537.6 537.6C1540.9 537 1550.1 535.5 1557.6 534.4C1565 533.3 1577.3 532.5 1582.4 531.1C1587.5 529.7 1582.9 528 1587.9 526.1C1593 524.3 1605.4 521.3 1612.7 520.1C1620 518.9 1623.7 519.1 1631.8 519C1639.8 518.8 1651.9 518.2 1661 519.2C1670.1 520.3 1678.5 524.9 1686.5 525.2C1694.6 525.4 1700.9 520.5 1709.3 520.6C1717.6 520.7 1729.9 524 1736.8 525.6C1743.7 527.1 1741 528 1750.6 530C1760.3 532 1787.4 536.3 1794.8 537.6M1537.6 568.6C1540.9 568.3 1549.6 568 1557.6 566.5C1565.5 565 1576 561.4 1585.2 559.6C1594.4 557.9 1605 556.6 1612.7 555.9C1620.5 555.2 1626 555.7 1631.8 555.5C1637.5 555.3 1641.2 555.5 1647.2 554.8C1653.2 554.1 1661.3 552.2 1667.9 551.4C1674.4 550.5 1679.6 549.6 1686.5 549.6C1693.4 549.6 1700.9 550 1709.3 551.4C1717.6 552.7 1727.6 555.4 1736.8 557.6C1746 559.8 1754.8 562.6 1764.4 564.5C1774.1 566.3 1789.7 567.9 1794.8 568.6" stroke="#0000ff" stroke-width="2.6" fill="none" stroke-linecap="round" stroke-linejoin="round"/>
<rect x="1536.9" y="28.4" width="53.1" height="39.6" fill="#fefefe"/>
<path d="M1538.4 31.7L1585 31.7" stroke="#3c3c3c" stroke-width="1.4"/>
<path d="M1559 30.3L1566 30.3M1581 30L1584.3 31" stroke="#0000ff" stroke-width="2" fill="none"/>
</g>
<text transform="translate(1546.3 60.5) scale(0.94 1)" font-size="27.4" fill="#000" stroke="#000" stroke-width="0.45" style="font-family:'Liberation Sans',sans-serif">(d)</text>
<rect x="1536.9" y="29.1" width="258.8" height="571.4" fill="none" stroke="#000" stroke-width="1.7"/>
<path d="M1531.9 29.1L1536.9 29.1M1531.9 100.5L1536.9 100.5M1531.9 171.9L1536.9 171.9M1531.9 243.4L1536.9 243.4M1531.9 314.8L1536.9 314.8M1531.9 386.2L1536.9 386.2M1531.9 457.7L1536.9 457.7M1531.9 529.1L1536.9 529.1M1531.9 600.5L1536.9 600.5M1536.9 600.5L1536.9 605.5M1631.6 600.5L1631.6 605.5M1686.4 600.5L1686.4 605.5M1795.7 600.5L1795.7 605.5" stroke="#000" stroke-width="1.3"/>
<text x="1536.9" y="623.5" font-size="19.5" text-anchor="middle" fill="#000">&#915;</text>
<text x="1631.6" y="623.5" font-size="19.5" text-anchor="middle" fill="#000">M</text>
<text x="1686.4" y="623.5" font-size="19.5" text-anchor="middle" fill="#000">K</text>
<text x="1795.7" y="623.5" font-size="19.5" text-anchor="middle" fill="#000">&#915;</text>
<path d="M1812.7 314.8L1997.7 314.8" stroke="#000" stroke-width="1.4" stroke-dasharray="3.85 2.22" fill="none"/>
<g clip-path="url(#cd2)" fill="none" stroke-linejoin="round"><path d="M1951.5 28.4C1951.5 73.7 1951.7 253.6 1951.5 300C1951.3 346.4 1952.4 304.6 1950.5 306.7C1948.6 308.8 1945.4 310.6 1940.3 312.5C1935.2 314.4 1924.8 316.4 1920 318.3C1915.2 320.2 1916.7 321.9 1911.4 324.1C1906.1 326.3 1891.4 328.8 1888.2 331.4C1885 334 1897.1 337.4 1892.5 340C1887.9 342.6 1864.8 345.4 1860.7 347.3C1856.6 349.2 1863.6 349.9 1867.9 351.6C1872.2 353.3 1886 355.5 1886.7 357.4C1887.4 359.3 1873.5 360.8 1872.3 363.2C1871.1 365.6 1869.6 369.2 1879.5 371.9C1889.4 374.5 1921.9 377.4 1931.6 379.1C1941.2 380.8 1938.8 380.6 1937.4 382C1936 383.4 1923 385.4 1923 387.8C1923 390.2 1933.6 393.1 1937.4 396.5C1941.2 399.9 1943.8 405 1946.1 408.1C1948.4 411.2 1950.6 383.3 1951.5 415.3C1952.4 447.3 1951.5 569.2 1951.5 600" stroke="#8b0000" stroke-width="1.9"/><path d="M1951.3 28.4C1951.3 28.6 1951.2 29.4 1951.1 29.9C1951.1 30.4 1951 30.9 1950.9 31.4C1950.8 31.9 1950.7 32.4 1950.7 32.9C1950.6 33.4 1950.5 33.9 1950.5 34.4C1950.5 34.9 1950.5 35.4 1950.5 35.9C1950.6 36.4 1950.6 36.9 1950.7 37.4C1950.8 37.9 1950.9 38.4 1950.9 38.9C1951 39.4 1951.1 39.9 1951.1 40.4C1951.2 40.9 1951.2 41.4 1951.2 41.9C1951.2 42.4 1951.2 42.9 1951.2 43.4C1951.2 43.9 1951.1 44.4 1951.1 44.9C1951 45.4 1950.9 45.9 1950.8 46.4C1950.7 46.9 1950.5 47.4 1950.4 47.9C1950.2 48.4 1950 48.9 1949.8 49.4C1949.5 49.9 1949.3 50.4 1949 50.9C1948.7 51.4 1948.4 51.9 1948.1 52.4C1947.8 52.9 1947.4 53.4 1947.1 53.9C1946.8 54.4 1946.4 54.9 1946.1 55.4C1945.8 55.9 1945.5 56.4 1945.3 56.9C1945.1 57.4 1944.8 57.9 1944.7 58.4C1944.6 58.9 1944.5 59.4 1944.5 59.9C1944.5 60.4 1944.6 60.9 1944.7 61.4C1944.8 61.9 1945 62.4 1945.2 62.9C1945.4 63.4 1945.7 63.9 1946 64.4C1946.3 64.9 1946.6 65.4 1946.9 65.9C1947.3 66.4 1947.6 66.9 1947.9 67.4C1948.3 67.9 1948.6 68.4 1948.9 68.9C1949.2 69.4 1949.4 69.9 1949.7 70.4C1949.9 70.9 1950.1 71.4 1950.3 71.9C1950.5 72.4 1950.6 72.9 1950.7 73.4C1950.9 73.9 1951 74.4 1951 74.9C1951.1 75.4 1951.2 75.9 1951.2 76.4C1951.3 76.9 1951.3 77.4 1951.4 77.9C1951.4 78.4 1951.4 78.9 1951.4 79.4C1951.4 79.9 1951.5 10.9 1951.5 80.9C1951.5 150.9 1951.5 429.4 1951.5 499.4C1951.4 569.4 1951.4 500.4 1951.4 500.9C1951.4 501.4 1951.4 501.9 1951.4 502.4C1951.3 502.9 1951.3 503.4 1951.3 503.9C1951.2 504.4 1951.2 504.9 1951.1 505.4C1951.1 505.9 1951 506.4 1951 506.9C1950.9 507.4 1950.8 507.9 1950.7 508.4C1950.6 508.9 1950.5 509.4 1950.4 509.9C1950.3 510.4 1950.2 510.9 1950.1 511.4C1949.9 511.9 1949.8 512.4 1949.7 512.9C1949.6 513.4 1949.4 513.9 1949.3 514.4C1949.2 514.9 1949.1 515.4 1949 515.9C1948.9 516.4 1948.8 516.9 1948.7 517.4C1948.6 517.9 1948.6 518.4 1948.5 518.9C1948.5 519.4 1948.5 519.9 1948.5 520.4C1948.5 520.9 1948.6 521.4 1948.6 521.9C1948.7 522.4 1948.7 522.9 1948.8 523.4C1948.9 523.9 1949 524.4 1949.1 524.9C1949.2 525.4 1949.4 525.9 1949.5 526.4C1949.6 526.9 1949.8 527.4 1949.9 527.9C1950 528.4 1950.1 528.9 1950.2 529.4C1950.3 529.9 1950.4 530.4 1950.5 530.9C1950.6 531.4 1950.6 531.9 1950.7 532.4C1950.7 532.9 1950.8 533.4 1950.8 533.9C1950.8 534.4 1950.8 534.9 1950.7 535.4C1950.7 535.9 1950.7 536.4 1950.6 536.9C1950.5 537.4 1950.5 537.9 1950.4 538.4C1950.3 538.9 1950.2 539.4 1950.1 539.9C1950 540.4 1949.9 540.9 1949.8 541.4C1949.8 541.9 1949.7 542.4 1949.6 542.9C1949.6 543.4 1949.5 543.9 1949.5 544.4C1949.5 544.9 1949.5 545.4 1949.5 545.9C1949.5 546.4 1949.6 546.9 1949.7 547.4C1949.7 547.9 1949.8 548.4 1949.9 548.9C1950 549.4 1950.1 549.9 1950.2 550.4C1950.3 550.9 1950.4 551.4 1950.5 551.9C1950.7 552.4 1950.7 552.9 1950.8 553.4C1950.9 553.9 1951 554.4 1951.1 554.9C1951.1 555.4 1951.2 555.9 1951.2 556.4C1951.3 556.9 1951.3 557.4 1951.4 557.9C1951.4 558.4 1951.4 558.9 1951.4 559.4C1951.4 559.9 1951.4 554.1 1951.5 560.9C1951.5 567.6 1951.5 593.4 1951.5 599.9M1954.5 28.4C1954.8 28.6 1955.7 29.4 1956.3 29.9C1956.8 30.4 1957.4 30.9 1957.8 31.4C1958.2 31.9 1958.5 32.4 1958.5 32.9C1958.5 33.4 1958.3 33.9 1958 34.4C1957.6 34.9 1957 35.4 1956.5 35.9C1956 36.4 1955.3 36.9 1954.7 37.4C1954.2 37.9 1953.6 38.4 1953.2 38.9C1952.8 39.4 1952.5 39.9 1952.3 40.4C1952 40.9 1951.9 41.4 1951.8 41.9C1951.7 42.4 1951.6 42.9 1951.6 43.4C1951.5 43.9 1951.5 -31.1 1951.5 44.9C1951.5 120.9 1951.5 423.4 1951.5 499.4C1951.5 575.4 1951.5 500.4 1951.6 500.9C1951.6 501.4 1951.6 501.9 1951.6 502.4C1951.6 502.9 1951.6 503.4 1951.6 503.9C1951.7 504.4 1951.7 504.9 1951.7 505.4C1951.8 505.9 1951.8 506.4 1951.9 506.9C1951.9 507.4 1952 507.9 1952 508.4C1952.1 508.9 1952.1 509.4 1952.2 509.9C1952.3 510.4 1952.4 510.9 1952.5 511.4C1952.5 511.9 1952.6 512.4 1952.7 512.9C1952.8 513.4 1952.9 513.9 1953 514.4C1953 514.9 1953.1 515.4 1953.2 515.9C1953.3 516.4 1953.3 516.9 1953.4 517.4C1953.4 517.9 1953.5 518.4 1953.5 518.9C1953.5 519.4 1953.5 519.9 1953.5 520.4C1953.5 520.9 1953.5 521.4 1953.4 521.9C1953.4 522.4 1953.3 522.9 1953.3 523.4C1953.2 523.9 1953.1 524.4 1953.1 524.9C1953 525.4 1952.9 525.9 1952.8 526.4C1952.7 526.9 1952.7 527.4 1952.6 527.9C1952.5 528.4 1952.4 528.9 1952.3 529.4C1952.2 529.9 1952.2 530.4 1952.1 530.9C1952 531.4 1952 531.9 1951.9 532.4C1951.9 532.9 1951.8 533.4 1951.8 533.9C1951.7 534.4 1951.7 534.9 1951.7 535.4C1951.7 535.9 1951.6 536.4 1951.6 536.9C1951.6 537.4 1951.6 537.9 1951.6 538.4C1951.6 538.9 1951.5 529.6 1951.5 539.9C1951.5 550.1 1951.5 589.9 1951.5 599.9" stroke="#158015" stroke-width="1.8"/><path d="M1951.5 28.4C1951.5 64.9 1951.5 210.7 1951.5 247.4C1951.5 284.1 1951.5 248.4 1951.4 248.9C1951.4 249.4 1951.3 249.9 1951.2 250.4C1951.1 250.9 1951 251.4 1950.8 251.9C1950.5 252.4 1950.2 252.9 1949.7 253.4C1949.2 253.9 1948.6 254.4 1947.7 254.9C1946.8 255.4 1945.7 255.9 1944.3 256.4C1942.9 256.9 1941.2 257.4 1939.5 257.9C1937.7 258.4 1935.6 258.9 1933.8 259.4C1932 259.9 1929.9 260.4 1928.5 260.9C1927 261.4 1925.7 261.9 1925.1 262.4C1924.5 262.9 1924.3 263.4 1924.8 263.9C1925.2 264.4 1926.3 264.9 1927.6 265.4C1928.9 265.9 1930.9 266.4 1932.7 266.9C1934.5 267.4 1936.6 267.9 1938.4 268.4C1940.2 268.9 1942 269.4 1943.4 269.9C1944.9 270.4 1946.1 270.9 1947.1 271.4C1948.1 271.9 1948.8 272.4 1949.4 272.9C1950 273.4 1950.3 273.9 1950.6 274.4C1950.9 274.9 1951 275.4 1951.2 275.9C1951.3 276.4 1951.3 276.9 1951.4 277.4C1951.4 277.9 1951.5 273.4 1951.5 278.9C1951.5 284.4 1951.5 304.9 1951.5 310.4C1951.5 315.9 1951.5 311.4 1951.4 311.9C1951.3 312.4 1951.3 312.9 1951.1 313.4C1950.9 313.9 1950.7 314.4 1950.3 314.9C1949.9 315.4 1949.4 315.9 1948.8 316.4C1948.3 316.9 1947.5 317.4 1946.9 317.9C1946.4 318.4 1945.8 318.9 1945.6 319.4C1945.4 319.9 1945.5 320.4 1945.8 320.9C1946.1 321.4 1946.7 321.9 1947.3 322.4C1947.9 322.9 1948.6 323.4 1949.2 323.9C1949.7 324.4 1950.2 324.9 1950.5 325.4C1950.9 325.9 1951 326.4 1951.2 326.9C1951.3 327.4 1951.4 327.9 1951.4 328.4C1951.4 328.9 1951.4 329.4 1951.4 329.9C1951.3 330.4 1951.2 330.9 1951.1 331.4C1950.9 331.9 1950.7 332.4 1950.4 332.9C1950.1 333.4 1949.7 333.9 1949.2 334.4C1948.7 334.9 1948.1 335.4 1947.4 335.9C1946.8 336.4 1946 336.9 1945.4 337.4C1944.8 337.9 1944.2 338.4 1943.9 338.9C1943.6 339.4 1943.4 339.9 1943.6 340.4C1943.7 340.9 1944.1 341.4 1944.6 341.9C1945.1 342.4 1945.8 342.9 1946.5 343.4C1947.1 343.9 1947.9 344.4 1948.4 344.9C1949 345.4 1949.5 345.9 1949.9 346.4C1950.3 346.9 1950.6 347.4 1950.8 347.9C1951.1 348.4 1951.2 348.9 1951.3 349.4C1951.3 349.9 1951.4 350.4 1951.4 350.9C1951.4 351.4 1951.4 351.9 1951.3 352.4C1951.2 352.9 1951.2 353.4 1951 353.9C1950.8 354.4 1950.6 354.9 1950.3 355.4C1949.9 355.9 1949.5 356.4 1949 356.9C1948.5 357.4 1947.9 357.9 1947.3 358.4C1946.8 358.9 1946.1 359.4 1945.6 359.9C1945.2 360.4 1944.8 360.9 1944.6 361.4C1944.4 361.9 1944.5 362.4 1944.7 362.9C1944.9 363.4 1945.4 363.9 1945.9 364.4C1946.4 364.9 1947.1 365.4 1947.7 365.9C1948.3 366.4 1948.9 366.9 1949.3 367.4C1949.8 367.9 1950.2 368.4 1950.5 368.9C1950.7 369.4 1950.9 369.9 1951.1 370.4C1951.2 370.9 1951.3 371.4 1951.3 371.9C1951.3 372.4 1951.3 372.9 1951.2 373.4C1951.1 373.9 1951 374.4 1950.7 374.9C1950.4 375.4 1950 375.9 1949.3 376.4C1948.6 376.9 1947.7 377.4 1946.5 377.9C1945.3 378.4 1943.7 378.9 1942.1 379.4C1940.4 379.9 1938.3 380.4 1936.5 380.9C1934.8 381.4 1932.8 381.9 1931.6 382.4C1930.5 382.9 1929.6 383.4 1929.5 383.9C1929.4 384.4 1930.1 384.9 1931.2 385.4C1932.2 385.9 1934.1 386.4 1935.8 386.9C1937.5 387.4 1939.6 387.9 1941.3 388.4C1943 388.9 1944.7 389.4 1946 389.9C1947.2 390.4 1948.1 390.9 1948.8 391.4C1949.4 391.9 1949.7 392.4 1949.7 392.9C1949.7 393.4 1949.4 393.9 1948.7 394.4C1948.1 394.9 1947.1 395.4 1945.8 395.9C1944.5 396.4 1942.6 396.9 1940.8 397.4C1938.9 397.9 1936.4 398.4 1934.5 398.9C1932.5 399.4 1930.3 399.9 1928.9 400.4C1927.6 400.9 1926.6 401.4 1926.5 401.9C1926.4 402.4 1927.2 402.9 1928.4 403.4C1929.6 403.9 1931.7 404.4 1933.6 404.9C1935.6 405.4 1938 405.9 1940 406.4C1941.9 406.9 1943.8 407.4 1945.3 407.9C1946.7 408.4 1947.8 408.9 1948.7 409.4C1949.6 409.9 1950 410.4 1950.4 410.9C1950.9 411.4 1951 411.9 1951.2 412.4C1951.3 412.9 1951.4 413.4 1951.4 413.9C1951.5 414.4 1951.5 400.6 1951.5 415.4C1951.5 430.1 1951.5 487.6 1951.5 502.4C1951.5 517.1 1951.4 503.4 1951.4 503.9C1951.4 504.4 1951.4 504.9 1951.4 505.4C1951.3 505.9 1951.3 506.4 1951.2 506.9C1951.2 507.4 1951.1 507.9 1951 508.4C1950.9 508.9 1950.8 509.4 1950.7 509.9C1950.6 510.4 1950.4 510.9 1950.2 511.4C1950.1 511.9 1949.9 512.4 1949.7 512.9C1949.5 513.4 1949.3 513.9 1949 514.4C1948.8 514.9 1948.6 515.4 1948.4 515.9C1948.2 516.4 1948 516.9 1947.9 517.4C1947.8 517.9 1947.6 518.4 1947.6 518.9C1947.5 519.4 1947.5 519.9 1947.5 520.4C1947.5 520.9 1947.6 521.4 1947.7 521.9C1947.8 522.4 1948 522.9 1948.2 523.4C1948.3 523.9 1948.5 524.4 1948.8 524.9C1949 525.4 1949.2 525.9 1949.4 526.4C1949.6 526.9 1949.8 527.4 1950 527.9C1950.2 528.4 1950.3 528.9 1950.5 529.4C1950.6 529.9 1950.8 530.4 1950.9 530.9C1951 531.4 1951.1 531.9 1951.1 532.4C1951.2 532.9 1951.3 533.4 1951.3 533.9C1951.3 534.4 1951.4 534.9 1951.4 535.4C1951.4 535.9 1951.4 526.1 1951.5 536.9C1951.5 547.6 1951.5 589.4 1951.5 599.9M1951.5 28.4C1951.5 79.9 1951.5 285.6 1951.5 337.4C1951.5 389.1 1951.5 338.4 1951.6 338.9C1951.7 339.4 1951.7 339.9 1952 340.4C1952.3 340.9 1952.6 341.4 1953.3 341.9C1954.1 342.4 1955 342.9 1956.6 343.4C1958.2 343.9 1960.3 344.4 1962.8 344.9C1965.2 345.4 1968.6 345.9 1971.4 346.4C1974.2 346.9 1977.7 347.4 1979.7 347.9C1981.7 348.4 1983.3 348.9 1983.5 349.4C1983.6 349.9 1982.4 350.4 1980.5 350.9C1978.7 351.4 1975.4 351.9 1972.6 352.4C1969.8 352.9 1966.4 353.4 1963.8 353.9C1961.2 354.4 1958.9 354.9 1957.2 355.4C1955.5 355.9 1954.5 356.4 1953.6 356.9C1952.8 357.4 1952.5 357.9 1952.1 358.4C1951.8 358.9 1951.8 359.4 1951.7 359.9C1951.6 360.4 1951.6 360.9 1951.6 361.4C1951.7 361.9 1951.7 362.4 1951.9 362.9C1952 363.4 1952.1 363.9 1952.5 364.4C1952.8 364.9 1953.2 365.4 1953.9 365.9C1954.6 366.4 1955.5 366.9 1956.8 367.4C1958 367.9 1959.6 368.4 1961.6 368.9C1963.6 369.4 1966.1 369.9 1968.7 370.4C1971.3 370.9 1974.4 371.4 1977.2 371.9C1980 372.4 1983.2 372.9 1985.5 373.4C1987.8 373.9 1990 374.4 1991.1 374.9C1992.3 375.4 1992.7 375.9 1992.3 376.4C1991.9 376.9 1990.4 377.4 1988.6 377.9C1986.7 378.4 1983.9 378.9 1981.2 379.4C1978.6 379.9 1975.3 380.4 1972.5 380.9C1969.8 381.4 1966.9 381.9 1964.6 382.4C1962.4 382.9 1960.4 383.4 1958.8 383.9C1957.2 384.4 1956 384.9 1955.1 385.4C1954.2 385.9 1953.6 386.4 1953.2 386.9C1952.8 387.4 1952.7 387.9 1952.6 388.4C1952.6 388.9 1952.7 389.4 1953 389.9C1953.3 390.4 1953.7 390.9 1954.3 391.4C1954.9 391.9 1955.6 392.4 1956.6 392.9C1957.6 393.4 1958.8 393.9 1960.1 394.4C1961.4 394.9 1963 395.4 1964.5 395.9C1966 396.4 1967.7 396.9 1969.2 397.4C1970.6 397.9 1972.1 398.4 1973.1 398.9C1974.1 399.4 1975 399.9 1975.3 400.4C1975.6 400.9 1975.5 401.4 1975 401.9C1974.6 402.4 1973.6 402.9 1972.4 403.4C1971.3 403.9 1969.7 404.4 1968.2 404.9C1966.8 405.4 1965 405.9 1963.5 406.4C1962 406.9 1960.5 407.4 1959.3 407.9C1958 408.4 1956.9 408.9 1956 409.4C1955.1 409.9 1954.4 410.4 1953.9 410.9C1953.3 411.4 1952.9 411.9 1952.6 412.4C1952.3 412.9 1952.1 413.4 1952 413.9C1951.8 414.4 1951.7 414.9 1951.7 415.4C1951.6 415.9 1951.6 416.4 1951.6 416.9C1951.5 417.4 1951.5 397.9 1951.5 418.4C1951.5 438.9 1951.5 519.4 1951.5 539.9C1951.5 560.4 1951.6 540.9 1951.6 541.4C1951.6 541.9 1951.7 542.4 1951.8 542.9C1951.8 543.4 1951.9 543.9 1952.1 544.4C1952.3 544.9 1952.5 545.4 1952.8 545.9C1953.1 546.4 1953.5 546.9 1953.9 547.4C1954.3 547.9 1954.9 548.4 1955.4 548.9C1955.9 549.4 1956.5 549.9 1957.1 550.4C1957.6 550.9 1958.2 551.4 1958.6 551.9C1959 552.4 1959.3 552.9 1959.4 553.4C1959.5 553.9 1959.5 554.4 1959.3 554.9C1959.1 555.4 1958.7 555.9 1958.3 556.4C1957.9 556.9 1957.3 557.4 1956.7 557.9C1956.2 558.4 1955.6 558.9 1955.1 559.4C1954.5 559.9 1954 560.4 1953.6 560.9C1953.2 561.4 1952.9 561.9 1952.6 562.4C1952.4 562.9 1952.2 563.4 1952 563.9C1951.9 564.4 1951.8 564.9 1951.7 565.4C1951.6 565.9 1951.6 566.4 1951.6 566.9C1951.5 567.4 1951.5 562.9 1951.5 568.4C1951.5 573.9 1951.5 594.6 1951.5 599.9" stroke="#00007e" stroke-width="1.9"/><path d="M1951.5 28.4C1951.5 65.7 1951.5 214.4 1951.5 251.9C1951.5 289.4 1951.5 252.9 1951.4 253.4C1951.4 253.9 1951.4 254.4 1951.3 254.9C1951.1 255.4 1951 255.9 1950.7 256.4C1950.5 256.9 1950.1 257.4 1949.6 257.9C1949.1 258.4 1948.4 258.9 1947.7 259.4C1947 259.9 1946.1 260.4 1945.5 260.9C1944.8 261.4 1944.1 261.9 1943.8 262.4C1943.5 262.9 1943.4 263.4 1943.6 263.9C1943.8 264.4 1944.5 264.9 1945.1 265.4C1945.7 265.9 1946.6 266.4 1947.3 266.9C1948 267.4 1948.7 267.9 1949.3 268.4C1949.8 268.9 1950.3 269.4 1950.6 269.9C1950.9 270.4 1951 270.9 1951.2 271.4C1951.3 271.9 1951.4 272.4 1951.4 272.9C1951.5 273.4 1951.5 238.4 1951.5 274.4C1951.5 310.4 1951.5 451.9 1951.5 488.9C1951.5 525.9 1954 494.6 1951.5 496.6C1949 498.6 1941.5 499.5 1936.2 500.7C1930.9 501.9 1924.1 502.8 1919.7 504C1915.3 505.2 1910 506.5 1909.7 508.2C1909.4 509.9 1917.6 512.1 1918 514C1918.4 515.9 1912.2 517.9 1912.2 519.7C1912.2 521.5 1915.5 523 1918 524.7C1920.5 526.4 1926.5 527.9 1927.1 529.7C1927.6 531.5 1920.9 533.7 1921.3 535.5C1921.7 537.3 1925.4 538.4 1929.6 540.5C1933.8 542.6 1942.5 545.8 1946.2 547.9C1949.9 550 1950.6 544.2 1951.5 552.9C1952.4 561.6 1951.5 592.1 1951.5 600M1951.5 28.4C1951.5 80.4 1951.5 288.1 1951.5 340.4C1951.6 392.6 1951.5 341.4 1951.6 341.9C1951.8 342.4 1951.8 342.9 1952.1 343.4C1952.5 343.9 1952.8 344.4 1953.6 344.9C1954.4 345.4 1955.5 345.9 1956.7 346.4C1958 346.9 1959.9 347.4 1961.3 347.9C1962.8 348.4 1964.6 348.9 1965.4 349.4C1966.2 349.9 1966.7 350.4 1966.4 350.9C1966 351.4 1964.7 351.9 1963.5 352.4C1962.2 352.9 1960.2 353.4 1958.8 353.9C1957.3 354.4 1955.9 354.9 1954.8 355.4C1953.8 355.9 1953.2 356.4 1952.7 356.9C1952.2 357.4 1952 357.9 1951.8 358.4C1951.6 358.9 1951.6 359.4 1951.6 359.9C1951.5 360.4 1951.5 339.9 1951.5 361.4C1951.5 382.9 1951.5 466.4 1951.5 488.9C1951.5 511.4 1949.9 494.6 1951.5 496.6C1953.1 498.6 1956.7 499.5 1961.1 500.7C1965.5 501.9 1972.5 502.8 1977.7 504C1983 505.2 1992.6 506.7 1992.6 508.2C1992.6 509.7 1982.1 511 1977.7 513.1C1973.3 515.2 1968.3 518.4 1966.1 520.6C1963.9 522.8 1963.3 524.3 1964.4 526.4C1965.5 528.5 1969.9 531.4 1972.7 533C1975.5 534.6 1981.5 534.9 1981 536.3C1980.5 537.7 1972.6 539.9 1969.4 541.3C1966.2 542.7 1961.9 543.2 1961.9 544.6C1961.9 546 1967.1 548 1969.4 549.6C1971.8 551.2 1976 552.9 1976 554.5C1976 556.1 1972.7 557.6 1969.4 559.5C1966.1 561.4 1959.1 564.3 1956.1 566.1C1953.1 567.9 1952.3 564.6 1951.5 570.3C1950.7 575.9 1951.5 595 1951.5 600" stroke="#ff22ff" stroke-width="2.7"/></g>
<rect x="1812.7" y="29.1" width="185" height="571.4" fill="none" stroke="#000" stroke-width="1.7"/>
<path d="M1807.7 29.1L1812.7 29.1M1807.7 100.5L1812.7 100.5M1807.7 171.9L1812.7 171.9M1807.7 243.4L1812.7 243.4M1807.7 314.8L1812.7 314.8M1807.7 386.2L1812.7 386.2M1807.7 457.7L1812.7 457.7M1807.7 529.1L1812.7 529.1M1807.7 600.5L1812.7 600.5M1858.9 600.5L1858.9 605.5M1951.5 600.5L1951.5 605.5" stroke="#000" stroke-width="1.3"/>
<text x="1858.9" y="623.5" font-size="19.5" text-anchor="middle" fill="#000">10</text>
<text x="1951.5" y="623.5" font-size="19.5" text-anchor="middle" fill="#000">0</text>
<text x="1905.2" y="649.5" font-size="22" text-anchor="middle" fill="#000">DOS [1/eV]</text>
<text transform="translate(543 314.5) rotate(-90)" font-size="26" text-anchor="middle" fill="#000"><tspan font-style="italic">E</tspan> &#8722; <tspan font-style="italic">E</tspan><tspan font-size="18" dy="5" font-style="italic">F</tspan><tspan dy="-5"> [eV]</tspan></text>
<rect x="687.6" y="674" width="1204" height="48.6" rx="4.5" ry="4.5" fill="#fefefe" stroke="#d0d0d0" stroke-width="1.3"/>
<path d="M697 696.3L754.5 696.3" stroke="#8b0000" stroke-width="2" stroke-linecap="round"/>
<text x="776.1" y="705.5" font-size="27" fill="#000">Eu f up/down</text>
<path d="M1008.6 696.3L1066.1 696.3" stroke="#158015" stroke-width="2" stroke-linecap="round"/>
<text x="1088.6" y="705.5" font-size="27" fill="#000">Eu d up/down</text>
<path d="M1328 696.3L1385.5 696.3" stroke="#00007e" stroke-width="2" stroke-linecap="round"/>
<text x="1406.8" y="705.5" font-size="27" fill="#000">S p up/down</text>
<path d="M1630.8 696.3L1688.3 696.3" stroke="#ff22ff" stroke-width="2" stroke-linecap="round"/>
<text x="1709.5" y="705.5" font-size="27" fill="#000">X p up/down</text>
</svg></body></html>
